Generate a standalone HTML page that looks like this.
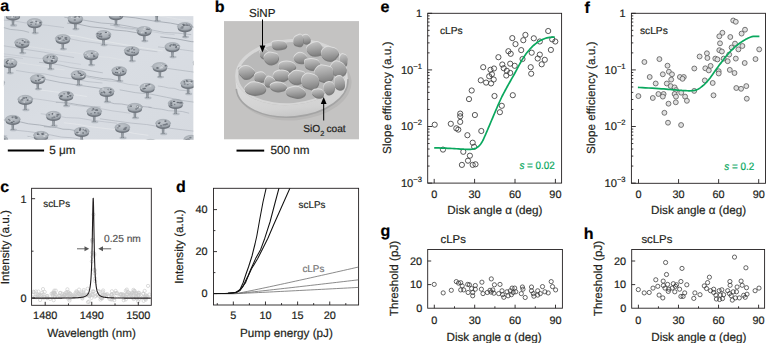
<!DOCTYPE html>
<html><head><meta charset="utf-8"><style>
html,body{margin:0;padding:0;background:#fff;width:766px;height:343px;overflow:hidden}
svg{display:block;font-family:"Liberation Sans", sans-serif;text-rendering:geometricPrecision}
</style></head><body>
<svg width="766" height="343" viewBox="0 0 766 343">
<rect width="766" height="343" fill="#fff"/>
<text x="0.20" y="10.80" font-size="16" text-anchor="start" font-weight="bold" fill="#000" stroke="#000" stroke-width="0.2" >a</text>
<text x="214.70" y="12.20" font-size="16" text-anchor="start" font-weight="bold" fill="#000" stroke="#000" stroke-width="0.2" >b</text>
<text x="0.20" y="192.30" font-size="16" text-anchor="start" font-weight="bold" fill="#000" stroke="#000" stroke-width="0.2" >c</text>
<text x="176.00" y="191.60" font-size="16" text-anchor="start" font-weight="bold" fill="#000" stroke="#000" stroke-width="0.2" >d</text>
<text x="380.40" y="11.60" font-size="16" text-anchor="start" font-weight="bold" fill="#000" stroke="#000" stroke-width="0.2" >e</text>
<text x="584.60" y="12.60" font-size="16" text-anchor="start" font-weight="bold" fill="#000" stroke="#000" stroke-width="0.2" >f</text>
<text x="380.60" y="236.20" font-size="16" text-anchor="start" font-weight="bold" fill="#000" stroke="#000" stroke-width="0.2" >g</text>
<text x="583.80" y="238.90" font-size="16" text-anchor="start" font-weight="bold" fill="#000" stroke="#000" stroke-width="0.2" >h</text>
<defs><linearGradient id="abg" x1="0" y1="0" x2="1" y2="1"><stop offset="0" stop-color="#d2d7dd"/><stop offset="0.5" stop-color="#d9dde3"/><stop offset="1" stop-color="#d6dae0"/></linearGradient><radialGradient id="cap" cx="0.45" cy="0.35" r="0.7"><stop offset="0" stop-color="#bfc4ca"/><stop offset="0.7" stop-color="#a9afb6"/><stop offset="1" stop-color="#8f959c"/></radialGradient><linearGradient id="stem" x1="0" y1="0" x2="1" y2="0"><stop offset="0" stop-color="#737981"/><stop offset="0.5" stop-color="#99a0a7"/><stop offset="1" stop-color="#646a72"/></linearGradient><clipPath id="clipa"><rect x="3.9" y="16.1" width="189.7" height="123.6"/></clipPath><clipPath id="clipb"><rect x="224" y="21.1" width="135" height="118.5"/></clipPath><linearGradient id="bbg" x1="0" y1="0" x2="1" y2="0"><stop offset="0" stop-color="#bdbdbd"/><stop offset="1" stop-color="#cecece"/></linearGradient><linearGradient id="blob" x1="0.3" y1="0" x2="0.5" y2="1"><stop offset="0" stop-color="#c4c4c4"/><stop offset="0.5" stop-color="#a5a5a5"/><stop offset="1" stop-color="#828282"/></linearGradient><linearGradient id="rim" x1="0" y1="0" x2="0" y2="1"><stop offset="0" stop-color="#dedede"/><stop offset="0.8" stop-color="#d2d2d2"/><stop offset="1" stop-color="#c6c6c6"/></linearGradient><filter id="soft" x="-5%" y="-5%" width="110%" height="110%"><feGaussianBlur stdDeviation="0.45"/></filter></defs>
<g clip-path="url(#clipa)"><g filter="url(#soft)">
<rect x="3.9" y="16.1" width="189.7" height="123.6" fill="url(#abg)"/>
<path d="M119.68,89.82 L135.28,92.64 L150.88,94.17 L166.48,97.29 L182.09,100.46 L197.69,102.71 L213.29,105.61" fill="none" stroke="#a6acb4" stroke-width="0.6173070100030382" stroke-linejoin="round" />
<path d="M43.86,126.64 L50.22,127.05 L56.58,127.57 L62.94,129.19 L69.30,129.41 L75.66,130.65 L82.02,130.62" fill="none" stroke="#9fa5ad" stroke-width="0.7278536342097526" stroke-linejoin="round" />
<path d="M-35.73,14.76 L-19.11,17.72 L-2.49,19.63 L14.13,20.96 L30.75,23.81 L47.37,25.34 L63.99,27.54" fill="none" stroke="#aeb4bc" stroke-width="0.5317509008455217" stroke-linejoin="round" />
<path d="M5.24,140.81 L23.11,143.66 L40.98,146.66 L58.85,148.23 L76.72,150.69 L94.58,153.65 L112.45,155.74" fill="none" stroke="#9fa5ad" stroke-width="0.7550704122964611" stroke-linejoin="round" />
<path d="M28.99,46.56 L44.90,48.97 L60.82,51.45 L76.73,52.88 L92.65,56.19 L108.56,57.26 L124.47,60.34" fill="none" stroke="#e4e7ea" stroke-width="0.4581303909203386" stroke-linejoin="round" />
<path d="M40.80,113.72 L53.51,115.28 L66.23,117.62 L78.94,118.11 L91.65,120.19 L104.37,121.80 L117.08,123.22" fill="none" stroke="#b8bdc5" stroke-width="0.6806232054506014" stroke-linejoin="round" />
<path d="M16.59,130.34 L27.76,131.47 L38.93,133.01 L50.10,134.80 L61.27,137.08 L72.44,137.78 L83.62,139.77" fill="none" stroke="#b8bdc5" stroke-width="0.8631392334899906" stroke-linejoin="round" />
<path d="M157.98,46.87 L170.25,48.29 L182.52,49.75 L194.79,51.41 L207.06,53.64 L219.32,55.59 L231.59,56.17" fill="none" stroke="#a6acb4" stroke-width="0.4864312044830218" stroke-linejoin="round" />
<path d="M157.86,86.01 L163.28,86.74 L168.71,88.05 L174.13,88.29 L179.55,90.12 L184.98,90.55 L190.40,91.59" fill="none" stroke="#b8bdc5" stroke-width="0.8272931765256595" stroke-linejoin="round" />
<path d="M117.55,16.03 L135.21,17.82 L152.88,20.83 L170.54,23.10 L188.21,26.54 L205.87,28.50 L223.53,31.30" fill="none" stroke="#9fa5ad" stroke-width="0.8335137019021843" stroke-linejoin="round" />
<path d="M59.14,142.48 L70.65,144.02 L82.16,145.93 L93.67,147.39 L105.18,149.43 L116.69,151.94 L128.20,153.67" fill="none" stroke="#e4e7ea" stroke-width="0.8405095204883475" stroke-linejoin="round" />
<path d="M67.19,23.12 L79.06,24.29 L90.93,26.86 L102.80,28.03 L114.67,30.01 L126.54,31.04 L138.41,33.06" fill="none" stroke="#9fa5ad" stroke-width="0.7670113083030163" stroke-linejoin="round" />
<path d="M65.89,37.98 L81.16,41.07 L96.42,43.03 L111.68,45.26 L126.95,46.89 L142.21,49.84 L157.47,51.80" fill="none" stroke="#b8bdc5" stroke-width="0.6583225449917609" stroke-linejoin="round" />
<path d="M99.86,118.77 L115.50,120.93 L131.13,123.09 L146.77,124.56 L162.40,127.20 L178.04,129.28 L193.67,131.11" fill="none" stroke="#b8bdc5" stroke-width="0.8804324146393885" stroke-linejoin="round" />
<path d="M75.06,74.35 L82.28,74.95 L89.49,76.36 L96.71,77.55 L103.92,78.72 L111.14,79.21 L118.36,81.09" fill="none" stroke="#9fa5ad" stroke-width="0.6824048336558066" stroke-linejoin="round" />
<path d="M27.46,136.29 L39.84,139.17 L52.21,140.21 L64.59,142.68 L76.96,144.73 L89.34,146.21 L101.72,148.91" fill="none" stroke="#aeb4bc" stroke-width="0.7338893229015772" stroke-linejoin="round" />
<path d="M62.93,1.94 L70.95,3.07 L78.97,3.81 L86.98,4.73 L95.00,5.45 L103.02,6.88 L111.03,7.68" fill="none" stroke="#9fa5ad" stroke-width="0.4823896439043729" stroke-linejoin="round" />
<path d="M114.68,27.30 L124.67,28.49 L134.66,29.81 L144.64,30.91 L154.63,32.05 L164.62,33.86 L174.60,34.67" fill="none" stroke="#b8bdc5" stroke-width="0.4926697487598404" stroke-linejoin="round" />
<path d="M35.17,78.27 L47.91,79.92 L60.66,82.53 L73.40,84.46 L86.15,86.27 L98.89,88.13 L111.64,90.81" fill="none" stroke="#9fa5ad" stroke-width="0.6646640873010878" stroke-linejoin="round" />
<path d="M-8.17,26.17 L-1.96,26.82 L4.25,27.74 L10.46,29.44 L16.67,29.98 L22.88,30.71 L29.09,32.36" fill="none" stroke="#9fa5ad" stroke-width="0.6191317367787689" stroke-linejoin="round" />
<path d="M11.43,60.71 L20.32,62.90 L29.20,64.34 L38.09,65.46 L46.98,66.55 L55.86,68.91 L64.75,69.82" fill="none" stroke="#e4e7ea" stroke-width="0.458852092129131" stroke-linejoin="round" />
<path d="M28.47,137.30 L45.87,140.13 L63.26,142.56 L80.65,143.76 L98.05,145.58 L115.44,147.75 L132.84,150.12" fill="none" stroke="#e4e7ea" stroke-width="0.6896540932516897" stroke-linejoin="round" />
<path d="M160.30,36.89 L175.73,38.68 L191.15,41.60 L206.58,42.69 L222.00,44.99 L237.43,46.76 L252.86,48.89" fill="none" stroke="#9fa5ad" stroke-width="0.8462969074738246" stroke-linejoin="round" />
<path d="M-32.70,130.60 L-26.02,131.33 L-19.34,132.32 L-12.66,132.33 L-5.98,133.56 L0.70,134.81 L7.38,135.81" fill="none" stroke="#aeb4bc" stroke-width="0.46639301107284625" stroke-linejoin="round" />
<path d="M59.58,34.02 L76.80,36.19 L94.02,39.92 L111.24,42.31 L128.46,45.30 L145.68,48.27 L162.90,50.99" fill="none" stroke="#e4e7ea" stroke-width="0.8364117977043382" stroke-linejoin="round" />
<path d="M63.80,122.76 L77.90,124.40 L92.00,126.91 L106.09,128.52 L120.19,130.32 L134.29,133.41 L148.39,135.34" fill="none" stroke="#e4e7ea" stroke-width="0.859804027825056" stroke-linejoin="round" />
<path d="M64.37,17.30 L76.69,18.81 L89.01,21.05 L101.33,23.05 L113.65,23.88 L125.97,25.79 L138.29,28.23" fill="none" stroke="#a6acb4" stroke-width="0.7486206324694661" stroke-linejoin="round" />
<path d="M115.65,0.17 L133.69,2.46 L151.74,6.48 L169.79,8.80 L187.84,12.37 L205.89,15.81 L223.94,18.59" fill="none" stroke="#aeb4bc" stroke-width="0.8973238906385139" stroke-linejoin="round" />
<path d="M55.87,102.33 L63.31,102.35 L70.76,103.42 L78.20,104.74 L85.64,105.76 L93.08,106.77 L100.52,107.11" fill="none" stroke="#9fa5ad" stroke-width="0.7088650685046564" stroke-linejoin="round" />
<path d="M148.38,107.23 L155.17,108.49 L161.96,109.28 L168.75,110.75 L175.54,110.99 L182.33,111.53 L189.12,113.22" fill="none" stroke="#aeb4bc" stroke-width="0.70589169065733" stroke-linejoin="round" />
<path d="M24.85,97.46 L42.41,99.78 L59.97,102.50 L77.53,105.72 L95.09,107.58 L112.65,110.92 L130.21,113.23" fill="none" stroke="#b8bdc5" stroke-width="0.6540022017921419" stroke-linejoin="round" />
<path d="M-8.55,54.52 L-3.30,54.56 L1.95,56.24 L7.20,56.50 L12.45,57.12 L17.69,57.73 L22.94,58.50" fill="none" stroke="#b8bdc5" stroke-width="0.4984082326919482" stroke-linejoin="round" />
<path d="M77.74,76.24 L87.87,77.25 L98.00,79.32 L108.13,80.89 L118.25,81.72 L128.38,84.35 L138.51,85.47" fill="none" stroke="#aeb4bc" stroke-width="0.5128943504070513" stroke-linejoin="round" />
<path d="M38.30,89.96 L46.44,90.70 L54.57,91.80 L62.70,92.56 L70.84,94.45 L78.97,95.28 L87.10,96.53" fill="none" stroke="#e4e7ea" stroke-width="0.8825613024324869" stroke-linejoin="round" />
<path d="M-28.47,50.05 L-10.23,52.15 L8.02,54.36 L26.26,56.78 L44.50,59.03 L62.74,61.63 L80.98,64.41" fill="none" stroke="#b8bdc5" stroke-width="0.4501978344630037" stroke-linejoin="round" />
<path d="M150.75,66.59 L164.01,67.95 L177.27,69.81 L190.53,71.62 L203.79,73.68 L217.05,75.49 L230.31,77.88" fill="none" stroke="#aeb4bc" stroke-width="0.6984283824587628" stroke-linejoin="round" />
<path d="M135.77,12.08 L150.77,15.37 L165.78,16.96 L180.78,19.70 L195.79,21.44 L210.79,23.38 L225.80,25.59" fill="none" stroke="#e4e7ea" stroke-width="0.6622792846110394" stroke-linejoin="round" />
<path d="M-11.34,138.12 L2.58,139.96 L16.49,141.05 L30.40,142.87 L44.32,144.43 L58.23,146.46 L72.15,148.05" fill="none" stroke="#e4e7ea" stroke-width="0.8602528641977709" stroke-linejoin="round" />
<path d="M106.81,101.59 L114.27,103.68 L121.73,104.03 L129.19,105.38 L136.65,105.65 L144.11,106.67 L151.57,107.45" fill="none" stroke="#9fa5ad" stroke-width="0.6437915818906577" stroke-linejoin="round" />
<path d="M-34.78,142.31 L-28.97,142.78 L-23.16,144.29 L-17.35,145.74 L-11.54,146.08 L-5.72,146.79 L0.09,147.39" fill="none" stroke="#a6acb4" stroke-width="0.5566478118632464" stroke-linejoin="round" />
<path d="M-16.79,116.75 L-5.51,118.28 L5.78,120.32 L17.06,121.15 L28.34,123.79 L39.63,125.03 L50.91,126.97" fill="none" stroke="#a6acb4" stroke-width="0.8775610650869542" stroke-linejoin="round" />
<path d="M110.00,24.96 L123.54,27.43 L137.08,28.91 L150.63,29.71 L164.17,32.43 L177.71,33.08 L191.25,34.62" fill="none" stroke="#aeb4bc" stroke-width="0.7312267184841166" stroke-linejoin="round" />
<path d="M39.00,62.31 L49.64,63.50 L60.28,65.02 L70.93,67.57 L81.57,69.15 L92.21,71.06 L102.85,72.85" fill="none" stroke="#9fa5ad" stroke-width="0.5020590689958814" stroke-linejoin="round" />
<path d="M-17.70,42.63 L-2.40,44.85 L12.90,47.23 L28.20,49.86 L43.50,52.10 L58.80,54.95 L74.10,57.56" fill="none" stroke="#aeb4bc" stroke-width="0.5741246706072171" stroke-linejoin="round" />
<path d="M16.14,70.46 L30.52,72.73 L44.91,74.02 L59.29,77.13 L73.67,78.93 L88.05,81.67 L102.43,83.01" fill="none" stroke="#b8bdc5" stroke-width="0.744344151937541" stroke-linejoin="round" />
<ellipse cx="157.30" cy="21.10" rx="3.6" ry="1.4" fill="#aeb4bb" opacity="0.8"/>
<path d="M155.20,13.20 L158.20,13.20 L157.80,20.10 L158.50,21.30 L154.90,21.30 L155.60,20.10 Z" fill="url(#stem)"/>
<ellipse cx="156.70" cy="12.60" rx="7.1" ry="3.7" fill="#6f757d"/>
<ellipse cx="156.70" cy="10.50" rx="7.5" ry="4.0" fill="url(#cap)" stroke="#91979e" stroke-width="0.4"/>
<ellipse cx="153.05" cy="10.95" rx="0.80" ry="0.85" fill="#646a72"/>
<ellipse cx="154.56" cy="12.28" rx="1.12" ry="0.63" fill="#d0d4d9"/>
<ellipse cx="155.17" cy="8.06" rx="0.82" ry="0.88" fill="#6a7078"/>
<ellipse cx="158.51" cy="11.92" rx="0.78" ry="0.70" fill="#d0d4d9"/>
<ellipse cx="161.15" cy="11.47" rx="1.25" ry="0.85" fill="#7d838b"/>
<ellipse cx="157.61" cy="12.11" rx="1.26" ry="0.86" fill="#7d838b"/>
<ellipse cx="159.95" cy="9.45" rx="0.94" ry="0.52" fill="#646a72"/>
<ellipse cx="158.64" cy="9.55" rx="0.97" ry="0.70" fill="#646a72"/>
<ellipse cx="157.12" cy="13.07" rx="1.30" ry="0.89" fill="#646a72"/>
<ellipse cx="159.92" cy="12.09" rx="1.33" ry="0.58" fill="#646a72"/>
<ellipse cx="116.60" cy="25.10" rx="3.6" ry="1.4" fill="#aeb4bb" opacity="0.8"/>
<path d="M114.50,17.20 L117.50,17.20 L117.10,24.10 L117.80,25.30 L114.20,25.30 L114.90,24.10 Z" fill="url(#stem)"/>
<ellipse cx="116.00" cy="16.60" rx="7.1" ry="3.7" fill="#6f757d"/>
<ellipse cx="116.00" cy="14.50" rx="7.5" ry="4.0" fill="url(#cap)" stroke="#91979e" stroke-width="0.4"/>
<ellipse cx="118.29" cy="13.55" rx="1.34" ry="0.70" fill="#d0d4d9"/>
<ellipse cx="110.38" cy="14.56" rx="0.99" ry="0.66" fill="#646a72"/>
<ellipse cx="115.10" cy="13.04" rx="1.36" ry="0.79" fill="#646a72"/>
<ellipse cx="120.12" cy="15.25" rx="1.12" ry="0.56" fill="#7d838b"/>
<ellipse cx="115.63" cy="12.22" rx="0.72" ry="0.85" fill="#6a7078"/>
<ellipse cx="119.13" cy="13.99" rx="1.13" ry="0.52" fill="#7d838b"/>
<ellipse cx="118.41" cy="12.69" rx="1.10" ry="0.78" fill="#7d838b"/>
<ellipse cx="120.23" cy="16.30" rx="0.96" ry="0.58" fill="#737981"/>
<ellipse cx="120.42" cy="14.30" rx="0.71" ry="0.82" fill="#7d838b"/>
<ellipse cx="118.86" cy="14.51" rx="0.86" ry="0.61" fill="#646a72"/>
<ellipse cx="13.60" cy="25.40" rx="3.6" ry="1.4" fill="#aeb4bb" opacity="0.8"/>
<path d="M11.50,17.50 L14.50,17.50 L14.10,24.40 L14.80,25.60 L11.20,25.60 L11.90,24.40 Z" fill="url(#stem)"/>
<ellipse cx="13.00" cy="16.90" rx="7.1" ry="3.7" fill="#6f757d"/>
<ellipse cx="13.00" cy="14.80" rx="7.5" ry="4.0" fill="url(#cap)" stroke="#91979e" stroke-width="0.4"/>
<ellipse cx="11.79" cy="16.47" rx="1.06" ry="0.52" fill="#6a7078"/>
<ellipse cx="14.00" cy="12.15" rx="1.05" ry="0.78" fill="#737981"/>
<ellipse cx="10.52" cy="14.24" rx="1.15" ry="0.54" fill="#6a7078"/>
<ellipse cx="7.27" cy="14.62" rx="1.09" ry="0.56" fill="#7d838b"/>
<ellipse cx="15.55" cy="17.23" rx="0.88" ry="0.52" fill="#737981"/>
<ellipse cx="12.75" cy="16.36" rx="0.78" ry="0.56" fill="#646a72"/>
<ellipse cx="15.96" cy="15.42" rx="0.97" ry="0.74" fill="#7d838b"/>
<ellipse cx="12.10" cy="16.88" rx="0.89" ry="0.88" fill="#d0d4d9"/>
<ellipse cx="12.18" cy="16.23" rx="0.99" ry="0.56" fill="#d0d4d9"/>
<ellipse cx="13.34" cy="12.85" rx="1.32" ry="0.57" fill="#7d838b"/>
<ellipse cx="75.90" cy="29.10" rx="3.6" ry="1.4" fill="#aeb4bb" opacity="0.8"/>
<path d="M73.80,21.20 L76.80,21.20 L76.40,28.10 L77.10,29.30 L73.50,29.30 L74.20,28.10 Z" fill="url(#stem)"/>
<ellipse cx="75.30" cy="20.60" rx="7.1" ry="3.7" fill="#6f757d"/>
<ellipse cx="75.30" cy="18.50" rx="7.5" ry="4.0" fill="url(#cap)" stroke="#91979e" stroke-width="0.4"/>
<ellipse cx="76.05" cy="15.70" rx="1.05" ry="0.54" fill="#646a72"/>
<ellipse cx="74.81" cy="19.98" rx="1.26" ry="0.83" fill="#737981"/>
<ellipse cx="75.91" cy="16.86" rx="0.71" ry="0.57" fill="#6a7078"/>
<ellipse cx="71.66" cy="17.28" rx="0.76" ry="0.72" fill="#d0d4d9"/>
<ellipse cx="79.36" cy="17.77" rx="1.36" ry="0.51" fill="#d0d4d9"/>
<ellipse cx="78.62" cy="17.06" rx="1.07" ry="0.71" fill="#646a72"/>
<ellipse cx="78.48" cy="16.91" rx="1.37" ry="0.53" fill="#737981"/>
<ellipse cx="74.78" cy="17.06" rx="1.19" ry="0.68" fill="#6a7078"/>
<ellipse cx="79.10" cy="16.85" rx="1.18" ry="0.51" fill="#737981"/>
<ellipse cx="77.66" cy="17.34" rx="1.28" ry="0.79" fill="#d0d4d9"/>
<ellipse cx="35.20" cy="33.10" rx="3.6" ry="1.4" fill="#aeb4bb" opacity="0.8"/>
<path d="M33.10,25.20 L36.10,25.20 L35.70,32.10 L36.40,33.30 L32.80,33.30 L33.50,32.10 Z" fill="url(#stem)"/>
<ellipse cx="34.60" cy="24.60" rx="7.1" ry="3.7" fill="#6f757d"/>
<ellipse cx="34.60" cy="22.50" rx="7.5" ry="4.0" fill="url(#cap)" stroke="#91979e" stroke-width="0.4"/>
<ellipse cx="31.29" cy="22.54" rx="1.14" ry="0.53" fill="#646a72"/>
<ellipse cx="32.91" cy="20.70" rx="0.75" ry="0.58" fill="#d0d4d9"/>
<ellipse cx="34.65" cy="21.07" rx="0.72" ry="0.75" fill="#d0d4d9"/>
<ellipse cx="32.10" cy="22.21" rx="1.24" ry="0.63" fill="#7d838b"/>
<ellipse cx="40.32" cy="22.66" rx="1.11" ry="0.89" fill="#6a7078"/>
<ellipse cx="36.01" cy="21.23" rx="0.94" ry="0.59" fill="#737981"/>
<ellipse cx="35.75" cy="24.06" rx="0.78" ry="0.55" fill="#646a72"/>
<ellipse cx="31.12" cy="24.36" rx="1.03" ry="0.71" fill="#7d838b"/>
<ellipse cx="36.54" cy="21.49" rx="0.70" ry="0.81" fill="#737981"/>
<ellipse cx="37.93" cy="22.67" rx="1.13" ry="0.88" fill="#d0d4d9"/>
<ellipse cx="-5.50" cy="37.10" rx="3.6" ry="1.4" fill="#aeb4bb" opacity="0.8"/>
<path d="M-7.60,29.20 L-4.60,29.20 L-5.00,36.10 L-4.30,37.30 L-7.90,37.30 L-7.20,36.10 Z" fill="url(#stem)"/>
<ellipse cx="-6.10" cy="28.60" rx="7.1" ry="3.7" fill="#6f757d"/>
<ellipse cx="-6.10" cy="26.50" rx="7.5" ry="4.0" fill="url(#cap)" stroke="#91979e" stroke-width="0.4"/>
<ellipse cx="-5.27" cy="25.19" rx="0.88" ry="0.84" fill="#d0d4d9"/>
<ellipse cx="-2.81" cy="24.80" rx="1.18" ry="0.55" fill="#646a72"/>
<ellipse cx="-4.30" cy="23.65" rx="1.25" ry="0.86" fill="#646a72"/>
<ellipse cx="-2.09" cy="24.47" rx="1.38" ry="0.54" fill="#7d838b"/>
<ellipse cx="-9.72" cy="27.25" rx="0.93" ry="0.73" fill="#6a7078"/>
<ellipse cx="-8.59" cy="27.10" rx="0.91" ry="0.69" fill="#d0d4d9"/>
<ellipse cx="-9.75" cy="27.04" rx="0.93" ry="0.52" fill="#646a72"/>
<ellipse cx="-4.03" cy="28.46" rx="0.83" ry="0.78" fill="#737981"/>
<ellipse cx="-3.50" cy="26.00" rx="1.38" ry="0.88" fill="#d0d4d9"/>
<ellipse cx="-5.70" cy="23.67" rx="1.21" ry="0.58" fill="#d0d4d9"/>
<ellipse cx="185.50" cy="37.10" rx="3.6" ry="1.4" fill="#aeb4bb" opacity="0.8"/>
<path d="M183.40,29.20 L186.40,29.20 L186.00,36.10 L186.70,37.30 L183.10,37.30 L183.80,36.10 Z" fill="url(#stem)"/>
<ellipse cx="184.90" cy="28.60" rx="7.1" ry="3.7" fill="#6f757d"/>
<ellipse cx="184.90" cy="26.50" rx="7.5" ry="4.0" fill="url(#cap)" stroke="#91979e" stroke-width="0.4"/>
<ellipse cx="185.27" cy="25.10" rx="1.17" ry="0.67" fill="#737981"/>
<ellipse cx="187.30" cy="25.13" rx="1.28" ry="0.71" fill="#646a72"/>
<ellipse cx="182.48" cy="26.79" rx="1.34" ry="0.58" fill="#737981"/>
<ellipse cx="190.51" cy="26.70" rx="0.73" ry="0.56" fill="#737981"/>
<ellipse cx="183.44" cy="24.46" rx="1.25" ry="0.66" fill="#6a7078"/>
<ellipse cx="181.46" cy="27.98" rx="1.31" ry="0.70" fill="#7d838b"/>
<ellipse cx="182.75" cy="27.86" rx="0.92" ry="0.65" fill="#737981"/>
<ellipse cx="186.47" cy="23.98" rx="0.82" ry="0.57" fill="#7d838b"/>
<ellipse cx="183.88" cy="25.30" rx="1.04" ry="0.85" fill="#6a7078"/>
<ellipse cx="189.14" cy="25.08" rx="0.89" ry="0.56" fill="#6a7078"/>
<ellipse cx="144.80" cy="41.10" rx="3.6" ry="1.4" fill="#aeb4bb" opacity="0.8"/>
<path d="M142.70,33.20 L145.70,33.20 L145.30,40.10 L146.00,41.30 L142.40,41.30 L143.10,40.10 Z" fill="url(#stem)"/>
<ellipse cx="144.20" cy="32.60" rx="7.1" ry="3.7" fill="#6f757d"/>
<ellipse cx="144.20" cy="30.50" rx="7.5" ry="4.0" fill="url(#cap)" stroke="#91979e" stroke-width="0.4"/>
<ellipse cx="138.38" cy="30.90" rx="0.83" ry="0.56" fill="#7d838b"/>
<ellipse cx="144.09" cy="29.13" rx="0.90" ry="0.64" fill="#d0d4d9"/>
<ellipse cx="146.20" cy="32.94" rx="1.17" ry="0.54" fill="#737981"/>
<ellipse cx="141.49" cy="32.69" rx="0.79" ry="0.67" fill="#d0d4d9"/>
<ellipse cx="145.61" cy="32.88" rx="1.00" ry="0.84" fill="#646a72"/>
<ellipse cx="148.73" cy="29.51" rx="1.05" ry="0.52" fill="#6a7078"/>
<ellipse cx="147.21" cy="29.16" rx="1.21" ry="0.58" fill="#646a72"/>
<ellipse cx="149.22" cy="29.03" rx="0.76" ry="0.64" fill="#737981"/>
<ellipse cx="144.83" cy="27.53" rx="0.83" ry="0.71" fill="#d0d4d9"/>
<ellipse cx="142.54" cy="31.94" rx="1.40" ry="0.51" fill="#d0d4d9"/>
<ellipse cx="104.10" cy="45.10" rx="3.6" ry="1.4" fill="#aeb4bb" opacity="0.8"/>
<path d="M102.00,37.20 L105.00,37.20 L104.60,44.10 L105.30,45.30 L101.70,45.30 L102.40,44.10 Z" fill="url(#stem)"/>
<ellipse cx="103.50" cy="36.60" rx="7.1" ry="3.7" fill="#6f757d"/>
<ellipse cx="103.50" cy="34.50" rx="7.5" ry="4.0" fill="url(#cap)" stroke="#91979e" stroke-width="0.4"/>
<ellipse cx="100.74" cy="33.70" rx="1.28" ry="0.61" fill="#737981"/>
<ellipse cx="101.65" cy="36.23" rx="0.75" ry="0.83" fill="#737981"/>
<ellipse cx="97.97" cy="35.35" rx="0.73" ry="0.57" fill="#737981"/>
<ellipse cx="107.14" cy="32.80" rx="1.15" ry="0.82" fill="#d0d4d9"/>
<ellipse cx="99.78" cy="36.27" rx="1.32" ry="0.70" fill="#6a7078"/>
<ellipse cx="109.26" cy="35.13" rx="0.80" ry="0.67" fill="#737981"/>
<ellipse cx="105.94" cy="32.40" rx="1.13" ry="0.70" fill="#6a7078"/>
<ellipse cx="100.18" cy="34.28" rx="1.13" ry="0.88" fill="#7d838b"/>
<ellipse cx="97.77" cy="33.80" rx="1.22" ry="0.76" fill="#6a7078"/>
<ellipse cx="101.47" cy="37.07" rx="0.84" ry="0.51" fill="#6a7078"/>
<ellipse cx="63.40" cy="49.10" rx="3.6" ry="1.4" fill="#aeb4bb" opacity="0.8"/>
<path d="M61.30,41.20 L64.30,41.20 L63.90,48.10 L64.60,49.30 L61.00,49.30 L61.70,48.10 Z" fill="url(#stem)"/>
<ellipse cx="62.80" cy="40.60" rx="7.1" ry="3.7" fill="#6f757d"/>
<ellipse cx="62.80" cy="38.50" rx="7.5" ry="4.0" fill="url(#cap)" stroke="#91979e" stroke-width="0.4"/>
<ellipse cx="62.19" cy="36.80" rx="0.91" ry="0.50" fill="#6a7078"/>
<ellipse cx="66.25" cy="37.75" rx="1.15" ry="0.63" fill="#737981"/>
<ellipse cx="60.36" cy="38.07" rx="1.22" ry="0.58" fill="#646a72"/>
<ellipse cx="63.62" cy="40.18" rx="1.32" ry="0.68" fill="#7d838b"/>
<ellipse cx="58.23" cy="37.61" rx="0.75" ry="0.78" fill="#6a7078"/>
<ellipse cx="65.31" cy="38.01" rx="1.10" ry="0.70" fill="#6a7078"/>
<ellipse cx="59.69" cy="40.34" rx="1.33" ry="0.64" fill="#d0d4d9"/>
<ellipse cx="58.94" cy="38.30" rx="0.81" ry="0.72" fill="#7d838b"/>
<ellipse cx="59.46" cy="38.97" rx="1.26" ry="0.71" fill="#646a72"/>
<ellipse cx="66.27" cy="39.17" rx="1.21" ry="0.76" fill="#6a7078"/>
<ellipse cx="22.70" cy="53.10" rx="3.6" ry="1.4" fill="#aeb4bb" opacity="0.8"/>
<path d="M20.60,45.20 L23.60,45.20 L23.20,52.10 L23.90,53.30 L20.30,53.30 L21.00,52.10 Z" fill="url(#stem)"/>
<ellipse cx="22.10" cy="44.60" rx="7.1" ry="3.7" fill="#6f757d"/>
<ellipse cx="22.10" cy="42.50" rx="7.5" ry="4.0" fill="url(#cap)" stroke="#91979e" stroke-width="0.4"/>
<ellipse cx="21.86" cy="44.57" rx="0.75" ry="0.88" fill="#6a7078"/>
<ellipse cx="17.14" cy="42.36" rx="0.74" ry="0.55" fill="#7d838b"/>
<ellipse cx="19.85" cy="43.11" rx="1.00" ry="0.66" fill="#737981"/>
<ellipse cx="27.76" cy="42.01" rx="1.39" ry="0.57" fill="#646a72"/>
<ellipse cx="22.34" cy="45.03" rx="1.06" ry="0.74" fill="#646a72"/>
<ellipse cx="23.48" cy="44.74" rx="0.97" ry="0.61" fill="#737981"/>
<ellipse cx="24.79" cy="42.25" rx="1.07" ry="0.62" fill="#6a7078"/>
<ellipse cx="24.53" cy="41.46" rx="1.03" ry="0.76" fill="#6a7078"/>
<ellipse cx="23.59" cy="40.47" rx="1.37" ry="0.89" fill="#d0d4d9"/>
<ellipse cx="22.69" cy="40.43" rx="1.11" ry="0.75" fill="#6a7078"/>
<ellipse cx="173.00" cy="57.10" rx="3.6" ry="1.4" fill="#aeb4bb" opacity="0.8"/>
<path d="M170.90,49.20 L173.90,49.20 L173.50,56.10 L174.20,57.30 L170.60,57.30 L171.30,56.10 Z" fill="url(#stem)"/>
<ellipse cx="172.40" cy="48.60" rx="7.1" ry="3.7" fill="#6f757d"/>
<ellipse cx="172.40" cy="46.50" rx="7.5" ry="4.0" fill="url(#cap)" stroke="#91979e" stroke-width="0.4"/>
<ellipse cx="173.58" cy="45.21" rx="1.23" ry="0.84" fill="#7d838b"/>
<ellipse cx="176.07" cy="47.45" rx="1.11" ry="0.71" fill="#737981"/>
<ellipse cx="176.54" cy="46.40" rx="0.99" ry="0.70" fill="#646a72"/>
<ellipse cx="170.17" cy="45.89" rx="0.90" ry="0.78" fill="#646a72"/>
<ellipse cx="175.22" cy="44.74" rx="0.89" ry="0.72" fill="#7d838b"/>
<ellipse cx="177.85" cy="46.62" rx="1.06" ry="0.68" fill="#d0d4d9"/>
<ellipse cx="178.03" cy="45.62" rx="0.93" ry="0.57" fill="#7d838b"/>
<ellipse cx="171.21" cy="44.76" rx="1.03" ry="0.85" fill="#7d838b"/>
<ellipse cx="175.52" cy="45.75" rx="0.77" ry="0.73" fill="#7d838b"/>
<ellipse cx="173.66" cy="44.24" rx="1.27" ry="0.53" fill="#6a7078"/>
<ellipse cx="132.30" cy="61.10" rx="3.6" ry="1.4" fill="#aeb4bb" opacity="0.8"/>
<path d="M130.20,53.20 L133.20,53.20 L132.80,60.10 L133.50,61.30 L129.90,61.30 L130.60,60.10 Z" fill="url(#stem)"/>
<ellipse cx="131.70" cy="52.60" rx="7.1" ry="3.7" fill="#6f757d"/>
<ellipse cx="131.70" cy="50.50" rx="7.5" ry="4.0" fill="url(#cap)" stroke="#91979e" stroke-width="0.4"/>
<ellipse cx="132.08" cy="52.29" rx="0.96" ry="0.70" fill="#737981"/>
<ellipse cx="134.17" cy="52.64" rx="0.78" ry="0.53" fill="#646a72"/>
<ellipse cx="132.49" cy="47.73" rx="0.90" ry="0.69" fill="#7d838b"/>
<ellipse cx="132.39" cy="48.46" rx="0.82" ry="0.83" fill="#7d838b"/>
<ellipse cx="134.07" cy="49.72" rx="1.23" ry="0.83" fill="#7d838b"/>
<ellipse cx="129.39" cy="49.24" rx="0.84" ry="0.78" fill="#737981"/>
<ellipse cx="127.39" cy="50.60" rx="0.99" ry="0.79" fill="#7d838b"/>
<ellipse cx="127.93" cy="50.92" rx="0.76" ry="0.61" fill="#737981"/>
<ellipse cx="131.26" cy="48.91" rx="0.71" ry="0.74" fill="#737981"/>
<ellipse cx="128.92" cy="50.91" rx="0.77" ry="0.75" fill="#6a7078"/>
<ellipse cx="91.60" cy="65.10" rx="3.6" ry="1.4" fill="#aeb4bb" opacity="0.8"/>
<path d="M89.50,57.20 L92.50,57.20 L92.10,64.10 L92.80,65.30 L89.20,65.30 L89.90,64.10 Z" fill="url(#stem)"/>
<ellipse cx="91.00" cy="56.60" rx="7.1" ry="3.7" fill="#6f757d"/>
<ellipse cx="91.00" cy="54.50" rx="7.5" ry="4.0" fill="url(#cap)" stroke="#91979e" stroke-width="0.4"/>
<ellipse cx="85.96" cy="53.73" rx="0.79" ry="0.63" fill="#737981"/>
<ellipse cx="87.45" cy="56.77" rx="0.76" ry="0.53" fill="#7d838b"/>
<ellipse cx="85.75" cy="53.34" rx="1.15" ry="0.77" fill="#d0d4d9"/>
<ellipse cx="95.47" cy="52.69" rx="1.14" ry="0.60" fill="#d0d4d9"/>
<ellipse cx="89.00" cy="56.13" rx="0.91" ry="0.58" fill="#d0d4d9"/>
<ellipse cx="93.81" cy="56.81" rx="0.79" ry="0.59" fill="#737981"/>
<ellipse cx="91.86" cy="53.27" rx="1.18" ry="0.74" fill="#6a7078"/>
<ellipse cx="94.40" cy="56.33" rx="1.18" ry="0.74" fill="#6a7078"/>
<ellipse cx="93.67" cy="55.19" rx="0.78" ry="0.70" fill="#737981"/>
<ellipse cx="87.67" cy="54.75" rx="0.96" ry="0.86" fill="#d0d4d9"/>
<ellipse cx="50.90" cy="69.10" rx="3.6" ry="1.4" fill="#aeb4bb" opacity="0.8"/>
<path d="M48.80,61.20 L51.80,61.20 L51.40,68.10 L52.10,69.30 L48.50,69.30 L49.20,68.10 Z" fill="url(#stem)"/>
<ellipse cx="50.30" cy="60.60" rx="7.1" ry="3.7" fill="#6f757d"/>
<ellipse cx="50.30" cy="58.50" rx="7.5" ry="4.0" fill="url(#cap)" stroke="#91979e" stroke-width="0.4"/>
<ellipse cx="47.27" cy="57.66" rx="0.78" ry="0.59" fill="#6a7078"/>
<ellipse cx="53.85" cy="56.67" rx="1.07" ry="0.84" fill="#7d838b"/>
<ellipse cx="51.81" cy="60.84" rx="1.17" ry="0.80" fill="#646a72"/>
<ellipse cx="52.13" cy="60.94" rx="1.20" ry="0.79" fill="#646a72"/>
<ellipse cx="53.20" cy="56.45" rx="0.74" ry="0.79" fill="#737981"/>
<ellipse cx="48.63" cy="61.15" rx="0.91" ry="0.53" fill="#d0d4d9"/>
<ellipse cx="53.47" cy="58.30" rx="1.33" ry="0.58" fill="#646a72"/>
<ellipse cx="53.41" cy="59.40" rx="1.02" ry="0.77" fill="#d0d4d9"/>
<ellipse cx="47.96" cy="56.52" rx="0.77" ry="0.86" fill="#7d838b"/>
<ellipse cx="50.67" cy="56.78" rx="0.74" ry="0.65" fill="#646a72"/>
<ellipse cx="10.20" cy="73.10" rx="3.6" ry="1.4" fill="#aeb4bb" opacity="0.8"/>
<path d="M8.10,65.20 L11.10,65.20 L10.70,72.10 L11.40,73.30 L7.80,73.30 L8.50,72.10 Z" fill="url(#stem)"/>
<ellipse cx="9.60" cy="64.60" rx="7.1" ry="3.7" fill="#6f757d"/>
<ellipse cx="9.60" cy="62.50" rx="7.5" ry="4.0" fill="url(#cap)" stroke="#91979e" stroke-width="0.4"/>
<ellipse cx="12.65" cy="60.40" rx="1.19" ry="0.87" fill="#d0d4d9"/>
<ellipse cx="9.80" cy="63.82" rx="0.74" ry="0.50" fill="#7d838b"/>
<ellipse cx="8.71" cy="61.06" rx="1.40" ry="0.76" fill="#d0d4d9"/>
<ellipse cx="7.98" cy="60.45" rx="0.92" ry="0.79" fill="#6a7078"/>
<ellipse cx="6.87" cy="61.59" rx="1.03" ry="0.61" fill="#646a72"/>
<ellipse cx="6.46" cy="62.80" rx="1.01" ry="0.69" fill="#6a7078"/>
<ellipse cx="7.41" cy="63.65" rx="1.03" ry="0.54" fill="#646a72"/>
<ellipse cx="13.09" cy="64.55" rx="0.75" ry="0.60" fill="#7d838b"/>
<ellipse cx="12.11" cy="63.70" rx="0.99" ry="0.88" fill="#6a7078"/>
<ellipse cx="10.54" cy="64.86" rx="1.28" ry="0.71" fill="#7d838b"/>
<ellipse cx="201.20" cy="73.10" rx="3.6" ry="1.4" fill="#aeb4bb" opacity="0.8"/>
<path d="M199.10,65.20 L202.10,65.20 L201.70,72.10 L202.40,73.30 L198.80,73.30 L199.50,72.10 Z" fill="url(#stem)"/>
<ellipse cx="200.60" cy="64.60" rx="7.1" ry="3.7" fill="#6f757d"/>
<ellipse cx="200.60" cy="62.50" rx="7.5" ry="4.0" fill="url(#cap)" stroke="#91979e" stroke-width="0.4"/>
<ellipse cx="198.70" cy="63.80" rx="1.31" ry="0.84" fill="#7d838b"/>
<ellipse cx="199.87" cy="60.21" rx="0.75" ry="0.87" fill="#6a7078"/>
<ellipse cx="197.27" cy="60.64" rx="1.12" ry="0.51" fill="#7d838b"/>
<ellipse cx="202.64" cy="64.84" rx="1.01" ry="0.52" fill="#646a72"/>
<ellipse cx="201.27" cy="60.44" rx="0.72" ry="0.89" fill="#6a7078"/>
<ellipse cx="204.34" cy="63.14" rx="0.93" ry="0.76" fill="#646a72"/>
<ellipse cx="198.19" cy="63.18" rx="1.06" ry="0.64" fill="#646a72"/>
<ellipse cx="199.08" cy="59.81" rx="0.99" ry="0.52" fill="#7d838b"/>
<ellipse cx="197.27" cy="63.33" rx="1.09" ry="0.79" fill="#6a7078"/>
<ellipse cx="197.49" cy="64.99" rx="0.71" ry="0.58" fill="#646a72"/>
<ellipse cx="160.50" cy="77.10" rx="3.6" ry="1.4" fill="#aeb4bb" opacity="0.8"/>
<path d="M158.40,69.20 L161.40,69.20 L161.00,76.10 L161.70,77.30 L158.10,77.30 L158.80,76.10 Z" fill="url(#stem)"/>
<ellipse cx="159.90" cy="68.60" rx="7.1" ry="3.7" fill="#6f757d"/>
<ellipse cx="159.90" cy="66.50" rx="7.5" ry="4.0" fill="url(#cap)" stroke="#91979e" stroke-width="0.4"/>
<ellipse cx="165.61" cy="65.78" rx="1.20" ry="0.74" fill="#646a72"/>
<ellipse cx="157.52" cy="68.24" rx="1.17" ry="0.87" fill="#7d838b"/>
<ellipse cx="162.58" cy="65.49" rx="1.10" ry="0.65" fill="#646a72"/>
<ellipse cx="162.43" cy="66.00" rx="1.12" ry="0.62" fill="#d0d4d9"/>
<ellipse cx="163.47" cy="65.82" rx="1.05" ry="0.63" fill="#d0d4d9"/>
<ellipse cx="157.40" cy="67.87" rx="1.24" ry="0.53" fill="#646a72"/>
<ellipse cx="161.66" cy="64.86" rx="0.84" ry="0.54" fill="#d0d4d9"/>
<ellipse cx="160.43" cy="68.00" rx="0.94" ry="0.59" fill="#d0d4d9"/>
<ellipse cx="162.78" cy="65.34" rx="0.74" ry="0.62" fill="#d0d4d9"/>
<ellipse cx="161.65" cy="67.44" rx="1.30" ry="0.89" fill="#d0d4d9"/>
<ellipse cx="119.80" cy="81.10" rx="3.6" ry="1.4" fill="#aeb4bb" opacity="0.8"/>
<path d="M117.70,73.20 L120.70,73.20 L120.30,80.10 L121.00,81.30 L117.40,81.30 L118.10,80.10 Z" fill="url(#stem)"/>
<ellipse cx="119.20" cy="72.60" rx="7.1" ry="3.7" fill="#6f757d"/>
<ellipse cx="119.20" cy="70.50" rx="7.5" ry="4.0" fill="url(#cap)" stroke="#91979e" stroke-width="0.4"/>
<ellipse cx="119.74" cy="72.90" rx="1.35" ry="0.85" fill="#737981"/>
<ellipse cx="122.60" cy="70.02" rx="0.77" ry="0.52" fill="#7d838b"/>
<ellipse cx="120.22" cy="67.77" rx="1.26" ry="0.59" fill="#7d838b"/>
<ellipse cx="115.74" cy="72.40" rx="0.73" ry="0.63" fill="#646a72"/>
<ellipse cx="116.54" cy="68.53" rx="0.70" ry="0.55" fill="#737981"/>
<ellipse cx="117.43" cy="72.76" rx="1.22" ry="0.81" fill="#6a7078"/>
<ellipse cx="119.01" cy="68.09" rx="1.02" ry="0.89" fill="#6a7078"/>
<ellipse cx="119.29" cy="72.68" rx="1.09" ry="0.77" fill="#d0d4d9"/>
<ellipse cx="123.19" cy="71.53" rx="1.14" ry="0.83" fill="#646a72"/>
<ellipse cx="117.12" cy="69.50" rx="1.20" ry="0.53" fill="#646a72"/>
<ellipse cx="79.10" cy="85.10" rx="3.6" ry="1.4" fill="#aeb4bb" opacity="0.8"/>
<path d="M77.00,77.20 L80.00,77.20 L79.60,84.10 L80.30,85.30 L76.70,85.30 L77.40,84.10 Z" fill="url(#stem)"/>
<ellipse cx="78.50" cy="76.60" rx="7.1" ry="3.7" fill="#6f757d"/>
<ellipse cx="78.50" cy="74.50" rx="7.5" ry="4.0" fill="url(#cap)" stroke="#91979e" stroke-width="0.4"/>
<ellipse cx="82.71" cy="76.46" rx="1.15" ry="0.87" fill="#d0d4d9"/>
<ellipse cx="82.77" cy="75.31" rx="0.85" ry="0.74" fill="#d0d4d9"/>
<ellipse cx="83.41" cy="74.26" rx="0.87" ry="0.57" fill="#737981"/>
<ellipse cx="73.65" cy="75.28" rx="0.72" ry="0.58" fill="#d0d4d9"/>
<ellipse cx="74.53" cy="74.53" rx="0.72" ry="0.54" fill="#646a72"/>
<ellipse cx="81.32" cy="75.42" rx="1.09" ry="0.65" fill="#6a7078"/>
<ellipse cx="78.14" cy="71.67" rx="0.71" ry="0.74" fill="#6a7078"/>
<ellipse cx="78.85" cy="73.02" rx="1.21" ry="0.80" fill="#737981"/>
<ellipse cx="81.53" cy="75.18" rx="1.26" ry="0.89" fill="#646a72"/>
<ellipse cx="80.20" cy="73.40" rx="1.03" ry="0.74" fill="#646a72"/>
<ellipse cx="38.40" cy="89.10" rx="3.6" ry="1.4" fill="#aeb4bb" opacity="0.8"/>
<path d="M36.30,81.20 L39.30,81.20 L38.90,88.10 L39.60,89.30 L36.00,89.30 L36.70,88.10 Z" fill="url(#stem)"/>
<ellipse cx="37.80" cy="80.60" rx="7.1" ry="3.7" fill="#6f757d"/>
<ellipse cx="37.80" cy="78.50" rx="7.5" ry="4.0" fill="url(#cap)" stroke="#91979e" stroke-width="0.4"/>
<ellipse cx="38.61" cy="80.35" rx="0.91" ry="0.78" fill="#6a7078"/>
<ellipse cx="42.84" cy="77.42" rx="1.37" ry="0.54" fill="#646a72"/>
<ellipse cx="35.98" cy="80.17" rx="0.83" ry="0.82" fill="#d0d4d9"/>
<ellipse cx="39.85" cy="79.64" rx="1.02" ry="0.64" fill="#737981"/>
<ellipse cx="40.66" cy="80.57" rx="0.88" ry="0.51" fill="#d0d4d9"/>
<ellipse cx="42.06" cy="80.05" rx="1.24" ry="0.67" fill="#d0d4d9"/>
<ellipse cx="37.83" cy="75.78" rx="1.06" ry="0.54" fill="#646a72"/>
<ellipse cx="38.26" cy="76.43" rx="0.72" ry="0.81" fill="#7d838b"/>
<ellipse cx="35.90" cy="80.67" rx="0.80" ry="0.88" fill="#646a72"/>
<ellipse cx="42.29" cy="79.47" rx="1.17" ry="0.67" fill="#d0d4d9"/>
<ellipse cx="-2.30" cy="93.10" rx="3.6" ry="1.4" fill="#aeb4bb" opacity="0.8"/>
<path d="M-4.40,85.20 L-1.40,85.20 L-1.80,92.10 L-1.10,93.30 L-4.70,93.30 L-4.00,92.10 Z" fill="url(#stem)"/>
<ellipse cx="-2.90" cy="84.60" rx="7.1" ry="3.7" fill="#6f757d"/>
<ellipse cx="-2.90" cy="82.50" rx="7.5" ry="4.0" fill="url(#cap)" stroke="#91979e" stroke-width="0.4"/>
<ellipse cx="-6.74" cy="84.59" rx="1.20" ry="0.71" fill="#7d838b"/>
<ellipse cx="-6.21" cy="80.48" rx="1.09" ry="0.80" fill="#d0d4d9"/>
<ellipse cx="-6.97" cy="82.51" rx="0.84" ry="0.76" fill="#6a7078"/>
<ellipse cx="2.59" cy="83.19" rx="1.33" ry="0.56" fill="#737981"/>
<ellipse cx="2.55" cy="82.95" rx="1.02" ry="0.59" fill="#737981"/>
<ellipse cx="-3.48" cy="84.70" rx="0.70" ry="0.89" fill="#737981"/>
<ellipse cx="-3.97" cy="79.80" rx="1.00" ry="0.67" fill="#d0d4d9"/>
<ellipse cx="-2.13" cy="83.81" rx="1.19" ry="0.85" fill="#646a72"/>
<ellipse cx="-1.25" cy="84.61" rx="0.72" ry="0.78" fill="#737981"/>
<ellipse cx="2.60" cy="81.94" rx="1.29" ry="0.62" fill="#6a7078"/>
<ellipse cx="188.70" cy="93.90" rx="3.6" ry="1.4" fill="#aeb4bb" opacity="0.8"/>
<path d="M186.60,86.00 L189.60,86.00 L189.20,92.90 L189.90,94.10 L186.30,94.10 L187.00,92.90 Z" fill="url(#stem)"/>
<ellipse cx="188.10" cy="85.40" rx="7.1" ry="3.7" fill="#6f757d"/>
<ellipse cx="188.10" cy="83.30" rx="7.5" ry="4.0" fill="url(#cap)" stroke="#91979e" stroke-width="0.4"/>
<ellipse cx="189.85" cy="82.37" rx="0.75" ry="0.89" fill="#646a72"/>
<ellipse cx="186.64" cy="80.73" rx="0.83" ry="0.86" fill="#737981"/>
<ellipse cx="191.56" cy="81.67" rx="0.79" ry="0.83" fill="#7d838b"/>
<ellipse cx="184.77" cy="84.06" rx="1.13" ry="0.79" fill="#7d838b"/>
<ellipse cx="187.40" cy="81.34" rx="1.24" ry="0.78" fill="#737981"/>
<ellipse cx="184.29" cy="81.81" rx="0.89" ry="0.87" fill="#6a7078"/>
<ellipse cx="191.50" cy="81.30" rx="1.22" ry="0.57" fill="#6a7078"/>
<ellipse cx="187.69" cy="84.62" rx="1.11" ry="0.73" fill="#7d838b"/>
<ellipse cx="189.93" cy="82.39" rx="1.10" ry="0.56" fill="#d0d4d9"/>
<ellipse cx="191.32" cy="83.36" rx="0.73" ry="0.60" fill="#d0d4d9"/>
<ellipse cx="148.00" cy="97.90" rx="3.6" ry="1.4" fill="#aeb4bb" opacity="0.8"/>
<path d="M145.90,90.00 L148.90,90.00 L148.50,96.90 L149.20,98.10 L145.60,98.10 L146.30,96.90 Z" fill="url(#stem)"/>
<ellipse cx="147.40" cy="89.40" rx="7.1" ry="3.7" fill="#6f757d"/>
<ellipse cx="147.40" cy="87.30" rx="7.5" ry="4.0" fill="url(#cap)" stroke="#91979e" stroke-width="0.4"/>
<ellipse cx="141.80" cy="88.09" rx="0.79" ry="0.60" fill="#d0d4d9"/>
<ellipse cx="149.24" cy="84.47" rx="1.11" ry="0.68" fill="#6a7078"/>
<ellipse cx="146.11" cy="86.06" rx="1.30" ry="0.74" fill="#6a7078"/>
<ellipse cx="143.55" cy="88.63" rx="1.12" ry="0.75" fill="#6a7078"/>
<ellipse cx="143.63" cy="88.82" rx="1.36" ry="0.54" fill="#7d838b"/>
<ellipse cx="145.95" cy="85.39" rx="0.73" ry="0.70" fill="#737981"/>
<ellipse cx="150.33" cy="85.92" rx="1.17" ry="0.78" fill="#d0d4d9"/>
<ellipse cx="147.88" cy="85.07" rx="0.72" ry="0.63" fill="#646a72"/>
<ellipse cx="144.83" cy="88.36" rx="1.23" ry="0.54" fill="#646a72"/>
<ellipse cx="144.72" cy="84.89" rx="0.77" ry="0.87" fill="#d0d4d9"/>
<ellipse cx="107.30" cy="101.90" rx="3.6" ry="1.4" fill="#aeb4bb" opacity="0.8"/>
<path d="M105.20,94.00 L108.20,94.00 L107.80,100.90 L108.50,102.10 L104.90,102.10 L105.60,100.90 Z" fill="url(#stem)"/>
<ellipse cx="106.70" cy="93.40" rx="7.1" ry="3.7" fill="#6f757d"/>
<ellipse cx="106.70" cy="91.30" rx="7.5" ry="4.0" fill="url(#cap)" stroke="#91979e" stroke-width="0.4"/>
<ellipse cx="108.45" cy="89.54" rx="1.00" ry="0.73" fill="#737981"/>
<ellipse cx="104.70" cy="92.73" rx="0.71" ry="0.71" fill="#646a72"/>
<ellipse cx="110.60" cy="93.04" rx="0.83" ry="0.60" fill="#737981"/>
<ellipse cx="101.78" cy="92.69" rx="1.09" ry="0.76" fill="#737981"/>
<ellipse cx="103.06" cy="89.02" rx="1.19" ry="0.82" fill="#d0d4d9"/>
<ellipse cx="110.64" cy="91.96" rx="1.18" ry="0.63" fill="#646a72"/>
<ellipse cx="109.97" cy="92.42" rx="1.36" ry="0.56" fill="#6a7078"/>
<ellipse cx="109.61" cy="89.48" rx="1.23" ry="0.55" fill="#d0d4d9"/>
<ellipse cx="103.96" cy="92.09" rx="0.98" ry="0.77" fill="#646a72"/>
<ellipse cx="110.68" cy="89.34" rx="1.06" ry="0.60" fill="#646a72"/>
<ellipse cx="66.60" cy="105.90" rx="3.6" ry="1.4" fill="#aeb4bb" opacity="0.8"/>
<path d="M64.50,98.00 L67.50,98.00 L67.10,104.90 L67.80,106.10 L64.20,106.10 L64.90,104.90 Z" fill="url(#stem)"/>
<ellipse cx="66.00" cy="97.40" rx="7.1" ry="3.7" fill="#6f757d"/>
<ellipse cx="66.00" cy="95.30" rx="7.5" ry="4.0" fill="url(#cap)" stroke="#91979e" stroke-width="0.4"/>
<ellipse cx="68.95" cy="93.10" rx="1.17" ry="0.75" fill="#6a7078"/>
<ellipse cx="64.23" cy="93.86" rx="1.22" ry="0.70" fill="#7d838b"/>
<ellipse cx="61.28" cy="96.49" rx="1.16" ry="0.77" fill="#7d838b"/>
<ellipse cx="68.64" cy="93.62" rx="0.98" ry="0.73" fill="#737981"/>
<ellipse cx="68.20" cy="94.03" rx="0.91" ry="0.69" fill="#6a7078"/>
<ellipse cx="61.59" cy="95.70" rx="1.35" ry="0.74" fill="#6a7078"/>
<ellipse cx="67.80" cy="96.81" rx="1.06" ry="0.79" fill="#646a72"/>
<ellipse cx="60.82" cy="96.44" rx="1.03" ry="0.75" fill="#646a72"/>
<ellipse cx="68.15" cy="92.65" rx="1.39" ry="0.88" fill="#737981"/>
<ellipse cx="70.34" cy="95.82" rx="1.25" ry="0.83" fill="#646a72"/>
<ellipse cx="25.90" cy="109.90" rx="3.6" ry="1.4" fill="#aeb4bb" opacity="0.8"/>
<path d="M23.80,102.00 L26.80,102.00 L26.40,108.90 L27.10,110.10 L23.50,110.10 L24.20,108.90 Z" fill="url(#stem)"/>
<ellipse cx="25.30" cy="101.40" rx="7.1" ry="3.7" fill="#6f757d"/>
<ellipse cx="25.30" cy="99.30" rx="7.5" ry="4.0" fill="url(#cap)" stroke="#91979e" stroke-width="0.4"/>
<ellipse cx="21.38" cy="97.07" rx="0.96" ry="0.67" fill="#d0d4d9"/>
<ellipse cx="26.24" cy="97.77" rx="0.98" ry="0.81" fill="#646a72"/>
<ellipse cx="24.19" cy="102.00" rx="0.73" ry="0.84" fill="#d0d4d9"/>
<ellipse cx="20.61" cy="98.39" rx="0.91" ry="0.84" fill="#d0d4d9"/>
<ellipse cx="22.17" cy="99.81" rx="1.30" ry="0.57" fill="#646a72"/>
<ellipse cx="29.93" cy="99.25" rx="1.05" ry="0.80" fill="#d0d4d9"/>
<ellipse cx="20.92" cy="100.98" rx="0.79" ry="0.69" fill="#7d838b"/>
<ellipse cx="23.55" cy="98.18" rx="1.40" ry="0.64" fill="#6a7078"/>
<ellipse cx="27.58" cy="100.15" rx="0.99" ry="0.82" fill="#6a7078"/>
<ellipse cx="24.39" cy="97.79" rx="1.33" ry="0.55" fill="#737981"/>
<ellipse cx="176.20" cy="113.90" rx="3.6" ry="1.4" fill="#aeb4bb" opacity="0.8"/>
<path d="M174.10,106.00 L177.10,106.00 L176.70,112.90 L177.40,114.10 L173.80,114.10 L174.50,112.90 Z" fill="url(#stem)"/>
<ellipse cx="175.60" cy="105.40" rx="7.1" ry="3.7" fill="#6f757d"/>
<ellipse cx="175.60" cy="103.30" rx="7.5" ry="4.0" fill="url(#cap)" stroke="#91979e" stroke-width="0.4"/>
<ellipse cx="171.30" cy="103.71" rx="1.12" ry="0.63" fill="#6a7078"/>
<ellipse cx="180.65" cy="102.81" rx="1.08" ry="0.71" fill="#737981"/>
<ellipse cx="179.34" cy="102.82" rx="0.89" ry="0.79" fill="#737981"/>
<ellipse cx="181.32" cy="102.73" rx="1.26" ry="0.83" fill="#6a7078"/>
<ellipse cx="174.67" cy="104.51" rx="0.77" ry="0.65" fill="#7d838b"/>
<ellipse cx="171.26" cy="102.17" rx="1.28" ry="0.57" fill="#737981"/>
<ellipse cx="170.28" cy="103.95" rx="0.81" ry="0.81" fill="#7d838b"/>
<ellipse cx="177.85" cy="102.49" rx="1.39" ry="0.67" fill="#6a7078"/>
<ellipse cx="171.39" cy="105.27" rx="1.23" ry="0.78" fill="#646a72"/>
<ellipse cx="174.07" cy="101.48" rx="1.23" ry="0.64" fill="#646a72"/>
<ellipse cx="135.50" cy="117.90" rx="3.6" ry="1.4" fill="#aeb4bb" opacity="0.8"/>
<path d="M133.40,110.00 L136.40,110.00 L136.00,116.90 L136.70,118.10 L133.10,118.10 L133.80,116.90 Z" fill="url(#stem)"/>
<ellipse cx="134.90" cy="109.40" rx="7.1" ry="3.7" fill="#6f757d"/>
<ellipse cx="134.90" cy="107.30" rx="7.5" ry="4.0" fill="url(#cap)" stroke="#91979e" stroke-width="0.4"/>
<ellipse cx="138.91" cy="107.46" rx="0.89" ry="0.56" fill="#7d838b"/>
<ellipse cx="137.56" cy="106.71" rx="1.24" ry="0.54" fill="#737981"/>
<ellipse cx="136.10" cy="109.06" rx="0.84" ry="0.80" fill="#646a72"/>
<ellipse cx="137.60" cy="106.33" rx="1.33" ry="0.77" fill="#646a72"/>
<ellipse cx="137.55" cy="106.55" rx="0.98" ry="0.72" fill="#d0d4d9"/>
<ellipse cx="137.49" cy="108.30" rx="0.95" ry="0.76" fill="#7d838b"/>
<ellipse cx="131.92" cy="106.42" rx="1.23" ry="0.62" fill="#d0d4d9"/>
<ellipse cx="131.02" cy="106.30" rx="1.25" ry="0.77" fill="#6a7078"/>
<ellipse cx="139.76" cy="107.58" rx="1.01" ry="0.72" fill="#d0d4d9"/>
<ellipse cx="130.82" cy="106.36" rx="1.34" ry="0.58" fill="#7d838b"/>
<ellipse cx="94.80" cy="121.90" rx="3.6" ry="1.4" fill="#aeb4bb" opacity="0.8"/>
<path d="M92.70,114.00 L95.70,114.00 L95.30,120.90 L96.00,122.10 L92.40,122.10 L93.10,120.90 Z" fill="url(#stem)"/>
<ellipse cx="94.20" cy="113.40" rx="7.1" ry="3.7" fill="#6f757d"/>
<ellipse cx="94.20" cy="111.30" rx="7.5" ry="4.0" fill="url(#cap)" stroke="#91979e" stroke-width="0.4"/>
<ellipse cx="95.67" cy="110.19" rx="1.09" ry="0.83" fill="#7d838b"/>
<ellipse cx="93.30" cy="108.92" rx="0.81" ry="0.80" fill="#646a72"/>
<ellipse cx="91.11" cy="113.77" rx="1.09" ry="0.53" fill="#737981"/>
<ellipse cx="94.86" cy="112.72" rx="0.88" ry="0.66" fill="#646a72"/>
<ellipse cx="98.70" cy="113.11" rx="1.06" ry="0.65" fill="#7d838b"/>
<ellipse cx="92.36" cy="110.22" rx="1.12" ry="0.63" fill="#7d838b"/>
<ellipse cx="96.67" cy="109.84" rx="0.86" ry="0.54" fill="#6a7078"/>
<ellipse cx="97.99" cy="112.93" rx="1.32" ry="0.51" fill="#7d838b"/>
<ellipse cx="93.58" cy="109.21" rx="1.23" ry="0.80" fill="#7d838b"/>
<ellipse cx="97.07" cy="110.14" rx="1.16" ry="0.87" fill="#737981"/>
<ellipse cx="54.10" cy="125.90" rx="3.6" ry="1.4" fill="#aeb4bb" opacity="0.8"/>
<path d="M52.00,118.00 L55.00,118.00 L54.60,124.90 L55.30,126.10 L51.70,126.10 L52.40,124.90 Z" fill="url(#stem)"/>
<ellipse cx="53.50" cy="117.40" rx="7.1" ry="3.7" fill="#6f757d"/>
<ellipse cx="53.50" cy="115.30" rx="7.5" ry="4.0" fill="url(#cap)" stroke="#91979e" stroke-width="0.4"/>
<ellipse cx="54.29" cy="117.12" rx="1.35" ry="0.51" fill="#6a7078"/>
<ellipse cx="49.17" cy="114.84" rx="0.95" ry="0.78" fill="#7d838b"/>
<ellipse cx="57.03" cy="116.11" rx="1.06" ry="0.64" fill="#6a7078"/>
<ellipse cx="52.53" cy="112.93" rx="0.73" ry="0.54" fill="#737981"/>
<ellipse cx="54.22" cy="113.95" rx="1.31" ry="0.62" fill="#d0d4d9"/>
<ellipse cx="51.97" cy="112.83" rx="1.32" ry="0.57" fill="#d0d4d9"/>
<ellipse cx="52.38" cy="117.90" rx="1.06" ry="0.68" fill="#737981"/>
<ellipse cx="57.31" cy="114.74" rx="0.83" ry="0.76" fill="#6a7078"/>
<ellipse cx="52.39" cy="113.84" rx="0.87" ry="0.87" fill="#646a72"/>
<ellipse cx="58.22" cy="114.64" rx="1.39" ry="0.83" fill="#737981"/>
<ellipse cx="13.40" cy="129.90" rx="3.6" ry="1.4" fill="#aeb4bb" opacity="0.8"/>
<path d="M11.30,122.00 L14.30,122.00 L13.90,128.90 L14.60,130.10 L11.00,130.10 L11.70,128.90 Z" fill="url(#stem)"/>
<ellipse cx="12.80" cy="121.40" rx="7.1" ry="3.7" fill="#6f757d"/>
<ellipse cx="12.80" cy="119.30" rx="7.5" ry="4.0" fill="url(#cap)" stroke="#91979e" stroke-width="0.4"/>
<ellipse cx="8.84" cy="119.47" rx="0.89" ry="0.64" fill="#737981"/>
<ellipse cx="11.78" cy="122.24" rx="1.25" ry="0.85" fill="#646a72"/>
<ellipse cx="12.40" cy="117.59" rx="0.80" ry="0.54" fill="#646a72"/>
<ellipse cx="15.88" cy="118.22" rx="1.08" ry="0.61" fill="#737981"/>
<ellipse cx="16.77" cy="117.80" rx="1.04" ry="0.86" fill="#6a7078"/>
<ellipse cx="10.98" cy="120.80" rx="0.96" ry="0.60" fill="#d0d4d9"/>
<ellipse cx="9.76" cy="120.47" rx="0.94" ry="0.77" fill="#7d838b"/>
<ellipse cx="13.77" cy="121.38" rx="0.90" ry="0.62" fill="#737981"/>
<ellipse cx="15.57" cy="116.98" rx="1.32" ry="0.86" fill="#737981"/>
<ellipse cx="12.76" cy="117.02" rx="1.36" ry="0.67" fill="#7d838b"/>
<ellipse cx="163.70" cy="133.90" rx="3.6" ry="1.4" fill="#aeb4bb" opacity="0.8"/>
<path d="M161.60,126.00 L164.60,126.00 L164.20,132.90 L164.90,134.10 L161.30,134.10 L162.00,132.90 Z" fill="url(#stem)"/>
<ellipse cx="163.10" cy="125.40" rx="7.1" ry="3.7" fill="#6f757d"/>
<ellipse cx="163.10" cy="123.30" rx="7.5" ry="4.0" fill="url(#cap)" stroke="#91979e" stroke-width="0.4"/>
<ellipse cx="158.70" cy="124.55" rx="1.29" ry="0.86" fill="#d0d4d9"/>
<ellipse cx="163.65" cy="124.86" rx="1.10" ry="0.90" fill="#7d838b"/>
<ellipse cx="159.61" cy="122.17" rx="1.14" ry="0.50" fill="#6a7078"/>
<ellipse cx="166.83" cy="124.02" rx="1.15" ry="0.85" fill="#6a7078"/>
<ellipse cx="164.50" cy="121.07" rx="1.03" ry="0.59" fill="#d0d4d9"/>
<ellipse cx="159.20" cy="123.45" rx="0.89" ry="0.53" fill="#7d838b"/>
<ellipse cx="165.39" cy="121.07" rx="1.18" ry="0.88" fill="#6a7078"/>
<ellipse cx="159.02" cy="123.60" rx="1.11" ry="0.81" fill="#646a72"/>
<ellipse cx="165.30" cy="124.54" rx="1.35" ry="0.88" fill="#737981"/>
<ellipse cx="161.11" cy="125.87" rx="1.30" ry="0.67" fill="#6a7078"/>
<ellipse cx="123.00" cy="137.90" rx="3.6" ry="1.4" fill="#aeb4bb" opacity="0.8"/>
<path d="M120.90,130.00 L123.90,130.00 L123.50,136.90 L124.20,138.10 L120.60,138.10 L121.30,136.90 Z" fill="url(#stem)"/>
<ellipse cx="122.40" cy="129.40" rx="7.1" ry="3.7" fill="#6f757d"/>
<ellipse cx="122.40" cy="127.30" rx="7.5" ry="4.0" fill="url(#cap)" stroke="#91979e" stroke-width="0.4"/>
<ellipse cx="117.95" cy="127.86" rx="0.80" ry="0.72" fill="#737981"/>
<ellipse cx="124.10" cy="129.46" rx="1.23" ry="0.71" fill="#7d838b"/>
<ellipse cx="118.92" cy="126.14" rx="1.34" ry="0.84" fill="#d0d4d9"/>
<ellipse cx="125.06" cy="129.43" rx="1.23" ry="0.54" fill="#737981"/>
<ellipse cx="119.30" cy="125.98" rx="1.32" ry="0.63" fill="#6a7078"/>
<ellipse cx="126.05" cy="127.55" rx="1.16" ry="0.86" fill="#7d838b"/>
<ellipse cx="125.01" cy="128.51" rx="1.34" ry="0.61" fill="#646a72"/>
<ellipse cx="119.27" cy="126.18" rx="0.79" ry="0.71" fill="#737981"/>
<ellipse cx="126.07" cy="127.71" rx="0.91" ry="0.81" fill="#7d838b"/>
<ellipse cx="124.60" cy="128.19" rx="0.99" ry="0.65" fill="#7d838b"/>
<ellipse cx="82.30" cy="141.90" rx="3.6" ry="1.4" fill="#aeb4bb" opacity="0.8"/>
<path d="M80.20,134.00 L83.20,134.00 L82.80,140.90 L83.50,142.10 L79.90,142.10 L80.60,140.90 Z" fill="url(#stem)"/>
<ellipse cx="81.70" cy="133.40" rx="7.1" ry="3.7" fill="#6f757d"/>
<ellipse cx="81.70" cy="131.30" rx="7.5" ry="4.0" fill="url(#cap)" stroke="#91979e" stroke-width="0.4"/>
<ellipse cx="85.44" cy="130.48" rx="1.20" ry="0.89" fill="#737981"/>
<ellipse cx="83.42" cy="129.69" rx="1.07" ry="0.55" fill="#737981"/>
<ellipse cx="80.23" cy="128.40" rx="0.79" ry="0.74" fill="#6a7078"/>
<ellipse cx="79.08" cy="133.15" rx="1.37" ry="0.64" fill="#d0d4d9"/>
<ellipse cx="83.11" cy="132.99" rx="0.95" ry="0.65" fill="#646a72"/>
<ellipse cx="80.21" cy="129.27" rx="1.19" ry="0.68" fill="#646a72"/>
<ellipse cx="77.38" cy="132.53" rx="1.32" ry="0.79" fill="#737981"/>
<ellipse cx="86.31" cy="131.85" rx="0.74" ry="0.57" fill="#6a7078"/>
<ellipse cx="84.68" cy="128.77" rx="0.75" ry="0.63" fill="#d0d4d9"/>
<ellipse cx="79.91" cy="130.29" rx="0.99" ry="0.69" fill="#646a72"/>
<ellipse cx="41.60" cy="145.90" rx="3.6" ry="1.4" fill="#aeb4bb" opacity="0.8"/>
<path d="M39.50,138.00 L42.50,138.00 L42.10,144.90 L42.80,146.10 L39.20,146.10 L39.90,144.90 Z" fill="url(#stem)"/>
<ellipse cx="41.00" cy="137.40" rx="7.1" ry="3.7" fill="#6f757d"/>
<ellipse cx="41.00" cy="135.30" rx="7.5" ry="4.0" fill="url(#cap)" stroke="#91979e" stroke-width="0.4"/>
<ellipse cx="43.30" cy="133.08" rx="0.82" ry="0.70" fill="#7d838b"/>
<ellipse cx="37.76" cy="133.24" rx="1.18" ry="0.66" fill="#7d838b"/>
<ellipse cx="46.01" cy="134.49" rx="1.11" ry="0.68" fill="#d0d4d9"/>
<ellipse cx="38.45" cy="134.42" rx="1.24" ry="0.59" fill="#7d838b"/>
<ellipse cx="42.23" cy="133.76" rx="0.90" ry="0.76" fill="#646a72"/>
<ellipse cx="44.33" cy="136.09" rx="1.20" ry="0.87" fill="#d0d4d9"/>
<ellipse cx="42.33" cy="133.78" rx="0.83" ry="0.90" fill="#7d838b"/>
<ellipse cx="37.74" cy="134.41" rx="0.79" ry="0.63" fill="#646a72"/>
<ellipse cx="37.11" cy="135.79" rx="1.37" ry="0.51" fill="#d0d4d9"/>
<ellipse cx="42.77" cy="134.14" rx="1.08" ry="0.85" fill="#6a7078"/>
<ellipse cx="0.90" cy="149.90" rx="3.6" ry="1.4" fill="#aeb4bb" opacity="0.8"/>
<path d="M-1.20,142.00 L1.80,142.00 L1.40,148.90 L2.10,150.10 L-1.50,150.10 L-0.80,148.90 Z" fill="url(#stem)"/>
<ellipse cx="0.30" cy="141.40" rx="7.1" ry="3.7" fill="#6f757d"/>
<ellipse cx="0.30" cy="139.30" rx="7.5" ry="4.0" fill="url(#cap)" stroke="#91979e" stroke-width="0.4"/>
<ellipse cx="-2.34" cy="140.38" rx="1.09" ry="0.64" fill="#7d838b"/>
<ellipse cx="-1.00" cy="141.19" rx="0.98" ry="0.69" fill="#7d838b"/>
<ellipse cx="-1.33" cy="137.31" rx="1.04" ry="0.52" fill="#6a7078"/>
<ellipse cx="0.73" cy="140.80" rx="0.76" ry="0.72" fill="#646a72"/>
<ellipse cx="2.08" cy="136.65" rx="0.83" ry="0.82" fill="#7d838b"/>
<ellipse cx="-4.10" cy="139.49" rx="1.32" ry="0.71" fill="#7d838b"/>
<ellipse cx="-4.78" cy="139.41" rx="1.07" ry="0.65" fill="#d0d4d9"/>
<ellipse cx="4.75" cy="139.10" rx="1.09" ry="0.67" fill="#646a72"/>
<ellipse cx="0.57" cy="141.46" rx="0.78" ry="0.82" fill="#7d838b"/>
<ellipse cx="-1.79" cy="141.95" rx="1.26" ry="0.62" fill="#7d838b"/>
<ellipse cx="191.90" cy="149.90" rx="3.6" ry="1.4" fill="#aeb4bb" opacity="0.8"/>
<path d="M189.80,142.00 L192.80,142.00 L192.40,148.90 L193.10,150.10 L189.50,150.10 L190.20,148.90 Z" fill="url(#stem)"/>
<ellipse cx="191.30" cy="141.40" rx="7.1" ry="3.7" fill="#6f757d"/>
<ellipse cx="191.30" cy="139.30" rx="7.5" ry="4.0" fill="url(#cap)" stroke="#91979e" stroke-width="0.4"/>
<ellipse cx="187.78" cy="139.93" rx="1.17" ry="0.54" fill="#7d838b"/>
<ellipse cx="193.13" cy="141.56" rx="0.74" ry="0.82" fill="#737981"/>
<ellipse cx="194.54" cy="137.41" rx="0.72" ry="0.71" fill="#7d838b"/>
<ellipse cx="190.38" cy="137.65" rx="1.21" ry="0.85" fill="#7d838b"/>
<ellipse cx="188.25" cy="139.14" rx="1.29" ry="0.70" fill="#6a7078"/>
<ellipse cx="196.50" cy="140.54" rx="0.80" ry="0.66" fill="#737981"/>
<ellipse cx="195.86" cy="140.35" rx="1.20" ry="0.84" fill="#6a7078"/>
<ellipse cx="189.38" cy="140.22" rx="0.96" ry="0.85" fill="#6a7078"/>
<ellipse cx="195.37" cy="139.96" rx="1.14" ry="0.72" fill="#d0d4d9"/>
<ellipse cx="186.25" cy="139.74" rx="1.02" ry="0.69" fill="#646a72"/>
<ellipse cx="151.20" cy="153.90" rx="3.6" ry="1.4" fill="#aeb4bb" opacity="0.8"/>
<path d="M149.10,146.00 L152.10,146.00 L151.70,152.90 L152.40,154.10 L148.80,154.10 L149.50,152.90 Z" fill="url(#stem)"/>
<ellipse cx="150.60" cy="145.40" rx="7.1" ry="3.7" fill="#6f757d"/>
<ellipse cx="150.60" cy="143.30" rx="7.5" ry="4.0" fill="url(#cap)" stroke="#91979e" stroke-width="0.4"/>
<ellipse cx="155.90" cy="142.94" rx="1.23" ry="0.82" fill="#646a72"/>
<ellipse cx="154.73" cy="143.37" rx="0.84" ry="0.63" fill="#7d838b"/>
<ellipse cx="147.26" cy="142.94" rx="0.76" ry="0.68" fill="#646a72"/>
<ellipse cx="147.17" cy="144.59" rx="0.77" ry="0.69" fill="#d0d4d9"/>
<ellipse cx="153.26" cy="142.27" rx="1.38" ry="0.80" fill="#7d838b"/>
<ellipse cx="147.02" cy="144.52" rx="1.32" ry="0.71" fill="#d0d4d9"/>
<ellipse cx="154.40" cy="144.72" rx="0.75" ry="0.61" fill="#d0d4d9"/>
<ellipse cx="154.85" cy="143.13" rx="1.14" ry="0.77" fill="#6a7078"/>
<ellipse cx="145.87" cy="142.17" rx="1.28" ry="0.55" fill="#7d838b"/>
<ellipse cx="146.87" cy="144.76" rx="1.27" ry="0.53" fill="#d0d4d9"/>
<ellipse cx="110.50" cy="157.90" rx="3.6" ry="1.4" fill="#aeb4bb" opacity="0.8"/>
<path d="M108.40,150.00 L111.40,150.00 L111.00,156.90 L111.70,158.10 L108.10,158.10 L108.80,156.90 Z" fill="url(#stem)"/>
<ellipse cx="109.90" cy="149.40" rx="7.1" ry="3.7" fill="#6f757d"/>
<ellipse cx="109.90" cy="147.30" rx="7.5" ry="4.0" fill="url(#cap)" stroke="#91979e" stroke-width="0.4"/>
<ellipse cx="107.15" cy="147.74" rx="1.20" ry="0.72" fill="#7d838b"/>
<ellipse cx="112.72" cy="145.09" rx="1.14" ry="0.88" fill="#d0d4d9"/>
<ellipse cx="109.63" cy="144.97" rx="1.11" ry="0.80" fill="#6a7078"/>
<ellipse cx="107.27" cy="147.22" rx="0.98" ry="0.63" fill="#646a72"/>
<ellipse cx="109.69" cy="144.81" rx="1.27" ry="0.71" fill="#6a7078"/>
<ellipse cx="113.85" cy="147.27" rx="1.23" ry="0.73" fill="#d0d4d9"/>
<ellipse cx="106.96" cy="146.81" rx="1.34" ry="0.74" fill="#6a7078"/>
<ellipse cx="109.37" cy="145.60" rx="1.34" ry="0.52" fill="#7d838b"/>
<ellipse cx="109.68" cy="148.58" rx="1.24" ry="0.71" fill="#737981"/>
<ellipse cx="111.53" cy="148.31" rx="1.26" ry="0.86" fill="#7d838b"/>
</g></g>
<line x1="7.80" y1="150.60" x2="44.10" y2="150.60" stroke="#000" stroke-width="2.0" />
<text x="49.30" y="154.30" font-size="11.7" text-anchor="start" font-weight="normal" fill="#231f20" stroke="#231f20" stroke-width="0.2" >5 μm</text>
<g clip-path="url(#clipb)"><g filter="url(#soft)">
<rect x="224" y="21.1" width="135" height="118.5" fill="#c4c3c2"/>
<g transform="rotate(-5.0 291.0 72.0)">
<ellipse cx="293.00" cy="86.00" rx="57.50" ry="34.50" fill="#b9b8b7"/>
<path d="M235.00,72.00 A56.0,33.0 0 0 0 347.00,72.00 L347.00,84.00 A56.0,33.0 0 0 1 235.00,84.00 Z" fill="url(#rim)"/>
<path d="M235.00,84.00 A56.0,33.0 0 0 0 347.00,84.00" fill="none" stroke="#a4a4a4" stroke-width="1.6"/>
<ellipse cx="291.00" cy="72.00" rx="56.00" ry="33.00" fill="#d6d6d6"/>
<ellipse cx="291.00" cy="72.60" rx="53.00" ry="30.40" fill="#b9b9b9"/>
</g>
<path d="M309.98,37.82 Q310.35,39.00 310.25,40.36 Q310.15,41.72 308.86,42.52 Q307.56,43.32 306.04,43.22 Q304.51,43.12 303.47,42.23 Q302.42,41.34 301.57,40.17 Q300.71,39.00 301.21,37.60 Q301.70,36.19 303.10,35.51 Q304.50,34.83 306.00,34.84 Q307.50,34.84 308.55,35.74 Q309.60,36.64 309.98,37.82 Z" fill="#7c7c7c" transform="translate(0.4,1.5)"/>
<path d="M309.98,37.82 Q310.35,39.00 310.25,40.36 Q310.15,41.72 308.86,42.52 Q307.56,43.32 306.04,43.22 Q304.51,43.12 303.47,42.23 Q302.42,41.34 301.57,40.17 Q300.71,39.00 301.21,37.60 Q301.70,36.19 303.10,35.51 Q304.50,34.83 306.00,34.84 Q307.50,34.84 308.55,35.74 Q309.60,36.64 309.98,37.82 Z" fill="#dedede" transform="translate(-0.3,-1.0)"/>
<path d="M309.98,37.82 Q310.35,39.00 310.25,40.36 Q310.15,41.72 308.86,42.52 Q307.56,43.32 306.04,43.22 Q304.51,43.12 303.47,42.23 Q302.42,41.34 301.57,40.17 Q300.71,39.00 301.21,37.60 Q301.70,36.19 303.10,35.51 Q304.50,34.83 306.00,34.84 Q307.50,34.84 308.55,35.74 Q309.60,36.64 309.98,37.82 Z" fill="url(#blob)"/>
<path d="M303.49,38.66 Q303.43,40.50 303.22,42.14 Q303.02,43.78 301.68,44.98 Q300.35,46.18 298.64,45.74 Q296.94,45.30 295.15,44.76 Q293.36,44.23 293.26,42.37 Q293.16,40.50 293.67,38.93 Q294.18,37.36 295.57,36.56 Q296.96,35.75 298.77,34.93 Q300.58,34.11 302.07,35.47 Q303.56,36.83 303.49,38.66 Z" fill="#7c7c7c" transform="translate(0.4,1.5)"/>
<path d="M303.49,38.66 Q303.43,40.50 303.22,42.14 Q303.02,43.78 301.68,44.98 Q300.35,46.18 298.64,45.74 Q296.94,45.30 295.15,44.76 Q293.36,44.23 293.26,42.37 Q293.16,40.50 293.67,38.93 Q294.18,37.36 295.57,36.56 Q296.96,35.75 298.77,34.93 Q300.58,34.11 302.07,35.47 Q303.56,36.83 303.49,38.66 Z" fill="#dedede" transform="translate(-0.3,-1.0)"/>
<path d="M303.49,38.66 Q303.43,40.50 303.22,42.14 Q303.02,43.78 301.68,44.98 Q300.35,46.18 298.64,45.74 Q296.94,45.30 295.15,44.76 Q293.36,44.23 293.26,42.37 Q293.16,40.50 293.67,38.93 Q294.18,37.36 295.57,36.56 Q296.96,35.75 298.77,34.93 Q300.58,34.11 302.07,35.47 Q303.56,36.83 303.49,38.66 Z" fill="url(#blob)"/>
<path d="M286.48,43.53 Q287.36,45.00 286.28,46.39 Q285.20,47.78 282.98,48.24 Q280.75,48.71 278.59,48.91 Q276.43,49.11 274.43,48.39 Q272.43,47.68 272.14,46.34 Q271.86,45.00 271.70,43.47 Q271.54,41.95 273.97,41.39 Q276.40,40.84 278.62,40.98 Q280.84,41.13 283.22,41.59 Q285.59,42.06 286.48,43.53 Z" fill="#7c7c7c" transform="translate(0.4,1.5)"/>
<path d="M286.48,43.53 Q287.36,45.00 286.28,46.39 Q285.20,47.78 282.98,48.24 Q280.75,48.71 278.59,48.91 Q276.43,49.11 274.43,48.39 Q272.43,47.68 272.14,46.34 Q271.86,45.00 271.70,43.47 Q271.54,41.95 273.97,41.39 Q276.40,40.84 278.62,40.98 Q280.84,41.13 283.22,41.59 Q285.59,42.06 286.48,43.53 Z" fill="#dedede" transform="translate(-0.3,-1.0)"/>
<path d="M286.48,43.53 Q287.36,45.00 286.28,46.39 Q285.20,47.78 282.98,48.24 Q280.75,48.71 278.59,48.91 Q276.43,49.11 274.43,48.39 Q272.43,47.68 272.14,46.34 Q271.86,45.00 271.70,43.47 Q271.54,41.95 273.97,41.39 Q276.40,40.84 278.62,40.98 Q280.84,41.13 283.22,41.59 Q285.59,42.06 286.48,43.53 Z" fill="url(#blob)"/>
<path d="M322.24,46.87 Q322.87,48.70 323.02,50.96 Q323.16,53.22 320.41,54.14 Q317.65,55.06 314.86,55.16 Q312.07,55.26 310.01,53.88 Q307.96,52.50 306.94,50.60 Q305.92,48.70 307.12,46.90 Q308.31,45.10 310.41,44.13 Q312.51,43.17 315.26,42.34 Q318.00,41.51 319.80,43.27 Q321.60,45.04 322.24,46.87 Z" fill="#7c7c7c" transform="translate(0.4,1.5)"/>
<path d="M322.24,46.87 Q322.87,48.70 323.02,50.96 Q323.16,53.22 320.41,54.14 Q317.65,55.06 314.86,55.16 Q312.07,55.26 310.01,53.88 Q307.96,52.50 306.94,50.60 Q305.92,48.70 307.12,46.90 Q308.31,45.10 310.41,44.13 Q312.51,43.17 315.26,42.34 Q318.00,41.51 319.80,43.27 Q321.60,45.04 322.24,46.87 Z" fill="#dedede" transform="translate(-0.3,-1.0)"/>
<path d="M322.24,46.87 Q322.87,48.70 323.02,50.96 Q323.16,53.22 320.41,54.14 Q317.65,55.06 314.86,55.16 Q312.07,55.26 310.01,53.88 Q307.96,52.50 306.94,50.60 Q305.92,48.70 307.12,46.90 Q308.31,45.10 310.41,44.13 Q312.51,43.17 315.26,42.34 Q318.00,41.51 319.80,43.27 Q321.60,45.04 322.24,46.87 Z" fill="url(#blob)"/>
<path d="M338.25,51.22 Q339.49,53.20 337.96,55.02 Q336.43,56.83 334.76,58.71 Q333.09,60.59 330.03,60.52 Q326.97,60.44 324.68,58.98 Q322.38,57.51 321.47,55.35 Q320.56,53.20 321.66,51.15 Q322.76,49.11 324.94,47.70 Q327.11,46.28 329.75,46.89 Q332.38,47.50 334.70,48.37 Q337.01,49.24 338.25,51.22 Z" fill="#7c7c7c" transform="translate(0.4,1.5)"/>
<path d="M338.25,51.22 Q339.49,53.20 337.96,55.02 Q336.43,56.83 334.76,58.71 Q333.09,60.59 330.03,60.52 Q326.97,60.44 324.68,58.98 Q322.38,57.51 321.47,55.35 Q320.56,53.20 321.66,51.15 Q322.76,49.11 324.94,47.70 Q327.11,46.28 329.75,46.89 Q332.38,47.50 334.70,48.37 Q337.01,49.24 338.25,51.22 Z" fill="#dedede" transform="translate(-0.3,-1.0)"/>
<path d="M338.25,51.22 Q339.49,53.20 337.96,55.02 Q336.43,56.83 334.76,58.71 Q333.09,60.59 330.03,60.52 Q326.97,60.44 324.68,58.98 Q322.38,57.51 321.47,55.35 Q320.56,53.20 321.66,51.15 Q322.76,49.11 324.94,47.70 Q327.11,46.28 329.75,46.89 Q332.38,47.50 334.70,48.37 Q337.01,49.24 338.25,51.22 Z" fill="url(#blob)"/>
<path d="M268.56,52.26 Q269.34,53.50 268.45,54.66 Q267.56,55.83 266.63,57.01 Q265.69,58.19 264.01,58.17 Q262.32,58.15 261.25,57.07 Q260.19,55.99 259.77,54.75 Q259.35,53.50 259.74,52.24 Q260.14,50.97 261.34,50.23 Q262.55,49.50 264.14,49.10 Q265.73,48.71 266.76,49.87 Q267.79,51.02 268.56,52.26 Z" fill="#7c7c7c" transform="translate(0.4,1.5)"/>
<path d="M268.56,52.26 Q269.34,53.50 268.45,54.66 Q267.56,55.83 266.63,57.01 Q265.69,58.19 264.01,58.17 Q262.32,58.15 261.25,57.07 Q260.19,55.99 259.77,54.75 Q259.35,53.50 259.74,52.24 Q260.14,50.97 261.34,50.23 Q262.55,49.50 264.14,49.10 Q265.73,48.71 266.76,49.87 Q267.79,51.02 268.56,52.26 Z" fill="#dedede" transform="translate(-0.3,-1.0)"/>
<path d="M268.56,52.26 Q269.34,53.50 268.45,54.66 Q267.56,55.83 266.63,57.01 Q265.69,58.19 264.01,58.17 Q262.32,58.15 261.25,57.07 Q260.19,55.99 259.77,54.75 Q259.35,53.50 259.74,52.24 Q260.14,50.97 261.34,50.23 Q262.55,49.50 264.14,49.10 Q265.73,48.71 266.76,49.87 Q267.79,51.02 268.56,52.26 Z" fill="url(#blob)"/>
<path d="M278.67,56.29 Q278.74,58.00 278.13,59.45 Q277.53,60.89 275.98,62.30 Q274.42,63.71 271.59,63.94 Q268.76,64.17 266.90,62.73 Q265.04,61.30 264.26,59.65 Q263.48,58.00 264.20,56.32 Q264.93,54.64 266.94,53.44 Q268.96,52.24 271.49,52.67 Q274.03,53.11 276.31,53.85 Q278.60,54.58 278.67,56.29 Z" fill="#7c7c7c" transform="translate(0.4,1.5)"/>
<path d="M278.67,56.29 Q278.74,58.00 278.13,59.45 Q277.53,60.89 275.98,62.30 Q274.42,63.71 271.59,63.94 Q268.76,64.17 266.90,62.73 Q265.04,61.30 264.26,59.65 Q263.48,58.00 264.20,56.32 Q264.93,54.64 266.94,53.44 Q268.96,52.24 271.49,52.67 Q274.03,53.11 276.31,53.85 Q278.60,54.58 278.67,56.29 Z" fill="#dedede" transform="translate(-0.3,-1.0)"/>
<path d="M278.67,56.29 Q278.74,58.00 278.13,59.45 Q277.53,60.89 275.98,62.30 Q274.42,63.71 271.59,63.94 Q268.76,64.17 266.90,62.73 Q265.04,61.30 264.26,59.65 Q263.48,58.00 264.20,56.32 Q264.93,54.64 266.94,53.44 Q268.96,52.24 271.49,52.67 Q274.03,53.11 276.31,53.85 Q278.60,54.58 278.67,56.29 Z" fill="url(#blob)"/>
<path d="M306.66,56.55 Q307.71,58.00 307.11,59.72 Q306.50,61.43 304.60,62.13 Q302.69,62.82 300.80,62.81 Q298.92,62.80 297.24,61.98 Q295.56,61.15 294.34,59.58 Q293.11,58.00 294.34,56.42 Q295.57,54.85 297.10,53.67 Q298.64,52.49 300.71,52.73 Q302.77,52.97 304.20,54.03 Q305.62,55.10 306.66,56.55 Z" fill="#7c7c7c" transform="translate(0.4,1.5)"/>
<path d="M306.66,56.55 Q307.71,58.00 307.11,59.72 Q306.50,61.43 304.60,62.13 Q302.69,62.82 300.80,62.81 Q298.92,62.80 297.24,61.98 Q295.56,61.15 294.34,59.58 Q293.11,58.00 294.34,56.42 Q295.57,54.85 297.10,53.67 Q298.64,52.49 300.71,52.73 Q302.77,52.97 304.20,54.03 Q305.62,55.10 306.66,56.55 Z" fill="#dedede" transform="translate(-0.3,-1.0)"/>
<path d="M306.66,56.55 Q307.71,58.00 307.11,59.72 Q306.50,61.43 304.60,62.13 Q302.69,62.82 300.80,62.81 Q298.92,62.80 297.24,61.98 Q295.56,61.15 294.34,59.58 Q293.11,58.00 294.34,56.42 Q295.57,54.85 297.10,53.67 Q298.64,52.49 300.71,52.73 Q302.77,52.97 304.20,54.03 Q305.62,55.10 306.66,56.55 Z" fill="url(#blob)"/>
<path d="M346.99,58.03 Q346.86,60.00 346.90,61.88 Q346.94,63.75 345.87,64.88 Q344.80,66.01 343.57,65.67 Q342.35,65.32 341.27,64.47 Q340.18,63.61 339.80,61.81 Q339.41,60.00 339.69,58.08 Q339.97,56.16 341.05,54.92 Q342.13,53.68 343.40,54.15 Q344.66,54.62 345.89,55.34 Q347.11,56.06 346.99,58.03 Z" fill="#7c7c7c" transform="translate(0.4,1.5)"/>
<path d="M346.99,58.03 Q346.86,60.00 346.90,61.88 Q346.94,63.75 345.87,64.88 Q344.80,66.01 343.57,65.67 Q342.35,65.32 341.27,64.47 Q340.18,63.61 339.80,61.81 Q339.41,60.00 339.69,58.08 Q339.97,56.16 341.05,54.92 Q342.13,53.68 343.40,54.15 Q344.66,54.62 345.89,55.34 Q347.11,56.06 346.99,58.03 Z" fill="#dedede" transform="translate(-0.3,-1.0)"/>
<path d="M346.99,58.03 Q346.86,60.00 346.90,61.88 Q346.94,63.75 345.87,64.88 Q344.80,66.01 343.57,65.67 Q342.35,65.32 341.27,64.47 Q340.18,63.61 339.80,61.81 Q339.41,60.00 339.69,58.08 Q339.97,56.16 341.05,54.92 Q342.13,53.68 343.40,54.15 Q344.66,54.62 345.89,55.34 Q347.11,56.06 346.99,58.03 Z" fill="url(#blob)"/>
<path d="M319.27,61.99 Q320.27,63.80 319.06,65.50 Q317.85,67.20 315.97,68.49 Q314.08,69.78 311.55,69.46 Q309.01,69.14 307.19,68.06 Q305.36,66.98 304.81,65.39 Q304.25,63.80 304.32,61.95 Q304.39,60.11 306.82,59.56 Q309.25,59.01 311.37,59.09 Q313.48,59.16 315.87,59.67 Q318.27,60.18 319.27,61.99 Z" fill="#7c7c7c" transform="translate(0.4,1.5)"/>
<path d="M319.27,61.99 Q320.27,63.80 319.06,65.50 Q317.85,67.20 315.97,68.49 Q314.08,69.78 311.55,69.46 Q309.01,69.14 307.19,68.06 Q305.36,66.98 304.81,65.39 Q304.25,63.80 304.32,61.95 Q304.39,60.11 306.82,59.56 Q309.25,59.01 311.37,59.09 Q313.48,59.16 315.87,59.67 Q318.27,60.18 319.27,61.99 Z" fill="#dedede" transform="translate(-0.3,-1.0)"/>
<path d="M319.27,61.99 Q320.27,63.80 319.06,65.50 Q317.85,67.20 315.97,68.49 Q314.08,69.78 311.55,69.46 Q309.01,69.14 307.19,68.06 Q305.36,66.98 304.81,65.39 Q304.25,63.80 304.32,61.95 Q304.39,60.11 306.82,59.56 Q309.25,59.01 311.37,59.09 Q313.48,59.16 315.87,59.67 Q318.27,60.18 319.27,61.99 Z" fill="url(#blob)"/>
<path d="M295.16,64.63 Q296.59,66.20 295.32,67.84 Q294.06,69.49 291.97,70.80 Q289.88,72.11 287.14,71.46 Q284.40,70.81 282.22,70.03 Q280.05,69.26 279.21,67.73 Q278.37,66.20 279.02,64.59 Q279.68,62.98 281.99,62.18 Q284.30,61.39 286.76,61.48 Q289.22,61.56 291.47,62.31 Q293.73,63.06 295.16,64.63 Z" fill="#7c7c7c" transform="translate(0.4,1.5)"/>
<path d="M295.16,64.63 Q296.59,66.20 295.32,67.84 Q294.06,69.49 291.97,70.80 Q289.88,72.11 287.14,71.46 Q284.40,70.81 282.22,70.03 Q280.05,69.26 279.21,67.73 Q278.37,66.20 279.02,64.59 Q279.68,62.98 281.99,62.18 Q284.30,61.39 286.76,61.48 Q289.22,61.56 291.47,62.31 Q293.73,63.06 295.16,64.63 Z" fill="#dedede" transform="translate(-0.3,-1.0)"/>
<path d="M295.16,64.63 Q296.59,66.20 295.32,67.84 Q294.06,69.49 291.97,70.80 Q289.88,72.11 287.14,71.46 Q284.40,70.81 282.22,70.03 Q280.05,69.26 279.21,67.73 Q278.37,66.20 279.02,64.59 Q279.68,62.98 281.99,62.18 Q284.30,61.39 286.76,61.48 Q289.22,61.56 291.47,62.31 Q293.73,63.06 295.16,64.63 Z" fill="url(#blob)"/>
<path d="M345.42,66.42 Q346.92,68.50 346.17,71.12 Q345.42,73.74 343.10,75.09 Q340.78,76.44 338.30,76.14 Q335.82,75.83 334.11,74.27 Q332.40,72.71 330.87,70.61 Q329.34,68.50 330.61,66.20 Q331.87,63.90 333.75,62.25 Q335.63,60.60 337.94,61.40 Q340.25,62.20 342.08,63.27 Q343.92,64.34 345.42,66.42 Z" fill="#7c7c7c" transform="translate(0.4,1.5)"/>
<path d="M345.42,66.42 Q346.92,68.50 346.17,71.12 Q345.42,73.74 343.10,75.09 Q340.78,76.44 338.30,76.14 Q335.82,75.83 334.11,74.27 Q332.40,72.71 330.87,70.61 Q329.34,68.50 330.61,66.20 Q331.87,63.90 333.75,62.25 Q335.63,60.60 337.94,61.40 Q340.25,62.20 342.08,63.27 Q343.92,64.34 345.42,66.42 Z" fill="#dedede" transform="translate(-0.3,-1.0)"/>
<path d="M345.42,66.42 Q346.92,68.50 346.17,71.12 Q345.42,73.74 343.10,75.09 Q340.78,76.44 338.30,76.14 Q335.82,75.83 334.11,74.27 Q332.40,72.71 330.87,70.61 Q329.34,68.50 330.61,66.20 Q331.87,63.90 333.75,62.25 Q335.63,60.60 337.94,61.40 Q340.25,62.20 342.08,63.27 Q343.92,64.34 345.42,66.42 Z" fill="url(#blob)"/>
<path d="M243.30,68.20 Q243.81,69.00 243.49,69.93 Q243.17,70.87 242.39,71.48 Q241.61,72.09 240.64,71.97 Q239.67,71.85 238.99,71.26 Q238.30,70.67 237.96,69.84 Q237.62,69.00 237.80,68.05 Q237.99,67.10 238.87,66.75 Q239.75,66.40 240.63,66.30 Q241.51,66.20 242.15,66.81 Q242.79,67.41 243.30,68.20 Z" fill="#7c7c7c" transform="translate(0.4,1.5)"/>
<path d="M243.30,68.20 Q243.81,69.00 243.49,69.93 Q243.17,70.87 242.39,71.48 Q241.61,72.09 240.64,71.97 Q239.67,71.85 238.99,71.26 Q238.30,70.67 237.96,69.84 Q237.62,69.00 237.80,68.05 Q237.99,67.10 238.87,66.75 Q239.75,66.40 240.63,66.30 Q241.51,66.20 242.15,66.81 Q242.79,67.41 243.30,68.20 Z" fill="#dedede" transform="translate(-0.3,-1.0)"/>
<path d="M243.30,68.20 Q243.81,69.00 243.49,69.93 Q243.17,70.87 242.39,71.48 Q241.61,72.09 240.64,71.97 Q239.67,71.85 238.99,71.26 Q238.30,70.67 237.96,69.84 Q237.62,69.00 237.80,68.05 Q237.99,67.10 238.87,66.75 Q239.75,66.40 240.63,66.30 Q241.51,66.20 242.15,66.81 Q242.79,67.41 243.30,68.20 Z" fill="url(#blob)"/>
<path d="M254.33,70.57 Q255.74,72.20 254.07,73.70 Q252.39,75.20 250.88,76.72 Q249.36,78.25 246.49,78.49 Q243.63,78.72 242.20,76.97 Q240.78,75.21 239.35,73.71 Q237.92,72.20 238.69,70.35 Q239.47,68.51 241.59,67.18 Q243.71,65.86 246.49,66.09 Q249.28,66.33 251.10,67.63 Q252.91,68.93 254.33,70.57 Z" fill="#7c7c7c" transform="translate(0.4,1.5)"/>
<path d="M254.33,70.57 Q255.74,72.20 254.07,73.70 Q252.39,75.20 250.88,76.72 Q249.36,78.25 246.49,78.49 Q243.63,78.72 242.20,76.97 Q240.78,75.21 239.35,73.71 Q237.92,72.20 238.69,70.35 Q239.47,68.51 241.59,67.18 Q243.71,65.86 246.49,66.09 Q249.28,66.33 251.10,67.63 Q252.91,68.93 254.33,70.57 Z" fill="#dedede" transform="translate(-0.3,-1.0)"/>
<path d="M254.33,70.57 Q255.74,72.20 254.07,73.70 Q252.39,75.20 250.88,76.72 Q249.36,78.25 246.49,78.49 Q243.63,78.72 242.20,76.97 Q240.78,75.21 239.35,73.71 Q237.92,72.20 238.69,70.35 Q239.47,68.51 241.59,67.18 Q243.71,65.86 246.49,66.09 Q249.28,66.33 251.10,67.63 Q252.91,68.93 254.33,70.57 Z" fill="url(#blob)"/>
<path d="M332.99,70.34 Q333.36,73.20 333.11,76.13 Q332.86,79.06 329.78,80.80 Q326.71,82.54 323.39,81.55 Q320.08,80.56 317.76,79.13 Q315.45,77.69 314.56,75.44 Q313.67,73.20 314.65,71.01 Q315.64,68.82 317.70,66.93 Q319.76,65.03 322.84,65.43 Q325.93,65.82 329.27,66.65 Q332.61,67.49 332.99,70.34 Z" fill="#7c7c7c" transform="translate(0.4,1.5)"/>
<path d="M332.99,70.34 Q333.36,73.20 333.11,76.13 Q332.86,79.06 329.78,80.80 Q326.71,82.54 323.39,81.55 Q320.08,80.56 317.76,79.13 Q315.45,77.69 314.56,75.44 Q313.67,73.20 314.65,71.01 Q315.64,68.82 317.70,66.93 Q319.76,65.03 322.84,65.43 Q325.93,65.82 329.27,66.65 Q332.61,67.49 332.99,70.34 Z" fill="#dedede" transform="translate(-0.3,-1.0)"/>
<path d="M332.99,70.34 Q333.36,73.20 333.11,76.13 Q332.86,79.06 329.78,80.80 Q326.71,82.54 323.39,81.55 Q320.08,80.56 317.76,79.13 Q315.45,77.69 314.56,75.44 Q313.67,73.20 314.65,71.01 Q315.64,68.82 317.70,66.93 Q319.76,65.03 322.84,65.43 Q325.93,65.82 329.27,66.65 Q332.61,67.49 332.99,70.34 Z" fill="url(#blob)"/>
<path d="M289.61,73.74 Q290.45,75.50 288.95,76.96 Q287.46,78.42 285.64,79.67 Q283.82,80.91 281.09,80.74 Q278.36,80.56 276.04,79.68 Q273.72,78.80 273.24,77.15 Q272.76,75.50 273.61,74.02 Q274.46,72.53 276.47,71.60 Q278.48,70.67 281.08,70.51 Q283.68,70.35 286.23,71.16 Q288.77,71.98 289.61,73.74 Z" fill="#7c7c7c" transform="translate(0.4,1.5)"/>
<path d="M289.61,73.74 Q290.45,75.50 288.95,76.96 Q287.46,78.42 285.64,79.67 Q283.82,80.91 281.09,80.74 Q278.36,80.56 276.04,79.68 Q273.72,78.80 273.24,77.15 Q272.76,75.50 273.61,74.02 Q274.46,72.53 276.47,71.60 Q278.48,70.67 281.08,70.51 Q283.68,70.35 286.23,71.16 Q288.77,71.98 289.61,73.74 Z" fill="#dedede" transform="translate(-0.3,-1.0)"/>
<path d="M289.61,73.74 Q290.45,75.50 288.95,76.96 Q287.46,78.42 285.64,79.67 Q283.82,80.91 281.09,80.74 Q278.36,80.56 276.04,79.68 Q273.72,78.80 273.24,77.15 Q272.76,75.50 273.61,74.02 Q274.46,72.53 276.47,71.60 Q278.48,70.67 281.08,70.51 Q283.68,70.35 286.23,71.16 Q288.77,71.98 289.61,73.74 Z" fill="url(#blob)"/>
<path d="M305.83,74.54 Q306.46,76.70 305.02,78.42 Q303.57,80.13 301.92,81.85 Q300.27,83.58 297.23,83.74 Q294.19,83.90 291.79,82.47 Q289.38,81.03 288.43,78.86 Q287.47,76.70 289.29,75.01 Q291.11,73.32 292.83,71.82 Q294.54,70.31 297.13,70.71 Q299.71,71.11 302.45,71.75 Q305.19,72.38 305.83,74.54 Z" fill="#7c7c7c" transform="translate(0.4,1.5)"/>
<path d="M305.83,74.54 Q306.46,76.70 305.02,78.42 Q303.57,80.13 301.92,81.85 Q300.27,83.58 297.23,83.74 Q294.19,83.90 291.79,82.47 Q289.38,81.03 288.43,78.86 Q287.47,76.70 289.29,75.01 Q291.11,73.32 292.83,71.82 Q294.54,70.31 297.13,70.71 Q299.71,71.11 302.45,71.75 Q305.19,72.38 305.83,74.54 Z" fill="#dedede" transform="translate(-0.3,-1.0)"/>
<path d="M305.83,74.54 Q306.46,76.70 305.02,78.42 Q303.57,80.13 301.92,81.85 Q300.27,83.58 297.23,83.74 Q294.19,83.90 291.79,82.47 Q289.38,81.03 288.43,78.86 Q287.47,76.70 289.29,75.01 Q291.11,73.32 292.83,71.82 Q294.54,70.31 297.13,70.71 Q299.71,71.11 302.45,71.75 Q305.19,72.38 305.83,74.54 Z" fill="url(#blob)"/>
<path d="M266.15,75.76 Q266.66,77.10 266.52,78.62 Q266.39,80.14 264.32,80.75 Q262.25,81.36 260.05,81.68 Q257.85,81.99 256.29,80.89 Q254.73,79.79 254.38,78.44 Q254.04,77.10 254.32,75.72 Q254.59,74.35 256.35,73.55 Q258.11,72.76 260.40,72.34 Q262.69,71.92 264.17,73.17 Q265.64,74.43 266.15,75.76 Z" fill="#7c7c7c" transform="translate(0.4,1.5)"/>
<path d="M266.15,75.76 Q266.66,77.10 266.52,78.62 Q266.39,80.14 264.32,80.75 Q262.25,81.36 260.05,81.68 Q257.85,81.99 256.29,80.89 Q254.73,79.79 254.38,78.44 Q254.04,77.10 254.32,75.72 Q254.59,74.35 256.35,73.55 Q258.11,72.76 260.40,72.34 Q262.69,71.92 264.17,73.17 Q265.64,74.43 266.15,75.76 Z" fill="#dedede" transform="translate(-0.3,-1.0)"/>
<path d="M266.15,75.76 Q266.66,77.10 266.52,78.62 Q266.39,80.14 264.32,80.75 Q262.25,81.36 260.05,81.68 Q257.85,81.99 256.29,80.89 Q254.73,79.79 254.38,78.44 Q254.04,77.10 254.32,75.72 Q254.59,74.35 256.35,73.55 Q258.11,72.76 260.40,72.34 Q262.69,71.92 264.17,73.17 Q265.64,74.43 266.15,75.76 Z" fill="url(#blob)"/>
<path d="M318.59,78.98 Q319.23,81.40 318.42,83.72 Q317.61,86.03 315.49,87.92 Q313.37,89.80 310.57,88.83 Q307.76,87.86 305.22,86.98 Q302.67,86.10 301.91,83.75 Q301.16,81.40 301.76,78.95 Q302.37,76.51 304.69,74.73 Q307.01,72.95 309.92,73.70 Q312.82,74.45 315.39,75.51 Q317.95,76.56 318.59,78.98 Z" fill="#7c7c7c" transform="translate(0.4,1.5)"/>
<path d="M318.59,78.98 Q319.23,81.40 318.42,83.72 Q317.61,86.03 315.49,87.92 Q313.37,89.80 310.57,88.83 Q307.76,87.86 305.22,86.98 Q302.67,86.10 301.91,83.75 Q301.16,81.40 301.76,78.95 Q302.37,76.51 304.69,74.73 Q307.01,72.95 309.92,73.70 Q312.82,74.45 315.39,75.51 Q317.95,76.56 318.59,78.98 Z" fill="#dedede" transform="translate(-0.3,-1.0)"/>
<path d="M318.59,78.98 Q319.23,81.40 318.42,83.72 Q317.61,86.03 315.49,87.92 Q313.37,89.80 310.57,88.83 Q307.76,87.86 305.22,86.98 Q302.67,86.10 301.91,83.75 Q301.16,81.40 301.76,78.95 Q302.37,76.51 304.69,74.73 Q307.01,72.95 309.92,73.70 Q312.82,74.45 315.39,75.51 Q317.95,76.56 318.59,78.98 Z" fill="url(#blob)"/>
<path d="M274.98,80.26 Q275.87,81.50 275.33,82.95 Q274.80,84.40 273.18,84.95 Q271.56,85.49 269.79,86.03 Q268.03,86.56 266.31,85.67 Q264.60,84.77 264.52,83.14 Q264.44,81.50 265.00,80.15 Q265.56,78.81 266.74,77.50 Q267.93,76.18 269.75,76.82 Q271.58,77.45 272.84,78.24 Q274.09,79.02 274.98,80.26 Z" fill="#7c7c7c" transform="translate(0.4,1.5)"/>
<path d="M274.98,80.26 Q275.87,81.50 275.33,82.95 Q274.80,84.40 273.18,84.95 Q271.56,85.49 269.79,86.03 Q268.03,86.56 266.31,85.67 Q264.60,84.77 264.52,83.14 Q264.44,81.50 265.00,80.15 Q265.56,78.81 266.74,77.50 Q267.93,76.18 269.75,76.82 Q271.58,77.45 272.84,78.24 Q274.09,79.02 274.98,80.26 Z" fill="#dedede" transform="translate(-0.3,-1.0)"/>
<path d="M274.98,80.26 Q275.87,81.50 275.33,82.95 Q274.80,84.40 273.18,84.95 Q271.56,85.49 269.79,86.03 Q268.03,86.56 266.31,85.67 Q264.60,84.77 264.52,83.14 Q264.44,81.50 265.00,80.15 Q265.56,78.81 266.74,77.50 Q267.93,76.18 269.75,76.82 Q271.58,77.45 272.84,78.24 Q274.09,79.02 274.98,80.26 Z" fill="url(#blob)"/>
<path d="M344.20,80.57 Q344.45,82.50 344.51,84.69 Q344.57,86.88 342.95,88.18 Q341.34,89.48 339.49,89.17 Q337.63,88.85 336.07,87.75 Q334.51,86.64 334.48,84.57 Q334.44,82.50 334.46,80.42 Q334.48,78.33 336.06,77.24 Q337.63,76.16 339.42,76.08 Q341.21,76.01 342.58,77.33 Q343.95,78.65 344.20,80.57 Z" fill="#7c7c7c" transform="translate(0.4,1.5)"/>
<path d="M344.20,80.57 Q344.45,82.50 344.51,84.69 Q344.57,86.88 342.95,88.18 Q341.34,89.48 339.49,89.17 Q337.63,88.85 336.07,87.75 Q334.51,86.64 334.48,84.57 Q334.44,82.50 334.46,80.42 Q334.48,78.33 336.06,77.24 Q337.63,76.16 339.42,76.08 Q341.21,76.01 342.58,77.33 Q343.95,78.65 344.20,80.57 Z" fill="#dedede" transform="translate(-0.3,-1.0)"/>
<path d="M344.20,80.57 Q344.45,82.50 344.51,84.69 Q344.57,86.88 342.95,88.18 Q341.34,89.48 339.49,89.17 Q337.63,88.85 336.07,87.75 Q334.51,86.64 334.48,84.57 Q334.44,82.50 334.46,80.42 Q334.48,78.33 336.06,77.24 Q337.63,76.16 339.42,76.08 Q341.21,76.01 342.58,77.33 Q343.95,78.65 344.20,80.57 Z" fill="url(#blob)"/>
<path d="M286.18,85.77 Q287.16,87.00 286.16,88.23 Q285.16,89.45 283.09,90.09 Q281.02,90.73 278.54,90.99 Q276.06,91.25 274.12,90.36 Q272.19,89.47 270.80,88.24 Q269.42,87.00 270.18,85.53 Q270.94,84.06 273.38,83.21 Q275.82,82.36 278.59,82.54 Q281.36,82.72 283.27,83.63 Q285.19,84.54 286.18,85.77 Z" fill="#7c7c7c" transform="translate(0.4,1.5)"/>
<path d="M286.18,85.77 Q287.16,87.00 286.16,88.23 Q285.16,89.45 283.09,90.09 Q281.02,90.73 278.54,90.99 Q276.06,91.25 274.12,90.36 Q272.19,89.47 270.80,88.24 Q269.42,87.00 270.18,85.53 Q270.94,84.06 273.38,83.21 Q275.82,82.36 278.59,82.54 Q281.36,82.72 283.27,83.63 Q285.19,84.54 286.18,85.77 Z" fill="#dedede" transform="translate(-0.3,-1.0)"/>
<path d="M286.18,85.77 Q287.16,87.00 286.16,88.23 Q285.16,89.45 283.09,90.09 Q281.02,90.73 278.54,90.99 Q276.06,91.25 274.12,90.36 Q272.19,89.47 270.80,88.24 Q269.42,87.00 270.18,85.53 Q270.94,84.06 273.38,83.21 Q275.82,82.36 278.59,82.54 Q281.36,82.72 283.27,83.63 Q285.19,84.54 286.18,85.77 Z" fill="url(#blob)"/>
<path d="M334.36,86.14 Q334.61,88.00 334.15,89.70 Q333.69,91.41 332.28,92.58 Q330.87,93.76 328.91,94.04 Q326.94,94.33 325.92,92.66 Q324.90,90.98 324.06,89.49 Q323.22,88.00 323.76,86.29 Q324.30,84.59 325.69,83.34 Q327.08,82.09 329.05,81.94 Q331.02,81.80 332.57,83.04 Q334.12,84.28 334.36,86.14 Z" fill="#7c7c7c" transform="translate(0.4,1.5)"/>
<path d="M334.36,86.14 Q334.61,88.00 334.15,89.70 Q333.69,91.41 332.28,92.58 Q330.87,93.76 328.91,94.04 Q326.94,94.33 325.92,92.66 Q324.90,90.98 324.06,89.49 Q323.22,88.00 323.76,86.29 Q324.30,84.59 325.69,83.34 Q327.08,82.09 329.05,81.94 Q331.02,81.80 332.57,83.04 Q334.12,84.28 334.36,86.14 Z" fill="#dedede" transform="translate(-0.3,-1.0)"/>
<path d="M334.36,86.14 Q334.61,88.00 334.15,89.70 Q333.69,91.41 332.28,92.58 Q330.87,93.76 328.91,94.04 Q326.94,94.33 325.92,92.66 Q324.90,90.98 324.06,89.49 Q323.22,88.00 323.76,86.29 Q324.30,84.59 325.69,83.34 Q327.08,82.09 329.05,81.94 Q331.02,81.80 332.57,83.04 Q334.12,84.28 334.36,86.14 Z" fill="url(#blob)"/>
<path d="M265.21,86.47 Q266.29,88.30 265.41,90.21 Q264.52,92.12 261.60,93.22 Q258.67,94.32 255.10,94.49 Q251.54,94.65 248.79,93.35 Q246.04,92.05 244.98,90.18 Q243.93,88.30 245.59,86.67 Q247.25,85.04 249.36,83.44 Q251.48,81.84 254.93,82.31 Q258.38,82.78 261.26,83.71 Q264.14,84.64 265.21,86.47 Z" fill="#7c7c7c" transform="translate(0.4,1.5)"/>
<path d="M265.21,86.47 Q266.29,88.30 265.41,90.21 Q264.52,92.12 261.60,93.22 Q258.67,94.32 255.10,94.49 Q251.54,94.65 248.79,93.35 Q246.04,92.05 244.98,90.18 Q243.93,88.30 245.59,86.67 Q247.25,85.04 249.36,83.44 Q251.48,81.84 254.93,82.31 Q258.38,82.78 261.26,83.71 Q264.14,84.64 265.21,86.47 Z" fill="#dedede" transform="translate(-0.3,-1.0)"/>
<path d="M265.21,86.47 Q266.29,88.30 265.41,90.21 Q264.52,92.12 261.60,93.22 Q258.67,94.32 255.10,94.49 Q251.54,94.65 248.79,93.35 Q246.04,92.05 244.98,90.18 Q243.93,88.30 245.59,86.67 Q247.25,85.04 249.36,83.44 Q251.48,81.84 254.93,82.31 Q258.38,82.78 261.26,83.71 Q264.14,84.64 265.21,86.47 Z" fill="url(#blob)"/>
<path d="M304.19,90.46 Q306.21,91.90 305.31,93.79 Q304.42,95.68 301.52,96.87 Q298.62,98.06 295.48,97.25 Q292.33,96.43 289.79,95.72 Q287.24,95.02 286.32,93.46 Q285.41,91.90 286.22,90.30 Q287.04,88.70 289.62,87.92 Q292.20,87.14 295.20,86.80 Q298.20,86.46 300.18,87.74 Q302.17,89.02 304.19,90.46 Z" fill="#7c7c7c" transform="translate(0.4,1.5)"/>
<path d="M304.19,90.46 Q306.21,91.90 305.31,93.79 Q304.42,95.68 301.52,96.87 Q298.62,98.06 295.48,97.25 Q292.33,96.43 289.79,95.72 Q287.24,95.02 286.32,93.46 Q285.41,91.90 286.22,90.30 Q287.04,88.70 289.62,87.92 Q292.20,87.14 295.20,86.80 Q298.20,86.46 300.18,87.74 Q302.17,89.02 304.19,90.46 Z" fill="#dedede" transform="translate(-0.3,-1.0)"/>
<path d="M304.19,90.46 Q306.21,91.90 305.31,93.79 Q304.42,95.68 301.52,96.87 Q298.62,98.06 295.48,97.25 Q292.33,96.43 289.79,95.72 Q287.24,95.02 286.32,93.46 Q285.41,91.90 286.22,90.30 Q287.04,88.70 289.62,87.92 Q292.20,87.14 295.20,86.80 Q298.20,86.46 300.18,87.74 Q302.17,89.02 304.19,90.46 Z" fill="url(#blob)"/>
<path d="M323.19,91.66 Q323.46,93.00 323.41,94.46 Q323.35,95.92 321.64,96.69 Q319.93,97.46 318.08,97.28 Q316.22,97.10 315.04,96.18 Q313.86,95.25 312.61,94.13 Q311.36,93.00 312.18,91.64 Q312.99,90.27 314.68,89.75 Q316.37,89.23 318.04,89.14 Q319.71,89.06 321.31,89.69 Q322.91,90.32 323.19,91.66 Z" fill="#7c7c7c" transform="translate(0.4,1.5)"/>
<path d="M323.19,91.66 Q323.46,93.00 323.41,94.46 Q323.35,95.92 321.64,96.69 Q319.93,97.46 318.08,97.28 Q316.22,97.10 315.04,96.18 Q313.86,95.25 312.61,94.13 Q311.36,93.00 312.18,91.64 Q312.99,90.27 314.68,89.75 Q316.37,89.23 318.04,89.14 Q319.71,89.06 321.31,89.69 Q322.91,90.32 323.19,91.66 Z" fill="#dedede" transform="translate(-0.3,-1.0)"/>
<path d="M323.19,91.66 Q323.46,93.00 323.41,94.46 Q323.35,95.92 321.64,96.69 Q319.93,97.46 318.08,97.28 Q316.22,97.10 315.04,96.18 Q313.86,95.25 312.61,94.13 Q311.36,93.00 312.18,91.64 Q312.99,90.27 314.68,89.75 Q316.37,89.23 318.04,89.14 Q319.71,89.06 321.31,89.69 Q322.91,90.32 323.19,91.66 Z" fill="url(#blob)"/>
</g></g>
<line x1="262.50" y1="19.50" x2="262.50" y2="48.00" stroke="#000" stroke-width="1.0" />
<path d="M259.6,45.5 L262.5,52.5 L265.4,45.5 Z" fill="#000"/>
<line x1="323.70" y1="120.50" x2="323.70" y2="101.50" stroke="#000" stroke-width="1.0" />
<path d="M320.8,104.0 L323.7,97.0 L326.6,104.0 Z" fill="#000"/>
<text x="249.00" y="16.60" font-size="11.6" text-anchor="start" font-weight="normal" fill="#231f20" stroke="#231f20" stroke-width="0.2" >SiNP</text>
<text x="303.2" y="132.2" font-size="10.2" fill="#231f20" stroke="#231f20" stroke-width="0.2">SiO<tspan font-size="7.4" dy="3.4">2</tspan></text>
<text x="326.40" y="132.20" font-size="10.2" text-anchor="start" font-weight="normal" fill="#231f20" stroke="#231f20" stroke-width="0.2" >coat</text>
<line x1="236.50" y1="150.60" x2="264.20" y2="150.60" stroke="#000" stroke-width="2.0" />
<text x="270.60" y="154.40" font-size="11.7" text-anchor="start" font-weight="normal" fill="#231f20" stroke="#231f20" stroke-width="0.2" >500 nm</text>
<clipPath id="clipc"><rect x="32" y="188.8" width="118.8" height="115.8"/></clipPath>
<g clip-path="url(#clipc)">
<circle cx="60.61" cy="292.90" r="1.6" fill="none" stroke="#c9c9c9" stroke-width="0.65"/>
<circle cx="103.68" cy="294.61" r="1.6" fill="none" stroke="#c9c9c9" stroke-width="0.65"/>
<circle cx="106.25" cy="295.69" r="1.6" fill="none" stroke="#c9c9c9" stroke-width="0.65"/>
<circle cx="131.17" cy="295.47" r="1.6" fill="none" stroke="#c9c9c9" stroke-width="0.65"/>
<circle cx="63.13" cy="296.14" r="1.6" fill="none" stroke="#c9c9c9" stroke-width="0.65"/>
<circle cx="87.95" cy="302.16" r="1.6" fill="none" stroke="#c9c9c9" stroke-width="0.65"/>
<circle cx="88.67" cy="294.35" r="1.6" fill="none" stroke="#c9c9c9" stroke-width="0.65"/>
<circle cx="107.32" cy="294.16" r="1.6" fill="none" stroke="#c9c9c9" stroke-width="0.65"/>
<circle cx="134.77" cy="291.07" r="1.6" fill="none" stroke="#c9c9c9" stroke-width="0.65"/>
<circle cx="111.63" cy="294.68" r="1.6" fill="none" stroke="#c9c9c9" stroke-width="0.65"/>
<circle cx="40.14" cy="295.48" r="1.6" fill="none" stroke="#c9c9c9" stroke-width="0.65"/>
<circle cx="68.06" cy="291.83" r="1.6" fill="none" stroke="#c9c9c9" stroke-width="0.65"/>
<circle cx="36.25" cy="297.25" r="1.6" fill="none" stroke="#c9c9c9" stroke-width="0.65"/>
<circle cx="117.21" cy="293.10" r="1.6" fill="none" stroke="#c9c9c9" stroke-width="0.65"/>
<circle cx="136.04" cy="293.99" r="1.6" fill="none" stroke="#c9c9c9" stroke-width="0.65"/>
<circle cx="79.09" cy="289.59" r="1.6" fill="none" stroke="#c9c9c9" stroke-width="0.65"/>
<circle cx="126.87" cy="289.58" r="1.6" fill="none" stroke="#c9c9c9" stroke-width="0.65"/>
<circle cx="136.04" cy="297.38" r="1.6" fill="none" stroke="#c9c9c9" stroke-width="0.65"/>
<circle cx="44.07" cy="296.49" r="1.6" fill="none" stroke="#c9c9c9" stroke-width="0.65"/>
<circle cx="146.24" cy="296.67" r="1.6" fill="none" stroke="#c9c9c9" stroke-width="0.65"/>
<circle cx="83.94" cy="293.76" r="1.6" fill="none" stroke="#c9c9c9" stroke-width="0.65"/>
<circle cx="92.30" cy="293.73" r="1.6" fill="none" stroke="#c9c9c9" stroke-width="0.65"/>
<circle cx="78.02" cy="293.26" r="1.6" fill="none" stroke="#c9c9c9" stroke-width="0.65"/>
<circle cx="101.37" cy="298.08" r="1.6" fill="none" stroke="#c9c9c9" stroke-width="0.65"/>
<circle cx="139.02" cy="292.82" r="1.6" fill="none" stroke="#c9c9c9" stroke-width="0.65"/>
<circle cx="133.40" cy="289.86" r="1.6" fill="none" stroke="#c9c9c9" stroke-width="0.65"/>
<circle cx="149.24" cy="294.56" r="1.6" fill="none" stroke="#c9c9c9" stroke-width="0.65"/>
<circle cx="133.90" cy="293.93" r="1.6" fill="none" stroke="#c9c9c9" stroke-width="0.65"/>
<circle cx="146.14" cy="298.09" r="1.6" fill="none" stroke="#c9c9c9" stroke-width="0.65"/>
<circle cx="116.62" cy="293.40" r="1.6" fill="none" stroke="#c9c9c9" stroke-width="0.65"/>
<circle cx="57.45" cy="296.97" r="1.6" fill="none" stroke="#c9c9c9" stroke-width="0.65"/>
<circle cx="66.14" cy="292.34" r="1.6" fill="none" stroke="#c9c9c9" stroke-width="0.65"/>
<circle cx="40.07" cy="300.08" r="1.6" fill="none" stroke="#c9c9c9" stroke-width="0.65"/>
<circle cx="43.02" cy="289.05" r="1.6" fill="none" stroke="#c9c9c9" stroke-width="0.65"/>
<circle cx="126.83" cy="294.04" r="1.6" fill="none" stroke="#c9c9c9" stroke-width="0.65"/>
<circle cx="67.19" cy="296.09" r="1.6" fill="none" stroke="#c9c9c9" stroke-width="0.65"/>
<circle cx="123.09" cy="295.84" r="1.6" fill="none" stroke="#c9c9c9" stroke-width="0.65"/>
<circle cx="104.93" cy="294.74" r="1.6" fill="none" stroke="#c9c9c9" stroke-width="0.65"/>
<circle cx="37.89" cy="294.84" r="1.6" fill="none" stroke="#c9c9c9" stroke-width="0.65"/>
<circle cx="136.28" cy="293.01" r="1.6" fill="none" stroke="#c9c9c9" stroke-width="0.65"/>
<circle cx="148.02" cy="285.93" r="1.6" fill="none" stroke="#c9c9c9" stroke-width="0.65"/>
<circle cx="69.05" cy="294.98" r="1.6" fill="none" stroke="#c9c9c9" stroke-width="0.65"/>
<circle cx="41.66" cy="294.77" r="1.6" fill="none" stroke="#c9c9c9" stroke-width="0.65"/>
<circle cx="55.83" cy="294.91" r="1.6" fill="none" stroke="#c9c9c9" stroke-width="0.65"/>
<circle cx="80.61" cy="294.14" r="1.6" fill="none" stroke="#c9c9c9" stroke-width="0.65"/>
<circle cx="37.59" cy="294.33" r="1.6" fill="none" stroke="#c9c9c9" stroke-width="0.65"/>
<circle cx="134.74" cy="292.74" r="1.6" fill="none" stroke="#c9c9c9" stroke-width="0.65"/>
<circle cx="138.14" cy="301.34" r="1.6" fill="none" stroke="#c9c9c9" stroke-width="0.65"/>
<circle cx="77.07" cy="292.25" r="1.6" fill="none" stroke="#c9c9c9" stroke-width="0.65"/>
<circle cx="108.39" cy="296.08" r="1.6" fill="none" stroke="#c9c9c9" stroke-width="0.65"/>
<circle cx="102.71" cy="291.93" r="1.6" fill="none" stroke="#c9c9c9" stroke-width="0.65"/>
<circle cx="143.31" cy="293.98" r="1.6" fill="none" stroke="#c9c9c9" stroke-width="0.65"/>
<circle cx="92.28" cy="291.53" r="1.6" fill="none" stroke="#c9c9c9" stroke-width="0.65"/>
<circle cx="60.57" cy="297.04" r="1.6" fill="none" stroke="#c9c9c9" stroke-width="0.65"/>
<circle cx="68.04" cy="298.42" r="1.6" fill="none" stroke="#c9c9c9" stroke-width="0.65"/>
<circle cx="97.15" cy="294.86" r="1.6" fill="none" stroke="#c9c9c9" stroke-width="0.65"/>
<circle cx="33.95" cy="292.35" r="1.6" fill="none" stroke="#c9c9c9" stroke-width="0.65"/>
<circle cx="34.96" cy="297.04" r="1.6" fill="none" stroke="#c9c9c9" stroke-width="0.65"/>
<circle cx="105.08" cy="294.68" r="1.6" fill="none" stroke="#c9c9c9" stroke-width="0.65"/>
<circle cx="106.44" cy="294.62" r="1.6" fill="none" stroke="#c9c9c9" stroke-width="0.65"/>
<circle cx="87.48" cy="294.26" r="1.6" fill="none" stroke="#c9c9c9" stroke-width="0.65"/>
<circle cx="115.81" cy="293.11" r="1.6" fill="none" stroke="#c9c9c9" stroke-width="0.65"/>
<circle cx="119.47" cy="296.21" r="1.6" fill="none" stroke="#c9c9c9" stroke-width="0.65"/>
<circle cx="112.17" cy="295.43" r="1.6" fill="none" stroke="#c9c9c9" stroke-width="0.65"/>
<circle cx="145.98" cy="295.28" r="1.6" fill="none" stroke="#c9c9c9" stroke-width="0.65"/>
<circle cx="102.36" cy="298.17" r="1.6" fill="none" stroke="#c9c9c9" stroke-width="0.65"/>
<circle cx="70.27" cy="293.82" r="1.6" fill="none" stroke="#c9c9c9" stroke-width="0.65"/>
<circle cx="76.05" cy="297.00" r="1.6" fill="none" stroke="#c9c9c9" stroke-width="0.65"/>
<circle cx="102.70" cy="294.51" r="1.6" fill="none" stroke="#c9c9c9" stroke-width="0.65"/>
<circle cx="123.50" cy="297.70" r="1.6" fill="none" stroke="#c9c9c9" stroke-width="0.65"/>
<circle cx="35.77" cy="291.46" r="1.6" fill="none" stroke="#c9c9c9" stroke-width="0.65"/>
<circle cx="69.09" cy="293.51" r="1.6" fill="none" stroke="#c9c9c9" stroke-width="0.65"/>
<circle cx="58.79" cy="295.94" r="1.6" fill="none" stroke="#c9c9c9" stroke-width="0.65"/>
<circle cx="54.66" cy="293.49" r="1.6" fill="none" stroke="#c9c9c9" stroke-width="0.65"/>
<circle cx="83.83" cy="294.91" r="1.6" fill="none" stroke="#c9c9c9" stroke-width="0.65"/>
<circle cx="70.50" cy="294.16" r="1.6" fill="none" stroke="#c9c9c9" stroke-width="0.65"/>
<circle cx="71.88" cy="296.70" r="1.6" fill="none" stroke="#c9c9c9" stroke-width="0.65"/>
<circle cx="133.30" cy="292.88" r="1.6" fill="none" stroke="#c9c9c9" stroke-width="0.65"/>
<circle cx="52.52" cy="293.35" r="1.6" fill="none" stroke="#c9c9c9" stroke-width="0.65"/>
<circle cx="136.75" cy="298.52" r="1.6" fill="none" stroke="#c9c9c9" stroke-width="0.65"/>
<circle cx="85.69" cy="295.51" r="1.6" fill="none" stroke="#c9c9c9" stroke-width="0.65"/>
<circle cx="94.94" cy="296.60" r="1.6" fill="none" stroke="#c9c9c9" stroke-width="0.65"/>
<circle cx="55.06" cy="297.03" r="1.6" fill="none" stroke="#c9c9c9" stroke-width="0.65"/>
<circle cx="54.21" cy="290.65" r="1.6" fill="none" stroke="#c9c9c9" stroke-width="0.65"/>
<circle cx="65.39" cy="296.61" r="1.6" fill="none" stroke="#c9c9c9" stroke-width="0.65"/>
<circle cx="127.50" cy="291.81" r="1.6" fill="none" stroke="#c9c9c9" stroke-width="0.65"/>
<circle cx="73.24" cy="296.78" r="1.6" fill="none" stroke="#c9c9c9" stroke-width="0.65"/>
<circle cx="126.04" cy="296.87" r="1.6" fill="none" stroke="#c9c9c9" stroke-width="0.65"/>
<circle cx="64.52" cy="293.76" r="1.6" fill="none" stroke="#c9c9c9" stroke-width="0.65"/>
<circle cx="82.01" cy="297.52" r="1.6" fill="none" stroke="#c9c9c9" stroke-width="0.65"/>
<circle cx="80.80" cy="296.63" r="1.6" fill="none" stroke="#c9c9c9" stroke-width="0.65"/>
<circle cx="33.15" cy="294.58" r="1.6" fill="none" stroke="#c9c9c9" stroke-width="0.65"/>
<circle cx="143.62" cy="300.88" r="1.6" fill="none" stroke="#c9c9c9" stroke-width="0.65"/>
<circle cx="83.72" cy="290.06" r="1.6" fill="none" stroke="#c9c9c9" stroke-width="0.65"/>
<circle cx="144.43" cy="296.95" r="1.6" fill="none" stroke="#c9c9c9" stroke-width="0.65"/>
<circle cx="120.35" cy="294.49" r="1.6" fill="none" stroke="#c9c9c9" stroke-width="0.65"/>
<circle cx="131.08" cy="293.66" r="1.6" fill="none" stroke="#c9c9c9" stroke-width="0.65"/>
<circle cx="66.62" cy="292.61" r="1.6" fill="none" stroke="#c9c9c9" stroke-width="0.65"/>
<circle cx="72.74" cy="295.44" r="1.6" fill="none" stroke="#c9c9c9" stroke-width="0.65"/>
<circle cx="101.89" cy="296.27" r="1.6" fill="none" stroke="#c9c9c9" stroke-width="0.65"/>
<circle cx="66.38" cy="295.59" r="1.6" fill="none" stroke="#c9c9c9" stroke-width="0.65"/>
<circle cx="138.95" cy="294.57" r="1.6" fill="none" stroke="#c9c9c9" stroke-width="0.65"/>
<circle cx="114.25" cy="300.22" r="1.6" fill="none" stroke="#c9c9c9" stroke-width="0.65"/>
<circle cx="138.49" cy="292.75" r="1.6" fill="none" stroke="#c9c9c9" stroke-width="0.65"/>
<circle cx="100.51" cy="299.59" r="1.6" fill="none" stroke="#c9c9c9" stroke-width="0.65"/>
<circle cx="52.82" cy="295.65" r="1.6" fill="none" stroke="#c9c9c9" stroke-width="0.65"/>
<circle cx="67.90" cy="293.65" r="1.6" fill="none" stroke="#c9c9c9" stroke-width="0.65"/>
<circle cx="81.30" cy="292.59" r="1.6" fill="none" stroke="#c9c9c9" stroke-width="0.65"/>
<circle cx="143.13" cy="293.49" r="1.6" fill="none" stroke="#c9c9c9" stroke-width="0.65"/>
<circle cx="62.32" cy="293.76" r="1.6" fill="none" stroke="#c9c9c9" stroke-width="0.65"/>
<circle cx="134.02" cy="290.81" r="1.6" fill="none" stroke="#c9c9c9" stroke-width="0.65"/>
<circle cx="74.01" cy="295.95" r="1.6" fill="none" stroke="#c9c9c9" stroke-width="0.65"/>
<circle cx="55.83" cy="290.62" r="1.6" fill="none" stroke="#c9c9c9" stroke-width="0.65"/>
<circle cx="52.76" cy="294.27" r="1.6" fill="none" stroke="#c9c9c9" stroke-width="0.65"/>
<circle cx="125.78" cy="299.45" r="1.6" fill="none" stroke="#c9c9c9" stroke-width="0.65"/>
<circle cx="129.53" cy="293.08" r="1.6" fill="none" stroke="#c9c9c9" stroke-width="0.65"/>
<circle cx="33.48" cy="291.72" r="1.6" fill="none" stroke="#c9c9c9" stroke-width="0.65"/>
<circle cx="38.48" cy="291.56" r="1.6" fill="none" stroke="#c9c9c9" stroke-width="0.65"/>
<circle cx="64.54" cy="294.93" r="1.6" fill="none" stroke="#c9c9c9" stroke-width="0.65"/>
<circle cx="82.39" cy="298.46" r="1.6" fill="none" stroke="#c9c9c9" stroke-width="0.65"/>
<circle cx="88.26" cy="295.33" r="1.6" fill="none" stroke="#c9c9c9" stroke-width="0.65"/>
<circle cx="39.05" cy="295.15" r="1.6" fill="none" stroke="#c9c9c9" stroke-width="0.65"/>
<circle cx="47.53" cy="295.99" r="1.6" fill="none" stroke="#c9c9c9" stroke-width="0.65"/>
<circle cx="147.32" cy="295.99" r="1.6" fill="none" stroke="#c9c9c9" stroke-width="0.65"/>
<circle cx="133.17" cy="297.93" r="1.6" fill="none" stroke="#c9c9c9" stroke-width="0.65"/>
<circle cx="69.78" cy="296.88" r="1.6" fill="none" stroke="#c9c9c9" stroke-width="0.65"/>
<circle cx="69.63" cy="293.07" r="1.6" fill="none" stroke="#c9c9c9" stroke-width="0.65"/>
<circle cx="101.64" cy="298.32" r="1.6" fill="none" stroke="#c9c9c9" stroke-width="0.65"/>
<circle cx="75.07" cy="296.14" r="1.6" fill="none" stroke="#c9c9c9" stroke-width="0.65"/>
<circle cx="47.17" cy="297.46" r="1.6" fill="none" stroke="#c9c9c9" stroke-width="0.65"/>
<circle cx="97.99" cy="294.76" r="1.6" fill="none" stroke="#c9c9c9" stroke-width="0.65"/>
<circle cx="42.00" cy="292.81" r="1.6" fill="none" stroke="#c9c9c9" stroke-width="0.65"/>
<circle cx="53.62" cy="292.82" r="1.6" fill="none" stroke="#c9c9c9" stroke-width="0.65"/>
<circle cx="124.71" cy="297.83" r="1.6" fill="none" stroke="#c9c9c9" stroke-width="0.65"/>
<circle cx="77.36" cy="296.45" r="1.6" fill="none" stroke="#c9c9c9" stroke-width="0.65"/>
<circle cx="83.40" cy="291.85" r="1.6" fill="none" stroke="#c9c9c9" stroke-width="0.65"/>
<circle cx="76.43" cy="291.25" r="1.6" fill="none" stroke="#c9c9c9" stroke-width="0.65"/>
<circle cx="82.09" cy="295.40" r="1.6" fill="none" stroke="#c9c9c9" stroke-width="0.65"/>
<circle cx="114.30" cy="293.41" r="1.6" fill="none" stroke="#c9c9c9" stroke-width="0.65"/>
<circle cx="95.67" cy="295.77" r="1.6" fill="none" stroke="#c9c9c9" stroke-width="0.65"/>
<circle cx="114.42" cy="297.76" r="1.6" fill="none" stroke="#c9c9c9" stroke-width="0.65"/>
<circle cx="82.72" cy="296.49" r="1.6" fill="none" stroke="#c9c9c9" stroke-width="0.65"/>
<circle cx="136.14" cy="297.62" r="1.6" fill="none" stroke="#c9c9c9" stroke-width="0.65"/>
<circle cx="138.28" cy="294.32" r="1.6" fill="none" stroke="#c9c9c9" stroke-width="0.65"/>
<circle cx="125.69" cy="295.08" r="1.6" fill="none" stroke="#c9c9c9" stroke-width="0.65"/>
<circle cx="47.09" cy="298.20" r="1.6" fill="none" stroke="#c9c9c9" stroke-width="0.65"/>
<circle cx="128.32" cy="292.46" r="1.6" fill="none" stroke="#c9c9c9" stroke-width="0.65"/>
<circle cx="125.87" cy="290.67" r="1.6" fill="none" stroke="#c9c9c9" stroke-width="0.65"/>
<circle cx="111.17" cy="294.96" r="1.6" fill="none" stroke="#c9c9c9" stroke-width="0.65"/>
<circle cx="44.74" cy="291.97" r="1.6" fill="none" stroke="#c9c9c9" stroke-width="0.65"/>
<circle cx="101.78" cy="296.75" r="1.6" fill="none" stroke="#c9c9c9" stroke-width="0.65"/>
<circle cx="123.74" cy="295.34" r="1.6" fill="none" stroke="#c9c9c9" stroke-width="0.65"/>
<circle cx="37.82" cy="296.30" r="1.6" fill="none" stroke="#c9c9c9" stroke-width="0.65"/>
<circle cx="136.23" cy="295.95" r="1.6" fill="none" stroke="#c9c9c9" stroke-width="0.65"/>
<circle cx="53.69" cy="300.24" r="1.6" fill="none" stroke="#c9c9c9" stroke-width="0.65"/>
<circle cx="46.88" cy="296.03" r="1.6" fill="none" stroke="#c9c9c9" stroke-width="0.65"/>
<circle cx="131.93" cy="293.01" r="1.6" fill="none" stroke="#c9c9c9" stroke-width="0.65"/>
<circle cx="144.70" cy="290.91" r="1.6" fill="none" stroke="#c9c9c9" stroke-width="0.65"/>
<circle cx="100.76" cy="295.51" r="1.6" fill="none" stroke="#c9c9c9" stroke-width="0.65"/>
<circle cx="122.93" cy="294.63" r="1.6" fill="none" stroke="#c9c9c9" stroke-width="0.65"/>
<circle cx="92.78" cy="295.03" r="1.6" fill="none" stroke="#c9c9c9" stroke-width="0.65"/>
<circle cx="120.75" cy="294.09" r="1.6" fill="none" stroke="#c9c9c9" stroke-width="0.65"/>
<circle cx="142.60" cy="297.43" r="1.6" fill="none" stroke="#c9c9c9" stroke-width="0.65"/>
<circle cx="98.98" cy="296.16" r="1.6" fill="none" stroke="#c9c9c9" stroke-width="0.65"/>
<circle cx="130.06" cy="295.38" r="1.6" fill="none" stroke="#c9c9c9" stroke-width="0.65"/>
<circle cx="62.02" cy="296.93" r="1.6" fill="none" stroke="#c9c9c9" stroke-width="0.65"/>
<circle cx="105.10" cy="295.36" r="1.6" fill="none" stroke="#c9c9c9" stroke-width="0.65"/>
<circle cx="75.85" cy="292.70" r="1.6" fill="none" stroke="#c9c9c9" stroke-width="0.65"/>
<circle cx="79.28" cy="293.71" r="1.6" fill="none" stroke="#c9c9c9" stroke-width="0.65"/>
<circle cx="42.40" cy="297.49" r="1.6" fill="none" stroke="#c9c9c9" stroke-width="0.65"/>
<circle cx="91.49" cy="297.94" r="1.6" fill="none" stroke="#c9c9c9" stroke-width="0.65"/>
<circle cx="120.57" cy="294.85" r="1.6" fill="none" stroke="#c9c9c9" stroke-width="0.65"/>
<circle cx="51.51" cy="293.71" r="1.6" fill="none" stroke="#c9c9c9" stroke-width="0.65"/>
<circle cx="111.91" cy="291.23" r="1.6" fill="none" stroke="#c9c9c9" stroke-width="0.65"/>
<circle cx="93.46" cy="291.59" r="1.6" fill="none" stroke="#c9c9c9" stroke-width="0.65"/>
<circle cx="138.22" cy="295.68" r="1.6" fill="none" stroke="#c9c9c9" stroke-width="0.65"/>
<circle cx="50.18" cy="298.86" r="1.6" fill="none" stroke="#c9c9c9" stroke-width="0.65"/>
<circle cx="140.49" cy="297.75" r="1.6" fill="none" stroke="#c9c9c9" stroke-width="0.65"/>
<circle cx="93.48" cy="291.42" r="1.6" fill="none" stroke="#c9c9c9" stroke-width="0.65"/>
<circle cx="54.51" cy="296.75" r="1.6" fill="none" stroke="#c9c9c9" stroke-width="0.65"/>
<circle cx="64.07" cy="296.38" r="1.6" fill="none" stroke="#c9c9c9" stroke-width="0.65"/>
<circle cx="69.66" cy="298.58" r="1.6" fill="none" stroke="#c9c9c9" stroke-width="0.65"/>
<circle cx="59.94" cy="292.97" r="1.6" fill="none" stroke="#c9c9c9" stroke-width="0.65"/>
<circle cx="67.42" cy="289.30" r="1.6" fill="none" stroke="#c9c9c9" stroke-width="0.65"/>
<circle cx="115.62" cy="290.94" r="1.6" fill="none" stroke="#c9c9c9" stroke-width="0.65"/>
<circle cx="101.41" cy="297.94" r="1.6" fill="none" stroke="#c9c9c9" stroke-width="0.65"/>
<circle cx="64.05" cy="295.41" r="1.6" fill="none" stroke="#c9c9c9" stroke-width="0.65"/>
<circle cx="89.04" cy="295.85" r="1.6" fill="none" stroke="#c9c9c9" stroke-width="0.65"/>
<circle cx="77.65" cy="296.45" r="1.6" fill="none" stroke="#c9c9c9" stroke-width="0.65"/>
<circle cx="70.50" cy="297.47" r="1.6" fill="none" stroke="#c9c9c9" stroke-width="0.65"/>
<circle cx="123.72" cy="300.26" r="1.6" fill="none" stroke="#c9c9c9" stroke-width="0.65"/>
<circle cx="89.05" cy="301.58" r="1.6" fill="none" stroke="#c9c9c9" stroke-width="0.65"/>
<circle cx="103.10" cy="290.47" r="1.6" fill="none" stroke="#c9c9c9" stroke-width="0.65"/>
<circle cx="129.30" cy="296.28" r="1.6" fill="none" stroke="#c9c9c9" stroke-width="0.65"/>
<circle cx="98.17" cy="291.18" r="1.6" fill="none" stroke="#c9c9c9" stroke-width="0.65"/>
<circle cx="133.43" cy="295.79" r="1.6" fill="none" stroke="#c9c9c9" stroke-width="0.65"/>
<circle cx="79.71" cy="294.62" r="1.6" fill="none" stroke="#c9c9c9" stroke-width="0.65"/>
<circle cx="87.61" cy="288.73" r="1.6" fill="none" stroke="#c9c9c9" stroke-width="0.65"/>
<circle cx="59.62" cy="295.69" r="1.6" fill="none" stroke="#c9c9c9" stroke-width="0.65"/>
<circle cx="112.09" cy="299.42" r="1.6" fill="none" stroke="#c9c9c9" stroke-width="0.65"/>
<circle cx="145.44" cy="296.48" r="1.6" fill="none" stroke="#c9c9c9" stroke-width="0.65"/>
<circle cx="54.92" cy="293.76" r="1.6" fill="none" stroke="#c9c9c9" stroke-width="0.65"/>
<circle cx="63.04" cy="296.86" r="1.6" fill="none" stroke="#c9c9c9" stroke-width="0.65"/>
<circle cx="133.66" cy="299.05" r="1.6" fill="none" stroke="#c9c9c9" stroke-width="0.65"/>
<circle cx="138.50" cy="295.14" r="1.6" fill="none" stroke="#c9c9c9" stroke-width="0.65"/>
<circle cx="69.49" cy="300.50" r="1.6" fill="none" stroke="#c9c9c9" stroke-width="0.65"/>
<circle cx="82.42" cy="295.15" r="1.6" fill="none" stroke="#c9c9c9" stroke-width="0.65"/>
<circle cx="43.50" cy="294.21" r="1.6" fill="none" stroke="#c9c9c9" stroke-width="0.65"/>
<circle cx="130.75" cy="294.67" r="1.6" fill="none" stroke="#c9c9c9" stroke-width="0.65"/>
<circle cx="100.90" cy="297.66" r="1.6" fill="none" stroke="#c9c9c9" stroke-width="0.65"/>
<circle cx="112.11" cy="297.65" r="1.6" fill="none" stroke="#c9c9c9" stroke-width="0.65"/>
<circle cx="83.94" cy="295.40" r="1.6" fill="none" stroke="#c9c9c9" stroke-width="0.65"/>
<circle cx="89.79" cy="296.16" r="1.6" fill="none" stroke="#c9c9c9" stroke-width="0.65"/>
<circle cx="145.04" cy="298.64" r="1.6" fill="none" stroke="#c9c9c9" stroke-width="0.65"/>
<circle cx="78.61" cy="294.04" r="1.6" fill="none" stroke="#c9c9c9" stroke-width="0.65"/>
<circle cx="64.94" cy="294.94" r="1.6" fill="none" stroke="#c9c9c9" stroke-width="0.65"/>
<circle cx="110.92" cy="299.43" r="1.6" fill="none" stroke="#c9c9c9" stroke-width="0.65"/>
<circle cx="139.56" cy="298.83" r="1.6" fill="none" stroke="#c9c9c9" stroke-width="0.65"/>
<circle cx="44.01" cy="297.65" r="1.6" fill="none" stroke="#c9c9c9" stroke-width="0.65"/>
<circle cx="123.51" cy="294.39" r="1.6" fill="none" stroke="#c9c9c9" stroke-width="0.65"/>
<circle cx="121.74" cy="294.20" r="1.6" fill="none" stroke="#c9c9c9" stroke-width="0.65"/>
<circle cx="109.59" cy="299.04" r="1.6" fill="none" stroke="#c9c9c9" stroke-width="0.65"/>
<circle cx="127.47" cy="294.87" r="1.6" fill="none" stroke="#c9c9c9" stroke-width="0.65"/>
<circle cx="145.75" cy="299.63" r="1.6" fill="none" stroke="#c9c9c9" stroke-width="0.65"/>
<circle cx="111.79" cy="294.06" r="1.6" fill="none" stroke="#c9c9c9" stroke-width="0.65"/>
<circle cx="90.73" cy="295.01" r="1.6" fill="none" stroke="#c9c9c9" stroke-width="0.65"/>
<circle cx="74.05" cy="294.52" r="1.6" fill="none" stroke="#c9c9c9" stroke-width="0.65"/>
<circle cx="99.26" cy="291.46" r="1.6" fill="none" stroke="#c9c9c9" stroke-width="0.65"/>
<circle cx="54.02" cy="293.06" r="1.6" fill="none" stroke="#c9c9c9" stroke-width="0.65"/>
<circle cx="53.68" cy="292.39" r="1.6" fill="none" stroke="#c9c9c9" stroke-width="0.65"/>
<circle cx="93.50" cy="214.50" r="1.6" fill="none" stroke="#c9c9c9" stroke-width="0.65"/>
<circle cx="95.07" cy="278.50" r="1.6" fill="none" stroke="#c9c9c9" stroke-width="0.65"/>
<circle cx="94.25" cy="253.48" r="1.6" fill="none" stroke="#c9c9c9" stroke-width="0.65"/>
<circle cx="91.88" cy="261.45" r="1.6" fill="none" stroke="#c9c9c9" stroke-width="0.65"/>
<circle cx="94.67" cy="273.50" r="1.6" fill="none" stroke="#c9c9c9" stroke-width="0.65"/>
<circle cx="92.39" cy="256.86" r="1.6" fill="none" stroke="#c9c9c9" stroke-width="0.65"/>
<circle cx="94.82" cy="270.47" r="1.6" fill="none" stroke="#c9c9c9" stroke-width="0.65"/>
<circle cx="92.33" cy="252.59" r="1.6" fill="none" stroke="#c9c9c9" stroke-width="0.65"/>
<circle cx="95.18" cy="281.17" r="1.6" fill="none" stroke="#c9c9c9" stroke-width="0.65"/>
<circle cx="92.56" cy="239.86" r="1.6" fill="none" stroke="#c9c9c9" stroke-width="0.65"/>
<circle cx="94.34" cy="254.95" r="1.6" fill="none" stroke="#c9c9c9" stroke-width="0.65"/>
<circle cx="92.34" cy="239.90" r="1.6" fill="none" stroke="#c9c9c9" stroke-width="0.65"/>
<circle cx="92.38" cy="241.62" r="1.6" fill="none" stroke="#c9c9c9" stroke-width="0.65"/>
<circle cx="94.23" cy="269.65" r="1.6" fill="none" stroke="#c9c9c9" stroke-width="0.65"/>
</g>
<rect x="31.60" y="188.30" width="119.70" height="117.00" fill="none" stroke="#231f20" stroke-width="0.9"/>
<line x1="45.20" y1="305.30" x2="45.20" y2="301.80" stroke="#231f20" stroke-width="0.9" />
<text x="45.20" y="318.60" font-size="10.9" text-anchor="middle" font-weight="normal" fill="#231f20" stroke="#231f20" stroke-width="0.2" >1480</text>
<line x1="91.75" y1="305.30" x2="91.75" y2="301.80" stroke="#231f20" stroke-width="0.9" />
<text x="91.75" y="318.60" font-size="10.9" text-anchor="middle" font-weight="normal" fill="#231f20" stroke="#231f20" stroke-width="0.2" >1490</text>
<line x1="138.30" y1="305.30" x2="138.30" y2="301.80" stroke="#231f20" stroke-width="0.9" />
<text x="138.30" y="318.60" font-size="10.9" text-anchor="middle" font-weight="normal" fill="#231f20" stroke="#231f20" stroke-width="0.2" >1500</text>
<line x1="68.48" y1="305.30" x2="68.48" y2="303.40" stroke="#231f20" stroke-width="0.9" />
<line x1="115.03" y1="305.30" x2="115.03" y2="303.40" stroke="#231f20" stroke-width="0.9" />
<line x1="31.60" y1="198.70" x2="35.10" y2="198.70" stroke="#231f20" stroke-width="0.9" />
<text x="26.60" y="202.50" font-size="10.9" text-anchor="end" font-weight="normal" fill="#231f20" stroke="#231f20" stroke-width="0.2" >1</text>
<line x1="31.60" y1="298.00" x2="35.10" y2="298.00" stroke="#231f20" stroke-width="0.9" />
<text x="26.60" y="301.80" font-size="10.9" text-anchor="end" font-weight="normal" fill="#231f20" stroke="#231f20" stroke-width="0.2" >0</text>
<line x1="31.60" y1="251.20" x2="33.50" y2="251.20" stroke="#231f20" stroke-width="0.9" />
<path d="M32.10,298.17 L32.70,298.17 L33.29,298.17 L33.89,298.17 L34.49,298.16 L35.08,298.16 L35.68,298.16 L36.28,298.16 L36.87,298.16 L37.47,298.16 L38.06,298.16 L38.66,298.16 L39.26,298.16 L39.85,298.16 L40.45,298.16 L41.05,298.16 L41.64,298.15 L42.24,298.15 L42.84,298.15 L43.43,298.15 L44.03,298.15 L44.63,298.15 L45.22,298.15 L45.82,298.15 L46.42,298.14 L47.01,298.14 L47.61,298.14 L48.21,298.14 L48.80,298.14 L49.40,298.14 L49.99,298.14 L50.59,298.13 L51.19,298.13 L51.19,298.13 L51.78,298.13 L52.38,298.13 L52.98,298.13 L53.57,298.12 L54.17,298.12 L54.77,298.12 L55.36,298.12 L55.96,298.11 L56.56,298.11 L57.15,298.11 L57.75,298.10 L58.35,298.10 L58.94,298.10 L59.54,298.09 L60.13,298.09 L60.73,298.09 L61.33,298.08 L61.92,298.08 L62.52,298.07 L63.12,298.07 L63.71,298.06 L64.31,298.06 L64.91,298.05 L65.50,298.04 L66.10,298.04 L66.70,298.03 L67.29,298.02 L67.89,298.01 L68.49,298.00 L69.08,297.99 L69.68,297.98 L70.27,297.97 L70.87,297.96 L71.47,297.94 L72.06,297.93 L72.21,297.93 L72.66,297.91 L73.26,297.90 L73.85,297.88 L74.45,297.86 L75.05,297.83 L75.64,297.81 L76.24,297.78 L76.84,297.75 L77.43,297.72 L78.03,297.68 L78.63,297.63 L79.22,297.58 L79.22,297.58 L79.82,297.53 L80.42,297.47 L81.01,297.39 L81.61,297.31 L82.20,297.21 L82.73,297.11 L82.80,297.09 L83.40,296.96 L83.99,296.79 L84.59,296.59 L84.84,296.50 L85.19,296.35 L85.78,296.05 L86.25,295.75 L86.38,295.66 L86.98,295.17 L87.26,294.88 L87.57,294.52 L88.02,293.88 L88.17,293.64 L88.62,292.75 L88.77,292.40 L89.09,291.50 L89.36,290.61 L89.49,290.13 L89.81,288.65 L89.96,287.87 L90.09,287.06 L90.33,285.36 L90.54,283.56 L90.56,283.45 L90.73,281.66 L90.89,279.67 L91.04,277.59 L91.15,275.81 L91.17,275.43 L91.29,273.20 L91.40,270.90 L91.51,268.54 L91.60,266.12 L91.69,263.65 L91.75,261.73 L91.77,261.14 L91.84,258.60 L91.91,256.02 L91.98,253.43 L92.04,250.82 L92.10,248.20 L92.16,245.58 L92.21,242.97 L92.26,240.38 L92.31,237.80 L92.34,235.88 L92.36,235.26 L92.40,232.75 L92.44,230.28 L92.49,227.86 L92.53,225.50 L92.56,223.20 L92.60,220.97 L92.64,218.81 L92.68,216.73 L92.71,214.74 L92.74,212.84 L92.78,211.04 L92.81,209.34 L92.84,207.75 L92.87,206.27 L92.91,204.90 L92.94,203.65 L92.94,203.44 L92.97,202.52 L93.00,201.52 L93.03,200.65 L93.06,199.90 L93.08,199.29 L93.11,198.82 L93.14,198.47 L93.17,198.27 L93.20,198.20 L93.23,198.27 L93.26,198.47 L93.29,198.82 L93.32,199.29 L93.34,199.90 L93.37,200.65 L93.40,201.52 L93.43,202.52 L93.46,203.65 L93.49,204.90 L93.53,206.27 L93.54,206.81 L93.56,207.75 L93.59,209.34 L93.62,211.04 L93.66,212.84 L93.69,214.74 L93.72,216.73 L93.76,218.81 L93.80,220.97 L93.84,223.20 L93.87,225.50 L93.91,227.86 L93.96,230.28 L94.00,232.75 L94.04,235.26 L94.09,237.80 L94.13,240.10 L94.14,240.38 L94.19,242.97 L94.24,245.58 L94.30,248.20 L94.36,250.82 L94.42,253.43 L94.49,256.02 L94.56,258.60 L94.63,261.14 L94.71,263.65 L94.73,264.14 L94.80,266.12 L94.89,268.54 L95.00,270.90 L95.11,273.20 L95.23,275.43 L95.33,277.10 L95.36,277.59 L95.51,279.67 L95.67,281.66 L95.86,283.56 L95.92,284.18 L96.07,285.36 L96.31,287.06 L96.52,288.31 L96.59,288.65 L96.91,290.13 L97.12,290.89 L97.31,291.50 L97.71,292.59 L97.78,292.75 L98.31,293.77 L98.38,293.88 L98.91,294.62 L99.14,294.88 L99.50,295.24 L100.10,295.72 L100.15,295.75 L100.70,296.09 L101.29,296.39 L101.56,296.50 L101.89,296.62 L102.48,296.82 L103.08,296.98 L103.67,297.11 L103.68,297.11 L104.27,297.22 L104.87,297.32 L105.47,297.40 L106.06,297.47 L106.66,297.54 L107.18,297.58 L107.26,297.59 L107.85,297.64 L108.45,297.68 L109.05,297.72 L109.64,297.75 L110.24,297.78 L110.84,297.81 L111.43,297.84 L112.03,297.86 L112.63,297.88 L113.22,297.90 L113.82,297.92 L114.19,297.93 L114.41,297.93 L115.01,297.95 L115.61,297.96 L116.20,297.97 L116.80,297.98 L117.40,297.99 L117.99,298.00 L118.59,298.01 L119.19,298.02 L119.78,298.03 L120.38,298.04 L120.98,298.04 L121.57,298.05 L122.17,298.06 L122.77,298.06 L123.36,298.07 L123.96,298.07 L124.55,298.08 L125.15,298.08 L125.75,298.09 L126.34,298.09 L126.94,298.09 L127.54,298.10 L128.13,298.10 L128.73,298.10 L129.33,298.11 L129.92,298.11 L130.52,298.11 L131.12,298.12 L131.71,298.12 L132.31,298.12 L132.91,298.12 L133.50,298.13 L134.10,298.13 L134.69,298.13 L135.21,298.13 L135.29,298.13 L135.89,298.13 L136.48,298.14 L137.08,298.14 L137.68,298.14 L138.27,298.14 L138.87,298.14 L139.47,298.14 L140.06,298.14 L140.66,298.15 L141.26,298.15 L141.85,298.15 L142.45,298.15 L143.05,298.15 L143.64,298.15 L144.24,298.15 L144.84,298.15 L145.43,298.16 L146.03,298.16 L146.62,298.16 L147.22,298.16 L147.82,298.16 L148.41,298.16 L149.01,298.16 L149.61,298.16 L150.20,298.16 L150.80,298.16" fill="none" stroke="#231f20" stroke-width="1.1" stroke-linejoin="round" />
<text x="43.20" y="207.20" font-size="9.9" text-anchor="start" font-weight="normal" fill="#231f20" stroke="#231f20" stroke-width="0.2" >scLPs</text>
<line x1="77.00" y1="248.80" x2="86.00" y2="248.80" stroke="#555" stroke-width="0.9" />
<path d="M84.5,246.3 L89.2,248.8 L84.5,251.3 Z" fill="#555"/>
<line x1="111.20" y1="248.80" x2="101.50" y2="248.80" stroke="#555" stroke-width="0.9" />
<path d="M103,246.3 L98.3,248.8 L103,251.3 Z" fill="#555"/>
<text x="104.00" y="242.20" font-size="10.2" text-anchor="start" font-weight="normal" fill="#555" stroke="#555" stroke-width="0.2" >0.25 nm</text>
<text x="91.60" y="336.90" font-size="11.7" text-anchor="middle" font-weight="normal" fill="#231f20" stroke="#231f20" stroke-width="0.2" >Wavelength (nm)</text>
<text x="0" y="0" font-size="11.7" text-anchor="middle" fill="#231f20" stroke="#231f20" stroke-width="0.2" transform="translate(9.10,247.20) rotate(-90)">Intensity (a.u.)</text>
<rect x="213.50" y="188.30" width="145.10" height="116.70" fill="none" stroke="#231f20" stroke-width="0.9"/>
<line x1="233.33" y1="305.00" x2="233.33" y2="301.50" stroke="#231f20" stroke-width="0.9" />
<text x="233.33" y="318.60" font-size="10.9" text-anchor="middle" font-weight="normal" fill="#231f20" stroke="#231f20" stroke-width="0.2" >5</text>
<line x1="265.47" y1="305.00" x2="265.47" y2="301.50" stroke="#231f20" stroke-width="0.9" />
<text x="265.47" y="318.60" font-size="10.9" text-anchor="middle" font-weight="normal" fill="#231f20" stroke="#231f20" stroke-width="0.2" >10</text>
<line x1="297.61" y1="305.00" x2="297.61" y2="301.50" stroke="#231f20" stroke-width="0.9" />
<text x="297.61" y="318.60" font-size="10.9" text-anchor="middle" font-weight="normal" fill="#231f20" stroke="#231f20" stroke-width="0.2" >15</text>
<line x1="329.74" y1="305.00" x2="329.74" y2="301.50" stroke="#231f20" stroke-width="0.9" />
<text x="329.74" y="318.60" font-size="10.9" text-anchor="middle" font-weight="normal" fill="#231f20" stroke="#231f20" stroke-width="0.2" >20</text>
<line x1="217.27" y1="305.00" x2="217.27" y2="303.10" stroke="#231f20" stroke-width="0.9" />
<line x1="249.40" y1="305.00" x2="249.40" y2="303.10" stroke="#231f20" stroke-width="0.9" />
<line x1="281.54" y1="305.00" x2="281.54" y2="303.10" stroke="#231f20" stroke-width="0.9" />
<line x1="313.67" y1="305.00" x2="313.67" y2="303.10" stroke="#231f20" stroke-width="0.9" />
<line x1="345.81" y1="305.00" x2="345.81" y2="303.10" stroke="#231f20" stroke-width="0.9" />
<line x1="213.50" y1="293.60" x2="217.00" y2="293.60" stroke="#231f20" stroke-width="0.9" />
<text x="207.60" y="297.30" font-size="10.9" text-anchor="end" font-weight="normal" fill="#231f20" stroke="#231f20" stroke-width="0.2" >0</text>
<line x1="213.50" y1="251.60" x2="217.00" y2="251.60" stroke="#231f20" stroke-width="0.9" />
<text x="207.60" y="255.30" font-size="10.9" text-anchor="end" font-weight="normal" fill="#231f20" stroke="#231f20" stroke-width="0.2" >20</text>
<line x1="213.50" y1="209.60" x2="217.00" y2="209.60" stroke="#231f20" stroke-width="0.9" />
<text x="207.60" y="213.30" font-size="10.9" text-anchor="end" font-weight="normal" fill="#231f20" stroke="#231f20" stroke-width="0.2" >40</text>
<line x1="213.50" y1="272.60" x2="215.40" y2="272.60" stroke="#231f20" stroke-width="0.9" />
<line x1="213.50" y1="230.60" x2="215.40" y2="230.60" stroke="#231f20" stroke-width="0.9" />
<clipPath id="clipd"><rect x="213.5" y="188.3" width="145.1" height="116.7"/></clipPath>
<g clip-path="url(#clipd)">
<path d="M214.00,293.60 L217.71,293.60 L221.42,293.60 L225.12,293.60 L228.83,293.60 L232.54,293.60 L236.25,293.56 L239.95,292.88 L243.66,292.15 L247.37,291.41 L251.08,290.65 L254.78,289.89 L258.49,289.12 L262.20,288.34 L265.91,287.55 L269.62,286.76 L273.32,285.97 L277.03,285.17 L280.74,284.37 L284.45,283.57 L288.15,282.76 L291.86,281.95 L295.57,281.13 L299.28,280.32 L302.98,279.50 L306.69,278.68 L310.40,277.86 L314.11,277.03 L317.82,276.20 L321.52,275.38 L325.23,274.55 L328.94,273.71 L332.65,272.88 L336.35,272.04 L340.06,271.21 L343.77,270.37 L347.48,269.53 L351.18,268.69 L354.89,267.84 L358.60,267.00" fill="none" stroke="#6d6d6d" stroke-width="0.8" stroke-linejoin="round" />
<path d="M214.00,293.60 L217.71,293.60 L221.42,293.60 L225.12,293.60 L228.83,293.60 L232.54,293.60 L236.25,293.58 L239.95,293.23 L243.66,292.85 L247.37,292.46 L251.08,292.07 L254.78,291.67 L258.49,291.27 L262.20,290.87 L265.91,290.46 L269.62,290.05 L273.32,289.64 L277.03,289.23 L280.74,288.81 L284.45,288.39 L288.15,287.98 L291.86,287.55 L295.57,287.13 L299.28,286.71 L302.98,286.28 L306.69,285.86 L310.40,285.43 L314.11,285.00 L317.82,284.58 L321.52,284.15 L325.23,283.71 L328.94,283.28 L332.65,282.85 L336.35,282.42 L340.06,281.98 L343.77,281.55 L347.48,281.11 L351.18,280.68 L354.89,280.24 L358.60,279.80" fill="none" stroke="#6d6d6d" stroke-width="0.8" stroke-linejoin="round" />
<path d="M214.00,293.60 L217.71,293.60 L221.42,293.60 L225.12,293.60 L228.83,293.60 L232.54,293.60 L236.25,293.59 L239.95,293.43 L243.66,293.26 L247.37,293.09 L251.08,292.91 L254.78,292.74 L258.49,292.56 L262.20,292.37 L265.91,292.19 L269.62,292.01 L273.32,291.82 L277.03,291.64 L280.74,291.45 L284.45,291.26 L288.15,291.07 L291.86,290.88 L295.57,290.69 L299.28,290.50 L302.98,290.31 L306.69,290.12 L310.40,289.93 L314.11,289.74 L317.82,289.55 L321.52,289.35 L325.23,289.16 L328.94,288.96 L332.65,288.77 L336.35,288.58 L340.06,288.38 L343.77,288.19 L347.48,287.99 L351.18,287.79 L354.89,287.60 L358.60,287.40" fill="none" stroke="#6d6d6d" stroke-width="0.8" stroke-linejoin="round" />
<path d="M214.00,293.60 L225.00,293.40 L233.00,293.00 L237.00,292.00 L240.00,289.50 L243.00,283.00 L246.00,274.00 L248.50,267.00 L252.00,256.00 L255.00,244.00 L256.80,236.00 L260.00,218.00 L263.00,202.00 L266.20,188.00" fill="none" stroke="#111" stroke-width="1.05" stroke-linejoin="round" />
<path d="M214.00,293.60 L228.00,293.30 L236.00,292.50 L240.00,290.50 L243.00,286.50 L245.50,281.00 L248.00,276.00 L250.50,270.00 L255.60,258.60 L260.70,249.40 L264.80,238.20 L270.00,222.00 L275.00,203.00 L279.00,188.00" fill="none" stroke="#111" stroke-width="1.05" stroke-linejoin="round" />
<path d="M214.00,293.60 L228.00,293.30 L236.00,292.30 L240.00,290.00 L243.00,286.00 L245.40,283.00 L248.00,276.50 L251.50,268.80 L257.70,258.60 L262.80,248.40 L267.90,238.20 L274.00,224.00 L282.00,206.00 L290.00,188.00" fill="none" stroke="#111" stroke-width="1.05" stroke-linejoin="round" />
</g>
<text x="298.60" y="207.60" font-size="9.9" text-anchor="start" font-weight="normal" fill="#231f20" stroke="#231f20" stroke-width="0.2" >scLPs</text>
<text x="302.40" y="271.80" font-size="9.9" text-anchor="start" font-weight="normal" fill="#777" stroke="#777" stroke-width="0.2" >cLPs</text>
<text x="286.40" y="336.90" font-size="11.7" text-anchor="middle" font-weight="normal" fill="#231f20" stroke="#231f20" stroke-width="0.2" >Pump energy (pJ)</text>
<text x="0" y="0" font-size="11.7" text-anchor="middle" fill="#231f20" stroke="#231f20" stroke-width="0.2" transform="translate(183.30,246.60) rotate(-90)">Intensity (a.u.)</text>
<rect x="427.70" y="13.30" width="133.90" height="169.80" fill="none" stroke="#231f20" stroke-width="0.9"/>
<line x1="434.20" y1="183.10" x2="434.20" y2="178.90" stroke="#231f20" stroke-width="0.9" />
<text x="434.20" y="197.90" font-size="10.9" text-anchor="middle" font-weight="normal" fill="#231f20" stroke="#231f20" stroke-width="0.2" >0</text>
<line x1="474.60" y1="183.10" x2="474.60" y2="178.90" stroke="#231f20" stroke-width="0.9" />
<text x="474.60" y="197.90" font-size="10.9" text-anchor="middle" font-weight="normal" fill="#231f20" stroke="#231f20" stroke-width="0.2" >30</text>
<line x1="515.00" y1="183.10" x2="515.00" y2="178.90" stroke="#231f20" stroke-width="0.9" />
<text x="515.00" y="197.90" font-size="10.9" text-anchor="middle" font-weight="normal" fill="#231f20" stroke="#231f20" stroke-width="0.2" >60</text>
<line x1="555.40" y1="183.10" x2="555.40" y2="178.90" stroke="#231f20" stroke-width="0.9" />
<text x="555.40" y="197.90" font-size="10.9" text-anchor="middle" font-weight="normal" fill="#231f20" stroke="#231f20" stroke-width="0.2" >90</text>
<line x1="427.70" y1="13.30" x2="432.10" y2="13.30" stroke="#231f20" stroke-width="0.9" />
<text x="422.00" y="17.30" font-size="10.9" text-anchor="end" font-weight="normal" fill="#231f20" stroke="#231f20" stroke-width="0.2" >1</text>
<line x1="427.70" y1="69.90" x2="432.10" y2="69.90" stroke="#231f20" stroke-width="0.9" />
<text x="422.00" y="73.50" font-size="11.200000000000001" text-anchor="end" fill="#231f20" stroke="#231f20" stroke-width="0.2">10<tspan font-size="7.6" dy="-4.9">−1</tspan></text>
<line x1="427.70" y1="126.50" x2="432.10" y2="126.50" stroke="#231f20" stroke-width="0.9" />
<text x="422.00" y="130.10" font-size="11.200000000000001" text-anchor="end" fill="#231f20" stroke="#231f20" stroke-width="0.2">10<tspan font-size="7.6" dy="-4.9">−2</tspan></text>
<line x1="427.70" y1="183.10" x2="432.10" y2="183.10" stroke="#231f20" stroke-width="0.9" />
<text x="422.00" y="186.70" font-size="11.200000000000001" text-anchor="end" fill="#231f20" stroke="#231f20" stroke-width="0.2">10<tspan font-size="7.6" dy="-4.9">−3</tspan></text>
<line x1="427.70" y1="166.06" x2="429.60" y2="166.06" stroke="#231f20" stroke-width="0.9" />
<line x1="427.70" y1="156.09" x2="429.60" y2="156.09" stroke="#231f20" stroke-width="0.9" />
<line x1="427.70" y1="149.02" x2="429.60" y2="149.02" stroke="#231f20" stroke-width="0.9" />
<line x1="427.70" y1="143.54" x2="429.60" y2="143.54" stroke="#231f20" stroke-width="0.9" />
<line x1="427.70" y1="139.06" x2="429.60" y2="139.06" stroke="#231f20" stroke-width="0.9" />
<line x1="427.70" y1="135.27" x2="429.60" y2="135.27" stroke="#231f20" stroke-width="0.9" />
<line x1="427.70" y1="131.99" x2="429.60" y2="131.99" stroke="#231f20" stroke-width="0.9" />
<line x1="427.70" y1="129.09" x2="429.60" y2="129.09" stroke="#231f20" stroke-width="0.9" />
<line x1="427.70" y1="109.46" x2="429.60" y2="109.46" stroke="#231f20" stroke-width="0.9" />
<line x1="427.70" y1="99.49" x2="429.60" y2="99.49" stroke="#231f20" stroke-width="0.9" />
<line x1="427.70" y1="92.42" x2="429.60" y2="92.42" stroke="#231f20" stroke-width="0.9" />
<line x1="427.70" y1="86.94" x2="429.60" y2="86.94" stroke="#231f20" stroke-width="0.9" />
<line x1="427.70" y1="82.46" x2="429.60" y2="82.46" stroke="#231f20" stroke-width="0.9" />
<line x1="427.70" y1="78.67" x2="429.60" y2="78.67" stroke="#231f20" stroke-width="0.9" />
<line x1="427.70" y1="75.39" x2="429.60" y2="75.39" stroke="#231f20" stroke-width="0.9" />
<line x1="427.70" y1="72.49" x2="429.60" y2="72.49" stroke="#231f20" stroke-width="0.9" />
<line x1="427.70" y1="52.86" x2="429.60" y2="52.86" stroke="#231f20" stroke-width="0.9" />
<line x1="427.70" y1="42.89" x2="429.60" y2="42.89" stroke="#231f20" stroke-width="0.9" />
<line x1="427.70" y1="35.82" x2="429.60" y2="35.82" stroke="#231f20" stroke-width="0.9" />
<line x1="427.70" y1="30.34" x2="429.60" y2="30.34" stroke="#231f20" stroke-width="0.9" />
<line x1="427.70" y1="25.86" x2="429.60" y2="25.86" stroke="#231f20" stroke-width="0.9" />
<line x1="427.70" y1="22.07" x2="429.60" y2="22.07" stroke="#231f20" stroke-width="0.9" />
<line x1="427.70" y1="18.79" x2="429.60" y2="18.79" stroke="#231f20" stroke-width="0.9" />
<line x1="427.70" y1="15.89" x2="429.60" y2="15.89" stroke="#231f20" stroke-width="0.9" />
<rect x="631.40" y="13.30" width="134.10" height="170.00" fill="none" stroke="#231f20" stroke-width="0.9"/>
<line x1="638.50" y1="183.30" x2="638.50" y2="179.10" stroke="#231f20" stroke-width="0.9" />
<text x="638.50" y="197.90" font-size="10.9" text-anchor="middle" font-weight="normal" fill="#231f20" stroke="#231f20" stroke-width="0.2" >0</text>
<line x1="678.57" y1="183.30" x2="678.57" y2="179.10" stroke="#231f20" stroke-width="0.9" />
<text x="678.57" y="197.90" font-size="10.9" text-anchor="middle" font-weight="normal" fill="#231f20" stroke="#231f20" stroke-width="0.2" >30</text>
<line x1="718.64" y1="183.30" x2="718.64" y2="179.10" stroke="#231f20" stroke-width="0.9" />
<text x="718.64" y="197.90" font-size="10.9" text-anchor="middle" font-weight="normal" fill="#231f20" stroke="#231f20" stroke-width="0.2" >60</text>
<line x1="758.70" y1="183.30" x2="758.70" y2="179.10" stroke="#231f20" stroke-width="0.9" />
<text x="758.70" y="197.90" font-size="10.9" text-anchor="middle" font-weight="normal" fill="#231f20" stroke="#231f20" stroke-width="0.2" >90</text>
<line x1="631.40" y1="13.30" x2="635.80" y2="13.30" stroke="#231f20" stroke-width="0.9" />
<text x="625.60" y="17.30" font-size="10.9" text-anchor="end" font-weight="normal" fill="#231f20" stroke="#231f20" stroke-width="0.2" >1</text>
<line x1="631.40" y1="69.90" x2="635.80" y2="69.90" stroke="#231f20" stroke-width="0.9" />
<text x="625.60" y="73.50" font-size="11.200000000000001" text-anchor="end" fill="#231f20" stroke="#231f20" stroke-width="0.2">10<tspan font-size="7.6" dy="-4.9">−1</tspan></text>
<line x1="631.40" y1="126.50" x2="635.80" y2="126.50" stroke="#231f20" stroke-width="0.9" />
<text x="625.60" y="130.10" font-size="11.200000000000001" text-anchor="end" fill="#231f20" stroke="#231f20" stroke-width="0.2">10<tspan font-size="7.6" dy="-4.9">−2</tspan></text>
<line x1="631.40" y1="183.10" x2="635.80" y2="183.10" stroke="#231f20" stroke-width="0.9" />
<text x="625.60" y="186.70" font-size="11.200000000000001" text-anchor="end" fill="#231f20" stroke="#231f20" stroke-width="0.2">10<tspan font-size="7.6" dy="-4.9">−3</tspan></text>
<line x1="631.40" y1="166.06" x2="633.30" y2="166.06" stroke="#231f20" stroke-width="0.9" />
<line x1="631.40" y1="156.09" x2="633.30" y2="156.09" stroke="#231f20" stroke-width="0.9" />
<line x1="631.40" y1="149.02" x2="633.30" y2="149.02" stroke="#231f20" stroke-width="0.9" />
<line x1="631.40" y1="143.54" x2="633.30" y2="143.54" stroke="#231f20" stroke-width="0.9" />
<line x1="631.40" y1="139.06" x2="633.30" y2="139.06" stroke="#231f20" stroke-width="0.9" />
<line x1="631.40" y1="135.27" x2="633.30" y2="135.27" stroke="#231f20" stroke-width="0.9" />
<line x1="631.40" y1="131.99" x2="633.30" y2="131.99" stroke="#231f20" stroke-width="0.9" />
<line x1="631.40" y1="129.09" x2="633.30" y2="129.09" stroke="#231f20" stroke-width="0.9" />
<line x1="631.40" y1="109.46" x2="633.30" y2="109.46" stroke="#231f20" stroke-width="0.9" />
<line x1="631.40" y1="99.49" x2="633.30" y2="99.49" stroke="#231f20" stroke-width="0.9" />
<line x1="631.40" y1="92.42" x2="633.30" y2="92.42" stroke="#231f20" stroke-width="0.9" />
<line x1="631.40" y1="86.94" x2="633.30" y2="86.94" stroke="#231f20" stroke-width="0.9" />
<line x1="631.40" y1="82.46" x2="633.30" y2="82.46" stroke="#231f20" stroke-width="0.9" />
<line x1="631.40" y1="78.67" x2="633.30" y2="78.67" stroke="#231f20" stroke-width="0.9" />
<line x1="631.40" y1="75.39" x2="633.30" y2="75.39" stroke="#231f20" stroke-width="0.9" />
<line x1="631.40" y1="72.49" x2="633.30" y2="72.49" stroke="#231f20" stroke-width="0.9" />
<line x1="631.40" y1="52.86" x2="633.30" y2="52.86" stroke="#231f20" stroke-width="0.9" />
<line x1="631.40" y1="42.89" x2="633.30" y2="42.89" stroke="#231f20" stroke-width="0.9" />
<line x1="631.40" y1="35.82" x2="633.30" y2="35.82" stroke="#231f20" stroke-width="0.9" />
<line x1="631.40" y1="30.34" x2="633.30" y2="30.34" stroke="#231f20" stroke-width="0.9" />
<line x1="631.40" y1="25.86" x2="633.30" y2="25.86" stroke="#231f20" stroke-width="0.9" />
<line x1="631.40" y1="22.07" x2="633.30" y2="22.07" stroke="#231f20" stroke-width="0.9" />
<line x1="631.40" y1="18.79" x2="633.30" y2="18.79" stroke="#231f20" stroke-width="0.9" />
<line x1="631.40" y1="15.89" x2="633.30" y2="15.89" stroke="#231f20" stroke-width="0.9" />
<circle cx="548.20" cy="31.00" r="2.6" fill="none" stroke="#3a3a3a" stroke-width="0.85"/>
<circle cx="512.30" cy="38.10" r="2.6" fill="none" stroke="#3a3a3a" stroke-width="0.85"/>
<circle cx="525.40" cy="34.90" r="2.6" fill="none" stroke="#3a3a3a" stroke-width="0.85"/>
<circle cx="533.80" cy="38.30" r="2.6" fill="none" stroke="#3a3a3a" stroke-width="0.85"/>
<circle cx="523.30" cy="40.20" r="2.6" fill="none" stroke="#3a3a3a" stroke-width="0.85"/>
<circle cx="515.50" cy="44.10" r="2.6" fill="none" stroke="#3a3a3a" stroke-width="0.85"/>
<circle cx="539.80" cy="41.50" r="2.6" fill="none" stroke="#3a3a3a" stroke-width="0.85"/>
<circle cx="552.20" cy="39.40" r="2.6" fill="none" stroke="#3a3a3a" stroke-width="0.85"/>
<circle cx="555.30" cy="41.50" r="2.6" fill="none" stroke="#3a3a3a" stroke-width="0.85"/>
<circle cx="550.90" cy="49.90" r="2.6" fill="none" stroke="#3a3a3a" stroke-width="0.85"/>
<circle cx="521.20" cy="50.10" r="2.6" fill="none" stroke="#3a3a3a" stroke-width="0.85"/>
<circle cx="508.40" cy="51.20" r="2.6" fill="none" stroke="#3a3a3a" stroke-width="0.85"/>
<circle cx="510.70" cy="53.80" r="2.6" fill="none" stroke="#3a3a3a" stroke-width="0.85"/>
<circle cx="531.70" cy="52.70" r="2.6" fill="none" stroke="#3a3a3a" stroke-width="0.85"/>
<circle cx="539.80" cy="54.60" r="2.6" fill="none" stroke="#3a3a3a" stroke-width="0.85"/>
<circle cx="498.40" cy="57.20" r="2.6" fill="none" stroke="#3a3a3a" stroke-width="0.85"/>
<circle cx="522.50" cy="59.00" r="2.6" fill="none" stroke="#3a3a3a" stroke-width="0.85"/>
<circle cx="537.70" cy="58.50" r="2.6" fill="none" stroke="#3a3a3a" stroke-width="0.85"/>
<circle cx="544.80" cy="59.80" r="2.6" fill="none" stroke="#3a3a3a" stroke-width="0.85"/>
<circle cx="541.70" cy="64.30" r="2.6" fill="none" stroke="#3a3a3a" stroke-width="0.85"/>
<circle cx="502.30" cy="64.50" r="2.6" fill="none" stroke="#3a3a3a" stroke-width="0.85"/>
<circle cx="510.20" cy="63.70" r="2.6" fill="none" stroke="#3a3a3a" stroke-width="0.85"/>
<circle cx="514.70" cy="65.80" r="2.6" fill="none" stroke="#3a3a3a" stroke-width="0.85"/>
<circle cx="483.20" cy="67.20" r="2.6" fill="none" stroke="#3a3a3a" stroke-width="0.85"/>
<circle cx="494.00" cy="68.50" r="2.6" fill="none" stroke="#3a3a3a" stroke-width="0.85"/>
<circle cx="490.50" cy="69.80" r="2.6" fill="none" stroke="#3a3a3a" stroke-width="0.85"/>
<circle cx="503.70" cy="68.20" r="2.6" fill="none" stroke="#3a3a3a" stroke-width="0.85"/>
<circle cx="506.80" cy="70.80" r="2.6" fill="none" stroke="#3a3a3a" stroke-width="0.85"/>
<circle cx="510.20" cy="72.90" r="2.6" fill="none" stroke="#3a3a3a" stroke-width="0.85"/>
<circle cx="530.70" cy="67.20" r="2.6" fill="none" stroke="#3a3a3a" stroke-width="0.85"/>
<circle cx="531.20" cy="73.70" r="2.6" fill="none" stroke="#3a3a3a" stroke-width="0.85"/>
<circle cx="491.90" cy="74.20" r="2.6" fill="none" stroke="#3a3a3a" stroke-width="0.85"/>
<circle cx="489.20" cy="76.30" r="2.6" fill="none" stroke="#3a3a3a" stroke-width="0.85"/>
<circle cx="493.70" cy="79.50" r="2.6" fill="none" stroke="#3a3a3a" stroke-width="0.85"/>
<circle cx="506.30" cy="75.50" r="2.6" fill="none" stroke="#3a3a3a" stroke-width="0.85"/>
<circle cx="480.80" cy="80.30" r="2.6" fill="none" stroke="#3a3a3a" stroke-width="0.85"/>
<circle cx="486.10" cy="82.60" r="2.6" fill="none" stroke="#3a3a3a" stroke-width="0.85"/>
<circle cx="491.10" cy="83.40" r="2.6" fill="none" stroke="#3a3a3a" stroke-width="0.85"/>
<circle cx="471.70" cy="90.50" r="2.6" fill="none" stroke="#3a3a3a" stroke-width="0.85"/>
<circle cx="494.50" cy="96.00" r="2.6" fill="none" stroke="#3a3a3a" stroke-width="0.85"/>
<circle cx="512.80" cy="95.20" r="2.6" fill="none" stroke="#3a3a3a" stroke-width="0.85"/>
<circle cx="469.00" cy="99.10" r="2.6" fill="none" stroke="#3a3a3a" stroke-width="0.85"/>
<circle cx="501.80" cy="105.80" r="2.6" fill="none" stroke="#3a3a3a" stroke-width="0.85"/>
<circle cx="499.90" cy="112.20" r="2.6" fill="none" stroke="#3a3a3a" stroke-width="0.85"/>
<circle cx="460.20" cy="113.60" r="2.6" fill="none" stroke="#3a3a3a" stroke-width="0.85"/>
<circle cx="460.20" cy="116.30" r="2.6" fill="none" stroke="#3a3a3a" stroke-width="0.85"/>
<circle cx="474.90" cy="115.00" r="2.6" fill="none" stroke="#3a3a3a" stroke-width="0.85"/>
<circle cx="460.20" cy="121.90" r="2.6" fill="none" stroke="#3a3a3a" stroke-width="0.85"/>
<circle cx="434.70" cy="124.70" r="2.6" fill="none" stroke="#3a3a3a" stroke-width="0.85"/>
<circle cx="450.80" cy="123.80" r="2.6" fill="none" stroke="#3a3a3a" stroke-width="0.85"/>
<circle cx="456.30" cy="128.30" r="2.6" fill="none" stroke="#3a3a3a" stroke-width="0.85"/>
<circle cx="458.30" cy="129.60" r="2.6" fill="none" stroke="#3a3a3a" stroke-width="0.85"/>
<circle cx="481.30" cy="131.00" r="2.6" fill="none" stroke="#3a3a3a" stroke-width="0.85"/>
<circle cx="467.40" cy="135.20" r="2.6" fill="none" stroke="#3a3a3a" stroke-width="0.85"/>
<circle cx="472.70" cy="142.70" r="2.6" fill="none" stroke="#3a3a3a" stroke-width="0.85"/>
<circle cx="474.10" cy="146.80" r="2.6" fill="none" stroke="#3a3a3a" stroke-width="0.85"/>
<circle cx="443.00" cy="149.60" r="2.6" fill="none" stroke="#3a3a3a" stroke-width="0.85"/>
<circle cx="463.30" cy="151.80" r="2.6" fill="none" stroke="#3a3a3a" stroke-width="0.85"/>
<circle cx="469.90" cy="155.70" r="2.6" fill="none" stroke="#3a3a3a" stroke-width="0.85"/>
<circle cx="468.00" cy="160.70" r="2.6" fill="none" stroke="#3a3a3a" stroke-width="0.85"/>
<circle cx="461.90" cy="164.90" r="2.6" fill="none" stroke="#3a3a3a" stroke-width="0.85"/>
<circle cx="472.70" cy="164.90" r="2.6" fill="none" stroke="#3a3a3a" stroke-width="0.85"/>
<circle cx="475.50" cy="164.30" r="2.6" fill="none" stroke="#3a3a3a" stroke-width="0.85"/>
<path d="M434.20,147.80 L435.42,147.84 L437.03,147.90 L438.96,147.97 L441.10,148.04 L443.37,148.13 L445.67,148.21 L447.91,148.31 L450.00,148.40 L452.05,148.51 L454.20,148.63 L456.38,148.77 L458.55,148.91 L460.65,149.04 L462.63,149.15 L464.43,149.24 L466.00,149.30 L467.32,149.33 L468.43,149.35 L469.37,149.36 L470.19,149.34 L470.92,149.30 L471.60,149.24 L472.28,149.14 L473.00,149.00 L473.73,148.83 L474.41,148.64 L475.07,148.43 L475.69,148.18 L476.29,147.90 L476.87,147.58 L477.44,147.21 L478.00,146.80 L478.55,146.35 L479.07,145.87 L479.57,145.35 L480.06,144.79 L480.54,144.19 L481.02,143.52 L481.51,142.79 L482.00,142.00 L482.49,141.15 L482.96,140.24 L483.43,139.28 L483.91,138.26 L484.39,137.18 L484.89,136.03 L485.43,134.80 L486.00,133.50 L486.60,132.13 L487.20,130.72 L487.83,129.24 L488.47,127.69 L489.16,126.05 L489.89,124.31 L490.66,122.47 L491.50,120.50 L492.43,118.32 L493.46,115.88 L494.57,113.29 L495.70,110.62 L496.83,107.98 L497.94,105.43 L498.97,103.08 L499.90,101.00 L500.70,99.25 L501.40,97.76 L502.03,96.45 L502.63,95.25 L503.23,94.08 L503.87,92.87 L504.58,91.53 L505.40,90.00 L506.32,88.30 L507.31,86.51 L508.35,84.65 L509.44,82.73 L510.57,80.74 L511.72,78.70 L512.90,76.62 L514.10,74.50 L515.33,72.28 L516.60,69.91 L517.91,67.45 L519.24,64.97 L520.58,62.51 L521.93,60.14 L523.28,57.92 L524.60,55.90 L525.91,54.06 L527.23,52.33 L528.54,50.71 L529.85,49.20 L531.16,47.79 L532.48,46.47 L533.79,45.24 L535.10,44.10 L536.42,43.06 L537.76,42.12 L539.09,41.29 L540.43,40.54 L541.76,39.88 L543.07,39.29 L544.35,38.77 L545.60,38.30 L546.88,37.91 L548.21,37.63 L549.55,37.43 L550.86,37.29 L552.08,37.19 L553.18,37.13 L554.10,37.07 L554.80,37.00" fill="none" stroke="#0aa85e" stroke-width="1.7" stroke-linejoin="round" />
<text x="440.00" y="34.10" font-size="10.2" text-anchor="start" font-weight="normal" fill="#231f20" stroke="#231f20" stroke-width="0.2" >cLPs</text>
<text x="0" y="0" font-size="9.9" fill="#0aa85e" stroke="#0aa85e" stroke-width="0.2" transform="translate(519.4,169.1) scale(1,1.09)"><tspan font-style="italic">s</tspan> = 0.02</text>
<text x="494.90" y="214.30" font-size="11.7" text-anchor="middle" font-weight="normal" fill="#231f20" stroke="#231f20" stroke-width="0.2" >Disk angle α (deg)</text>
<text x="0" y="0" font-size="11.7" text-anchor="middle" fill="#231f20" stroke="#231f20" stroke-width="0.2" transform="translate(390.50,97.80) rotate(-90)">Slope efficiency (a.u.)</text>
<circle cx="733.20" cy="20.50" r="2.45" fill="#e0e0e0" stroke="#5e5e5e" stroke-width="0.85"/>
<circle cx="735.80" cy="21.80" r="2.45" fill="#e0e0e0" stroke="#5e5e5e" stroke-width="0.85"/>
<circle cx="745.00" cy="29.70" r="2.45" fill="#e0e0e0" stroke="#5e5e5e" stroke-width="0.85"/>
<circle cx="722.40" cy="32.80" r="2.45" fill="#e0e0e0" stroke="#5e5e5e" stroke-width="0.85"/>
<circle cx="741.60" cy="33.60" r="2.45" fill="#e0e0e0" stroke="#5e5e5e" stroke-width="0.85"/>
<circle cx="719.30" cy="36.30" r="2.45" fill="#e0e0e0" stroke="#5e5e5e" stroke-width="0.85"/>
<circle cx="730.30" cy="37.00" r="2.45" fill="#e0e0e0" stroke="#5e5e5e" stroke-width="0.85"/>
<circle cx="720.00" cy="43.30" r="2.45" fill="#e0e0e0" stroke="#5e5e5e" stroke-width="0.85"/>
<circle cx="735.00" cy="43.60" r="2.45" fill="#e0e0e0" stroke="#5e5e5e" stroke-width="0.85"/>
<circle cx="742.40" cy="46.00" r="2.45" fill="#e0e0e0" stroke="#5e5e5e" stroke-width="0.85"/>
<circle cx="731.60" cy="47.50" r="2.45" fill="#e0e0e0" stroke="#5e5e5e" stroke-width="0.85"/>
<circle cx="738.40" cy="49.40" r="2.45" fill="#e0e0e0" stroke="#5e5e5e" stroke-width="0.85"/>
<circle cx="759.20" cy="49.40" r="2.45" fill="#e0e0e0" stroke="#5e5e5e" stroke-width="0.85"/>
<circle cx="719.30" cy="50.20" r="2.45" fill="#e0e0e0" stroke="#5e5e5e" stroke-width="0.85"/>
<circle cx="721.90" cy="51.50" r="2.45" fill="#e0e0e0" stroke="#5e5e5e" stroke-width="0.85"/>
<circle cx="706.90" cy="53.30" r="2.45" fill="#e0e0e0" stroke="#5e5e5e" stroke-width="0.85"/>
<circle cx="729.20" cy="54.60" r="2.45" fill="#e0e0e0" stroke="#5e5e5e" stroke-width="0.85"/>
<circle cx="699.60" cy="56.50" r="2.45" fill="#e0e0e0" stroke="#5e5e5e" stroke-width="0.85"/>
<circle cx="707.40" cy="58.00" r="2.45" fill="#e0e0e0" stroke="#5e5e5e" stroke-width="0.85"/>
<circle cx="715.30" cy="58.60" r="2.45" fill="#e0e0e0" stroke="#5e5e5e" stroke-width="0.85"/>
<circle cx="717.40" cy="59.40" r="2.45" fill="#e0e0e0" stroke="#5e5e5e" stroke-width="0.85"/>
<circle cx="723.70" cy="58.60" r="2.45" fill="#e0e0e0" stroke="#5e5e5e" stroke-width="0.85"/>
<circle cx="735.80" cy="58.60" r="2.45" fill="#e0e0e0" stroke="#5e5e5e" stroke-width="0.85"/>
<circle cx="755.50" cy="59.10" r="2.45" fill="#e0e0e0" stroke="#5e5e5e" stroke-width="0.85"/>
<circle cx="727.70" cy="61.20" r="2.45" fill="#e0e0e0" stroke="#5e5e5e" stroke-width="0.85"/>
<circle cx="659.40" cy="59.10" r="2.45" fill="#e0e0e0" stroke="#5e5e5e" stroke-width="0.85"/>
<circle cx="644.40" cy="62.00" r="2.45" fill="#e0e0e0" stroke="#5e5e5e" stroke-width="0.85"/>
<circle cx="744.70" cy="63.00" r="2.45" fill="#e0e0e0" stroke="#5e5e5e" stroke-width="0.85"/>
<circle cx="667.50" cy="65.70" r="2.45" fill="#e0e0e0" stroke="#5e5e5e" stroke-width="0.85"/>
<circle cx="710.60" cy="65.90" r="2.45" fill="#e0e0e0" stroke="#5e5e5e" stroke-width="0.85"/>
<circle cx="705.30" cy="68.30" r="2.45" fill="#e0e0e0" stroke="#5e5e5e" stroke-width="0.85"/>
<circle cx="694.30" cy="68.50" r="2.45" fill="#e0e0e0" stroke="#5e5e5e" stroke-width="0.85"/>
<circle cx="668.90" cy="71.70" r="2.45" fill="#e0e0e0" stroke="#5e5e5e" stroke-width="0.85"/>
<circle cx="729.80" cy="69.90" r="2.45" fill="#e0e0e0" stroke="#5e5e5e" stroke-width="0.85"/>
<circle cx="718.70" cy="71.20" r="2.45" fill="#e0e0e0" stroke="#5e5e5e" stroke-width="0.85"/>
<circle cx="708.80" cy="70.40" r="2.45" fill="#e0e0e0" stroke="#5e5e5e" stroke-width="0.85"/>
<circle cx="734.50" cy="73.00" r="2.45" fill="#e0e0e0" stroke="#5e5e5e" stroke-width="0.85"/>
<circle cx="718.70" cy="73.50" r="2.45" fill="#e0e0e0" stroke="#5e5e5e" stroke-width="0.85"/>
<circle cx="662.80" cy="74.30" r="2.45" fill="#e0e0e0" stroke="#5e5e5e" stroke-width="0.85"/>
<circle cx="672.00" cy="74.30" r="2.45" fill="#e0e0e0" stroke="#5e5e5e" stroke-width="0.85"/>
<circle cx="649.70" cy="77.00" r="2.45" fill="#e0e0e0" stroke="#5e5e5e" stroke-width="0.85"/>
<circle cx="679.90" cy="77.00" r="2.45" fill="#e0e0e0" stroke="#5e5e5e" stroke-width="0.85"/>
<circle cx="683.80" cy="77.00" r="2.45" fill="#e0e0e0" stroke="#5e5e5e" stroke-width="0.85"/>
<circle cx="682.50" cy="78.80" r="2.45" fill="#e0e0e0" stroke="#5e5e5e" stroke-width="0.85"/>
<circle cx="671.20" cy="79.60" r="2.45" fill="#e0e0e0" stroke="#5e5e5e" stroke-width="0.85"/>
<circle cx="704.80" cy="80.40" r="2.45" fill="#e0e0e0" stroke="#5e5e5e" stroke-width="0.85"/>
<circle cx="655.70" cy="83.50" r="2.45" fill="#e0e0e0" stroke="#5e5e5e" stroke-width="0.85"/>
<circle cx="666.80" cy="83.50" r="2.45" fill="#e0e0e0" stroke="#5e5e5e" stroke-width="0.85"/>
<circle cx="670.70" cy="86.10" r="2.45" fill="#e0e0e0" stroke="#5e5e5e" stroke-width="0.85"/>
<circle cx="674.60" cy="87.40" r="2.45" fill="#e0e0e0" stroke="#5e5e5e" stroke-width="0.85"/>
<circle cx="712.70" cy="83.00" r="2.45" fill="#e0e0e0" stroke="#5e5e5e" stroke-width="0.85"/>
<circle cx="736.30" cy="88.00" r="2.45" fill="#e0e0e0" stroke="#5e5e5e" stroke-width="0.85"/>
<circle cx="741.10" cy="88.80" r="2.45" fill="#e0e0e0" stroke="#5e5e5e" stroke-width="0.85"/>
<circle cx="746.30" cy="86.10" r="2.45" fill="#e0e0e0" stroke="#5e5e5e" stroke-width="0.85"/>
<circle cx="676.00" cy="90.10" r="2.45" fill="#e0e0e0" stroke="#5e5e5e" stroke-width="0.85"/>
<circle cx="681.20" cy="92.70" r="2.45" fill="#e0e0e0" stroke="#5e5e5e" stroke-width="0.85"/>
<circle cx="674.60" cy="94.00" r="2.45" fill="#e0e0e0" stroke="#5e5e5e" stroke-width="0.85"/>
<circle cx="658.40" cy="94.00" r="2.45" fill="#e0e0e0" stroke="#5e5e5e" stroke-width="0.85"/>
<circle cx="663.60" cy="94.00" r="2.45" fill="#e0e0e0" stroke="#5e5e5e" stroke-width="0.85"/>
<circle cx="638.40" cy="96.10" r="2.45" fill="#e0e0e0" stroke="#5e5e5e" stroke-width="0.85"/>
<circle cx="685.10" cy="96.60" r="2.45" fill="#e0e0e0" stroke="#5e5e5e" stroke-width="0.85"/>
<circle cx="713.50" cy="95.30" r="2.45" fill="#e0e0e0" stroke="#5e5e5e" stroke-width="0.85"/>
<circle cx="676.00" cy="96.60" r="2.45" fill="#e0e0e0" stroke="#5e5e5e" stroke-width="0.85"/>
<circle cx="652.80" cy="98.00" r="2.45" fill="#e0e0e0" stroke="#5e5e5e" stroke-width="0.85"/>
<circle cx="746.80" cy="98.70" r="2.45" fill="#e0e0e0" stroke="#5e5e5e" stroke-width="0.85"/>
<circle cx="662.80" cy="96.60" r="2.45" fill="#e0e0e0" stroke="#5e5e5e" stroke-width="0.85"/>
<circle cx="686.90" cy="100.80" r="2.45" fill="#e0e0e0" stroke="#5e5e5e" stroke-width="0.85"/>
<circle cx="675.80" cy="102.30" r="2.45" fill="#e0e0e0" stroke="#5e5e5e" stroke-width="0.85"/>
<circle cx="668.50" cy="103.70" r="2.45" fill="#e0e0e0" stroke="#5e5e5e" stroke-width="0.85"/>
<circle cx="664.40" cy="112.80" r="2.45" fill="#e0e0e0" stroke="#5e5e5e" stroke-width="0.85"/>
<circle cx="668.00" cy="122.70" r="2.45" fill="#e0e0e0" stroke="#5e5e5e" stroke-width="0.85"/>
<circle cx="681.10" cy="125.00" r="2.45" fill="#e0e0e0" stroke="#5e5e5e" stroke-width="0.85"/>
<circle cx="694.20" cy="90.90" r="2.45" fill="#e0e0e0" stroke="#5e5e5e" stroke-width="0.85"/>
<path d="M637.90,87.40 L639.77,87.51 L642.32,87.65 L645.36,87.83 L648.71,88.02 L652.18,88.22 L655.60,88.42 L658.76,88.62 L661.50,88.80 L663.87,88.97 L666.07,89.15 L668.13,89.32 L670.08,89.49 L671.94,89.66 L673.75,89.82 L675.53,89.97 L677.30,90.10 L679.07,90.23 L680.83,90.36 L682.54,90.49 L684.20,90.61 L685.79,90.70 L687.30,90.77 L688.71,90.81 L690.00,90.80 L691.16,90.76 L692.19,90.69 L693.11,90.59 L693.95,90.47 L694.74,90.31 L695.49,90.11 L696.24,89.88 L697.00,89.60 L697.75,89.28 L698.46,88.93 L699.14,88.55 L699.79,88.12 L700.44,87.66 L701.10,87.15 L701.78,86.60 L702.50,86.00 L703.22,85.39 L703.92,84.79 L704.62,84.16 L705.34,83.48 L706.09,82.72 L706.91,81.84 L707.81,80.81 L708.80,79.60 L709.91,78.17 L711.13,76.51 L712.43,74.69 L713.79,72.77 L715.18,70.79 L716.58,68.82 L717.96,66.90 L719.30,65.10 L720.61,63.37 L721.92,61.64 L723.24,59.91 L724.55,58.22 L725.86,56.57 L727.17,54.97 L728.49,53.44 L729.80,52.00 L731.11,50.64 L732.42,49.35 L733.74,48.11 L735.05,46.94 L736.36,45.83 L737.67,44.77 L738.99,43.76 L740.30,42.80 L741.63,41.88 L742.97,40.99 L744.32,40.15 L745.67,39.37 L747.00,38.65 L748.31,38.01 L749.58,37.46 L750.80,37.00 L752.02,36.66 L753.29,36.45 L754.54,36.33 L755.76,36.29 L756.89,36.29 L757.90,36.31 L758.75,36.32 L759.40,36.30" fill="none" stroke="#0aa85e" stroke-width="1.7" stroke-linejoin="round" />
<text x="640.00" y="34.10" font-size="10.2" text-anchor="start" font-weight="normal" fill="#231f20" stroke="#231f20" stroke-width="0.2" >scLPs</text>
<text x="0" y="0" font-size="9.9" fill="#0aa85e" stroke="#0aa85e" stroke-width="0.2" transform="translate(724.2,170.2) scale(1,1.09)"><tspan font-style="italic">s</tspan> = 0.2</text>
<text x="698.60" y="214.30" font-size="11.7" text-anchor="middle" font-weight="normal" fill="#231f20" stroke="#231f20" stroke-width="0.2" >Disk angle α (deg)</text>
<text x="0" y="0" font-size="11.7" text-anchor="middle" fill="#231f20" stroke="#231f20" stroke-width="0.2" transform="translate(594.50,97.80) rotate(-90)">Slope efficiency (a.u.)</text>
<rect x="427.70" y="249.50" width="134.70" height="58.70" fill="none" stroke="#231f20" stroke-width="0.9"/>
<line x1="434.30" y1="308.20" x2="434.30" y2="304.70" stroke="#231f20" stroke-width="0.9" />
<text x="434.30" y="323.90" font-size="10.9" text-anchor="middle" font-weight="normal" fill="#231f20" stroke="#231f20" stroke-width="0.2" >0</text>
<line x1="474.70" y1="308.20" x2="474.70" y2="304.70" stroke="#231f20" stroke-width="0.9" />
<text x="474.70" y="323.90" font-size="10.9" text-anchor="middle" font-weight="normal" fill="#231f20" stroke="#231f20" stroke-width="0.2" >30</text>
<line x1="515.10" y1="308.20" x2="515.10" y2="304.70" stroke="#231f20" stroke-width="0.9" />
<text x="515.10" y="323.90" font-size="10.9" text-anchor="middle" font-weight="normal" fill="#231f20" stroke="#231f20" stroke-width="0.2" >60</text>
<line x1="555.50" y1="308.20" x2="555.50" y2="304.70" stroke="#231f20" stroke-width="0.9" />
<text x="555.50" y="323.90" font-size="10.9" text-anchor="middle" font-weight="normal" fill="#231f20" stroke="#231f20" stroke-width="0.2" >90</text>
<line x1="454.50" y1="308.20" x2="454.50" y2="306.30" stroke="#231f20" stroke-width="0.9" />
<line x1="494.90" y1="308.20" x2="494.90" y2="306.30" stroke="#231f20" stroke-width="0.9" />
<line x1="535.30" y1="308.20" x2="535.30" y2="306.30" stroke="#231f20" stroke-width="0.9" />
<text x="422.20" y="311.90" font-size="10.9" text-anchor="end" font-weight="normal" fill="#231f20" stroke="#231f20" stroke-width="0.2" >0</text>
<line x1="427.70" y1="284.60" x2="431.20" y2="284.60" stroke="#231f20" stroke-width="0.9" />
<text x="422.20" y="288.30" font-size="10.9" text-anchor="end" font-weight="normal" fill="#231f20" stroke="#231f20" stroke-width="0.2" >10</text>
<line x1="427.70" y1="261.00" x2="431.20" y2="261.00" stroke="#231f20" stroke-width="0.9" />
<text x="422.20" y="264.70" font-size="10.9" text-anchor="end" font-weight="normal" fill="#231f20" stroke="#231f20" stroke-width="0.2" >20</text>
<rect x="631.70" y="249.50" width="132.90" height="58.70" fill="none" stroke="#231f20" stroke-width="0.9"/>
<line x1="638.40" y1="308.20" x2="638.40" y2="304.70" stroke="#231f20" stroke-width="0.9" />
<text x="638.40" y="323.90" font-size="10.9" text-anchor="middle" font-weight="normal" fill="#231f20" stroke="#231f20" stroke-width="0.2" >0</text>
<line x1="678.47" y1="308.20" x2="678.47" y2="304.70" stroke="#231f20" stroke-width="0.9" />
<text x="678.47" y="323.90" font-size="10.9" text-anchor="middle" font-weight="normal" fill="#231f20" stroke="#231f20" stroke-width="0.2" >30</text>
<line x1="718.54" y1="308.20" x2="718.54" y2="304.70" stroke="#231f20" stroke-width="0.9" />
<text x="718.54" y="323.90" font-size="10.9" text-anchor="middle" font-weight="normal" fill="#231f20" stroke="#231f20" stroke-width="0.2" >60</text>
<line x1="758.60" y1="308.20" x2="758.60" y2="304.70" stroke="#231f20" stroke-width="0.9" />
<text x="758.60" y="323.90" font-size="10.9" text-anchor="middle" font-weight="normal" fill="#231f20" stroke="#231f20" stroke-width="0.2" >90</text>
<line x1="658.43" y1="308.20" x2="658.43" y2="306.30" stroke="#231f20" stroke-width="0.9" />
<line x1="698.50" y1="308.20" x2="698.50" y2="306.30" stroke="#231f20" stroke-width="0.9" />
<line x1="738.57" y1="308.20" x2="738.57" y2="306.30" stroke="#231f20" stroke-width="0.9" />
<text x="626.20" y="311.90" font-size="10.9" text-anchor="end" font-weight="normal" fill="#231f20" stroke="#231f20" stroke-width="0.2" >0</text>
<line x1="631.70" y1="284.60" x2="635.20" y2="284.60" stroke="#231f20" stroke-width="0.9" />
<text x="626.20" y="288.30" font-size="10.9" text-anchor="end" font-weight="normal" fill="#231f20" stroke="#231f20" stroke-width="0.2" >10</text>
<line x1="631.70" y1="261.00" x2="635.20" y2="261.00" stroke="#231f20" stroke-width="0.9" />
<text x="626.20" y="264.70" font-size="10.9" text-anchor="end" font-weight="normal" fill="#231f20" stroke="#231f20" stroke-width="0.2" >20</text>
<circle cx="434.20" cy="284.40" r="2.1" fill="none" stroke="#333" stroke-width="0.75"/>
<circle cx="443.20" cy="292.90" r="2.1" fill="none" stroke="#333" stroke-width="0.75"/>
<circle cx="451.30" cy="290.30" r="2.1" fill="none" stroke="#333" stroke-width="0.75"/>
<circle cx="456.30" cy="281.60" r="2.1" fill="none" stroke="#333" stroke-width="0.75"/>
<circle cx="458.50" cy="283.10" r="2.1" fill="none" stroke="#333" stroke-width="0.75"/>
<circle cx="460.70" cy="282.70" r="2.1" fill="none" stroke="#333" stroke-width="0.75"/>
<circle cx="462.20" cy="285.90" r="2.1" fill="none" stroke="#333" stroke-width="0.75"/>
<circle cx="460.70" cy="289.90" r="2.1" fill="none" stroke="#333" stroke-width="0.75"/>
<circle cx="463.70" cy="289.90" r="2.1" fill="none" stroke="#333" stroke-width="0.75"/>
<circle cx="467.70" cy="284.40" r="2.1" fill="none" stroke="#333" stroke-width="0.75"/>
<circle cx="469.40" cy="284.80" r="2.1" fill="none" stroke="#333" stroke-width="0.75"/>
<circle cx="468.10" cy="292.50" r="2.1" fill="none" stroke="#333" stroke-width="0.75"/>
<circle cx="471.60" cy="288.60" r="2.1" fill="none" stroke="#333" stroke-width="0.75"/>
<circle cx="472.70" cy="292.50" r="2.1" fill="none" stroke="#333" stroke-width="0.75"/>
<circle cx="472.70" cy="295.80" r="2.1" fill="none" stroke="#333" stroke-width="0.75"/>
<circle cx="475.30" cy="285.50" r="2.1" fill="none" stroke="#333" stroke-width="0.75"/>
<circle cx="475.30" cy="289.20" r="2.1" fill="none" stroke="#333" stroke-width="0.75"/>
<circle cx="481.90" cy="282.20" r="2.1" fill="none" stroke="#333" stroke-width="0.75"/>
<circle cx="481.40" cy="289.20" r="2.1" fill="none" stroke="#333" stroke-width="0.75"/>
<circle cx="483.00" cy="293.60" r="2.1" fill="none" stroke="#333" stroke-width="0.75"/>
<circle cx="487.30" cy="292.50" r="2.1" fill="none" stroke="#333" stroke-width="0.75"/>
<circle cx="490.00" cy="290.30" r="2.1" fill="none" stroke="#333" stroke-width="0.75"/>
<circle cx="491.30" cy="278.90" r="2.1" fill="none" stroke="#333" stroke-width="0.75"/>
<circle cx="492.80" cy="289.90" r="2.1" fill="none" stroke="#333" stroke-width="0.75"/>
<circle cx="494.40" cy="284.80" r="2.1" fill="none" stroke="#333" stroke-width="0.75"/>
<circle cx="493.90" cy="293.20" r="2.1" fill="none" stroke="#333" stroke-width="0.75"/>
<circle cx="491.10" cy="292.10" r="2.1" fill="none" stroke="#333" stroke-width="0.75"/>
<circle cx="500.00" cy="284.40" r="2.1" fill="none" stroke="#333" stroke-width="0.75"/>
<circle cx="498.70" cy="293.60" r="2.1" fill="none" stroke="#333" stroke-width="0.75"/>
<circle cx="502.00" cy="290.80" r="2.1" fill="none" stroke="#333" stroke-width="0.75"/>
<circle cx="502.70" cy="294.70" r="2.1" fill="none" stroke="#333" stroke-width="0.75"/>
<circle cx="503.80" cy="297.30" r="2.1" fill="none" stroke="#333" stroke-width="0.75"/>
<circle cx="507.00" cy="291.80" r="2.1" fill="none" stroke="#333" stroke-width="0.75"/>
<circle cx="508.10" cy="295.80" r="2.1" fill="none" stroke="#333" stroke-width="0.75"/>
<circle cx="510.30" cy="290.80" r="2.1" fill="none" stroke="#333" stroke-width="0.75"/>
<circle cx="511.40" cy="294.70" r="2.1" fill="none" stroke="#333" stroke-width="0.75"/>
<circle cx="512.10" cy="288.10" r="2.1" fill="none" stroke="#333" stroke-width="0.75"/>
<circle cx="514.70" cy="288.10" r="2.1" fill="none" stroke="#333" stroke-width="0.75"/>
<circle cx="513.20" cy="292.50" r="2.1" fill="none" stroke="#333" stroke-width="0.75"/>
<circle cx="515.80" cy="291.80" r="2.1" fill="none" stroke="#333" stroke-width="0.75"/>
<circle cx="521.30" cy="293.60" r="2.1" fill="none" stroke="#333" stroke-width="0.75"/>
<circle cx="522.40" cy="287.00" r="2.1" fill="none" stroke="#333" stroke-width="0.75"/>
<circle cx="523.00" cy="289.20" r="2.1" fill="none" stroke="#333" stroke-width="0.75"/>
<circle cx="525.20" cy="297.50" r="2.1" fill="none" stroke="#333" stroke-width="0.75"/>
<circle cx="531.50" cy="287.00" r="2.1" fill="none" stroke="#333" stroke-width="0.75"/>
<circle cx="531.50" cy="290.80" r="2.1" fill="none" stroke="#333" stroke-width="0.75"/>
<circle cx="533.30" cy="293.60" r="2.1" fill="none" stroke="#333" stroke-width="0.75"/>
<circle cx="533.90" cy="296.20" r="2.1" fill="none" stroke="#333" stroke-width="0.75"/>
<circle cx="537.70" cy="290.80" r="2.1" fill="none" stroke="#333" stroke-width="0.75"/>
<circle cx="537.70" cy="295.10" r="2.1" fill="none" stroke="#333" stroke-width="0.75"/>
<circle cx="540.30" cy="293.60" r="2.1" fill="none" stroke="#333" stroke-width="0.75"/>
<circle cx="542.50" cy="286.60" r="2.1" fill="none" stroke="#333" stroke-width="0.75"/>
<circle cx="544.90" cy="291.80" r="2.1" fill="none" stroke="#333" stroke-width="0.75"/>
<circle cx="548.20" cy="292.90" r="2.1" fill="none" stroke="#333" stroke-width="0.75"/>
<circle cx="551.20" cy="281.60" r="2.1" fill="none" stroke="#333" stroke-width="0.75"/>
<circle cx="552.50" cy="286.60" r="2.1" fill="none" stroke="#333" stroke-width="0.75"/>
<circle cx="555.60" cy="289.90" r="2.1" fill="none" stroke="#333" stroke-width="0.75"/>
<circle cx="638.30" cy="289.60" r="2.1" fill="none" stroke="#333" stroke-width="0.75"/>
<circle cx="644.20" cy="292.90" r="2.1" fill="none" stroke="#333" stroke-width="0.75"/>
<circle cx="649.20" cy="292.50" r="2.1" fill="none" stroke="#333" stroke-width="0.75"/>
<circle cx="653.00" cy="288.10" r="2.1" fill="none" stroke="#333" stroke-width="0.75"/>
<circle cx="655.80" cy="279.80" r="2.1" fill="none" stroke="#333" stroke-width="0.75"/>
<circle cx="657.80" cy="286.30" r="2.1" fill="none" stroke="#333" stroke-width="0.75"/>
<circle cx="659.10" cy="295.10" r="2.1" fill="none" stroke="#333" stroke-width="0.75"/>
<circle cx="662.80" cy="297.90" r="2.1" fill="none" stroke="#333" stroke-width="0.75"/>
<circle cx="663.20" cy="281.10" r="2.1" fill="none" stroke="#333" stroke-width="0.75"/>
<circle cx="663.40" cy="285.50" r="2.1" fill="none" stroke="#333" stroke-width="0.75"/>
<circle cx="665.00" cy="288.10" r="2.1" fill="none" stroke="#333" stroke-width="0.75"/>
<circle cx="666.50" cy="274.50" r="2.1" fill="none" stroke="#333" stroke-width="0.75"/>
<circle cx="665.60" cy="262.50" r="2.1" fill="none" stroke="#333" stroke-width="0.75"/>
<circle cx="667.60" cy="284.40" r="2.1" fill="none" stroke="#333" stroke-width="0.75"/>
<circle cx="668.30" cy="291.40" r="2.1" fill="none" stroke="#333" stroke-width="0.75"/>
<circle cx="668.90" cy="289.20" r="2.1" fill="none" stroke="#333" stroke-width="0.75"/>
<circle cx="672.20" cy="288.10" r="2.1" fill="none" stroke="#333" stroke-width="0.75"/>
<circle cx="673.30" cy="283.70" r="2.1" fill="none" stroke="#333" stroke-width="0.75"/>
<circle cx="674.80" cy="291.80" r="2.1" fill="none" stroke="#333" stroke-width="0.75"/>
<circle cx="675.50" cy="286.30" r="2.1" fill="none" stroke="#333" stroke-width="0.75"/>
<circle cx="676.60" cy="284.80" r="2.1" fill="none" stroke="#333" stroke-width="0.75"/>
<circle cx="679.60" cy="289.20" r="2.1" fill="none" stroke="#333" stroke-width="0.75"/>
<circle cx="680.90" cy="281.50" r="2.1" fill="none" stroke="#333" stroke-width="0.75"/>
<circle cx="682.00" cy="268.40" r="2.1" fill="none" stroke="#333" stroke-width="0.75"/>
<circle cx="680.90" cy="296.40" r="2.1" fill="none" stroke="#333" stroke-width="0.75"/>
<circle cx="683.10" cy="296.40" r="2.1" fill="none" stroke="#333" stroke-width="0.75"/>
<circle cx="684.70" cy="292.90" r="2.1" fill="none" stroke="#333" stroke-width="0.75"/>
<circle cx="686.80" cy="284.80" r="2.1" fill="none" stroke="#333" stroke-width="0.75"/>
<circle cx="693.80" cy="298.40" r="2.1" fill="none" stroke="#333" stroke-width="0.75"/>
<circle cx="694.90" cy="292.90" r="2.1" fill="none" stroke="#333" stroke-width="0.75"/>
<circle cx="700.00" cy="294.70" r="2.1" fill="none" stroke="#333" stroke-width="0.75"/>
<circle cx="704.30" cy="285.90" r="2.1" fill="none" stroke="#333" stroke-width="0.75"/>
<circle cx="706.50" cy="288.50" r="2.1" fill="none" stroke="#333" stroke-width="0.75"/>
<circle cx="707.60" cy="282.60" r="2.1" fill="none" stroke="#333" stroke-width="0.75"/>
<circle cx="709.40" cy="277.20" r="2.1" fill="none" stroke="#333" stroke-width="0.75"/>
<circle cx="710.50" cy="290.70" r="2.1" fill="none" stroke="#333" stroke-width="0.75"/>
<circle cx="713.70" cy="289.20" r="2.1" fill="none" stroke="#333" stroke-width="0.75"/>
<circle cx="713.70" cy="292.50" r="2.1" fill="none" stroke="#333" stroke-width="0.75"/>
<circle cx="715.90" cy="295.10" r="2.1" fill="none" stroke="#333" stroke-width="0.75"/>
<circle cx="716.40" cy="299.00" r="2.1" fill="none" stroke="#333" stroke-width="0.75"/>
<circle cx="719.20" cy="290.70" r="2.1" fill="none" stroke="#333" stroke-width="0.75"/>
<circle cx="719.60" cy="299.50" r="2.1" fill="none" stroke="#333" stroke-width="0.75"/>
<circle cx="720.30" cy="295.10" r="2.1" fill="none" stroke="#333" stroke-width="0.75"/>
<circle cx="721.80" cy="289.80" r="2.1" fill="none" stroke="#333" stroke-width="0.75"/>
<circle cx="722.50" cy="298.60" r="2.1" fill="none" stroke="#333" stroke-width="0.75"/>
<circle cx="723.60" cy="294.70" r="2.1" fill="none" stroke="#333" stroke-width="0.75"/>
<circle cx="727.70" cy="290.70" r="2.1" fill="none" stroke="#333" stroke-width="0.75"/>
<circle cx="729.50" cy="293.60" r="2.1" fill="none" stroke="#333" stroke-width="0.75"/>
<circle cx="729.90" cy="281.50" r="2.1" fill="none" stroke="#333" stroke-width="0.75"/>
<circle cx="730.10" cy="285.30" r="2.1" fill="none" stroke="#333" stroke-width="0.75"/>
<circle cx="731.20" cy="295.70" r="2.1" fill="none" stroke="#333" stroke-width="0.75"/>
<circle cx="732.30" cy="300.10" r="2.1" fill="none" stroke="#333" stroke-width="0.75"/>
<circle cx="733.20" cy="291.80" r="2.1" fill="none" stroke="#333" stroke-width="0.75"/>
<circle cx="734.50" cy="257.10" r="2.1" fill="none" stroke="#333" stroke-width="0.75"/>
<circle cx="735.40" cy="297.90" r="2.1" fill="none" stroke="#333" stroke-width="0.75"/>
<circle cx="736.50" cy="291.80" r="2.1" fill="none" stroke="#333" stroke-width="0.75"/>
<circle cx="737.10" cy="287.00" r="2.1" fill="none" stroke="#333" stroke-width="0.75"/>
<circle cx="739.30" cy="297.90" r="2.1" fill="none" stroke="#333" stroke-width="0.75"/>
<circle cx="741.10" cy="281.10" r="2.1" fill="none" stroke="#333" stroke-width="0.75"/>
<circle cx="742.20" cy="285.30" r="2.1" fill="none" stroke="#333" stroke-width="0.75"/>
<circle cx="743.70" cy="295.30" r="2.1" fill="none" stroke="#333" stroke-width="0.75"/>
<circle cx="745.20" cy="297.30" r="2.1" fill="none" stroke="#333" stroke-width="0.75"/>
<circle cx="745.90" cy="267.80" r="2.1" fill="none" stroke="#333" stroke-width="0.75"/>
<circle cx="746.50" cy="287.70" r="2.1" fill="none" stroke="#333" stroke-width="0.75"/>
<circle cx="747.00" cy="294.20" r="2.1" fill="none" stroke="#333" stroke-width="0.75"/>
<circle cx="755.10" cy="290.70" r="2.1" fill="none" stroke="#333" stroke-width="0.75"/>
<circle cx="759.00" cy="288.10" r="2.1" fill="none" stroke="#333" stroke-width="0.75"/>
<text x="440.60" y="242.90" font-size="11.4" text-anchor="start" font-weight="normal" fill="#231f20" stroke="#231f20" stroke-width="0.2" >cLPs</text>
<text x="641.40" y="242.80" font-size="11.4" text-anchor="start" font-weight="normal" fill="#231f20" stroke="#231f20" stroke-width="0.2" >scLPs</text>
<text x="494.00" y="340.60" font-size="11.7" text-anchor="middle" font-weight="normal" fill="#231f20" stroke="#231f20" stroke-width="0.2" >Disk angle α (deg)</text>
<text x="698.80" y="340.60" font-size="11.7" text-anchor="middle" font-weight="normal" fill="#231f20" stroke="#231f20" stroke-width="0.2" >Disk angle α (deg)</text>
<text x="0" y="0" font-size="11.7" text-anchor="middle" fill="#231f20" stroke="#231f20" stroke-width="0.2" transform="translate(398.40,278.50) rotate(-90)">Threshold (pJ)</text>
<text x="0" y="0" font-size="11.7" text-anchor="middle" fill="#231f20" stroke="#231f20" stroke-width="0.2" transform="translate(602.20,278.50) rotate(-90)">Threshold (pJ)</text>
</svg></body></html>
